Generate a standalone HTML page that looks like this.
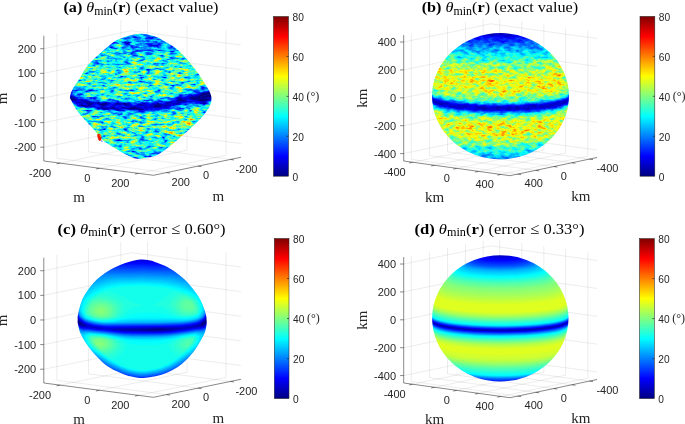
<!DOCTYPE html>
<html><head><meta charset="utf-8"><style>
html,body{margin:0;padding:0;background:#fff;}
svg{display:block;will-change:transform;}
.tk{font-family:"Liberation Sans",sans-serif;font-size:11px;fill:#262626;}
.cb{font-family:"Liberation Sans",sans-serif;font-size:10.2px;fill:#262626;}
.deg{font-family:"Liberation Serif",serif;font-size:12px;fill:#262626;}
.ul{font-family:"Liberation Serif",serif;font-size:15px;fill:#262626;}
.ttl{font-family:"Liberation Serif",serif;font-size:15.6px;fill:#000;}
</style></head><body>
<svg width="685" height="424" viewBox="0 0 685 424">
<defs><linearGradient id="jetv" x1="0" y1="1" x2="0" y2="0"><stop offset="0" stop-color="#000080"/><stop offset="0.125" stop-color="#0000ff"/><stop offset="0.375" stop-color="#00ffff"/><stop offset="0.625" stop-color="#ffff00"/><stop offset="0.875" stop-color="#ff0000"/><stop offset="1" stop-color="#800000"/></linearGradient><mask id="cpa" maskUnits="userSpaceOnUse" x="0" y="0" width="685" height="424"><path d="M70,96.5C70.3,94.4 71.7,90.8 73.2,88C74.7,85.2 76.9,82.9 79,79.5C81.1,76.1 83.2,71.4 86,67.7C88.8,64 92.7,60.3 96,57.1C99.3,53.9 102.7,51 106,48.3C109.3,45.5 113,42.5 116,40.6C119,38.8 121.2,38.2 124,37.2C126.8,36.2 130,35.4 133,34.8C136,34.2 138.8,33.7 142,33.8C145.2,33.9 148.9,34.7 152,35.6C155.1,36.5 157.6,37.5 160.5,39C163.4,40.5 166.5,42.4 169.5,44.3C172.5,46.2 175.1,47.3 178.3,50.2C181.5,53.1 185.6,57.6 188.9,61.5C192.2,65.4 195.5,69.5 198.3,73.5C201.2,77.5 204.1,82.4 206,85.5C207.9,88.6 208.9,90 209.8,92C210.7,94 211.3,95.3 211.4,97.5C211.5,99.7 211.6,102.1 210.3,105C209,107.9 206.5,111.7 203.8,115C201.1,118.3 197.6,121.7 194.1,125C190.6,128.3 186.9,131.7 183.1,135C179.3,138.3 175.7,141.7 171.4,145C167.1,148.3 161.5,152.8 157.1,155C152.7,157.2 148.7,157.3 145.2,157.9C141.7,158.5 139.3,159.2 136,158.6C132.7,158 129.6,156.4 125.5,154.3C121.4,152.2 115.2,148.4 111.4,146C107.6,143.6 105.4,142.7 102.6,140C99.8,137.3 97.2,133.3 94.3,130C91.3,126.7 87.9,123.3 84.9,120C82,116.7 78.9,113.2 76.6,110C74.3,106.8 72.4,102.8 71.3,100.5C70.2,98.2 69.7,98.6 70,96.5Z" fill="#fff"/></mask><filter id="nza" x="66" y="30" width="150" height="133" filterUnits="userSpaceOnUse" color-interpolation-filters="sRGB"><feTurbulence type="fractalNoise" baseFrequency="0.13 0.38" numOctaves="3" seed="3" result="t0"/><feColorMatrix in="t0" type="matrix" values="1 0 0 0 0 1 0 0 0 0 1 0 0 0 0 0 0 0 0 1" result="n0"/><feComposite in="SourceGraphic" in2="n0" operator="arithmetic" k1="1.450" k2="0.275" k3="0.217" k4="-0.109" result="s0"/><feTurbulence type="fractalNoise" baseFrequency="0.035 0.07" numOctaves="2" seed="11" result="t1"/><feColorMatrix in="t1" type="matrix" values="1 0 0 0 0 1 0 0 0 0 1 0 0 0 0 0 0 0 0 1" result="n1"/><feComposite in="s0" in2="n1" operator="arithmetic" k1="0.200" k2="0.900" k3="0.030" k4="-0.015" result="s1"/><feComponentTransfer in="s1"><feFuncR type="table" tableValues="0 0 0 0 0.5 1 1 1 0.5"/><feFuncG type="table" tableValues="0 0 0.5 1 1 1 0.5 0 0"/><feFuncB type="table" tableValues="0.5 1 1 1 0.5 0 0 0 0"/></feComponentTransfer><feComposite in2="SourceAlpha" operator="in"/></filter><mask id="cpb" maskUnits="userSpaceOnUse" x="0" y="0" width="685" height="424"><path d="M432,96.2a68.5,63.1 0 1,0 137,0a68.5,63.1 0 1,0 -137,0Z" fill="#fff"/></mask><filter id="nzb" x="428" y="29" width="145" height="134" filterUnits="userSpaceOnUse" color-interpolation-filters="sRGB"><feTurbulence type="fractalNoise" baseFrequency="0.16 0.3" numOctaves="3" seed="7" result="t0"/><feColorMatrix in="t0" type="matrix" values="1 0 0 0 0 1 0 0 0 0 1 0 0 0 0 0 0 0 0 1" result="n0"/><feComposite in="SourceGraphic" in2="n0" operator="arithmetic" k1="0.720" k2="0.640" k3="0.072" k4="-0.036" result="s0"/><feTurbulence type="fractalNoise" baseFrequency="0.05" numOctaves="2" seed="5" result="t1"/><feColorMatrix in="t1" type="matrix" values="1 0 0 0 0 1 0 0 0 0 1 0 0 0 0 0 0 0 0 1" result="n1"/><feComposite in="s0" in2="n1" operator="arithmetic" k1="0.150" k2="0.925" k3="0.015" k4="-0.007" result="s1"/><feComponentTransfer in="s1"><feFuncR type="table" tableValues="0 0 0 0 0.5 1 1 1 0.5"/><feFuncG type="table" tableValues="0 0 0.5 1 1 1 0.5 0 0"/><feFuncB type="table" tableValues="0.5 1 1 1 0.5 0 0 0 0"/></feComponentTransfer><feComposite in2="SourceAlpha" operator="in"/></filter><mask id="cpc" maskUnits="userSpaceOnUse" x="0" y="0" width="685" height="424"><path d="M77.5,318.6C77.7,316 78.4,312.4 79.1,309.5C79.8,306.6 80.6,303.7 81.6,301.2C82.6,298.7 83.5,296.9 84.9,294.6C86.3,292.3 88,289.7 89.9,287.2C91.8,284.7 94,282.1 96.5,279.8C99,277.5 101.7,275.3 104.7,273.2C107.7,271.1 111.3,269 114.6,267.4C117.9,265.8 121.2,264.5 124.5,263.3C127.8,262.1 131.5,261 134.4,260.4C137.3,259.8 139.6,259.5 142,259.5C144.4,259.5 146.8,259.9 149,260.3C151.2,260.7 152.3,261 154.9,261.9C157.5,262.8 161.5,264.1 164.8,265.7C168.1,267.3 171.7,269.4 174.7,271.5C177.7,273.6 180.4,275.9 182.9,278.1C185.4,280.3 187.3,282.2 189.5,284.7C191.7,287.2 194.2,290.2 196.1,293C198,295.8 199.7,298.4 201.1,301.2C202.5,303.9 203.5,306.9 204.4,309.5C205.3,312.1 205.9,314.7 206.3,316.5C206.7,318.3 206.8,319.1 206.8,320.5C206.8,321.9 206.8,323.1 206.5,324.9C206.2,326.7 206.1,329 205.2,331.5C204.3,334 202.7,337.1 201.2,339.8C199.7,342.6 198.2,345.2 196.3,348C194.4,350.8 192.2,353.7 189.8,356.3C187.4,358.9 185,361.4 182.1,363.7C179.2,366 175.6,368.4 172.2,370.3C168.8,372.2 165.2,373.7 161.5,374.8C157.8,375.9 153.2,376.7 149.9,377.2C146.7,377.7 144.3,377.9 142,377.9C139.7,377.9 138.7,377.8 136.1,377.4C133.5,377 129.5,376.4 126.2,375.3C122.9,374.2 119.6,372.8 116.3,371.1C113,369.5 109.4,367.6 106.4,365.4C103.4,363.2 100.8,360.5 98.2,357.9C95.6,355.3 93,352.4 90.8,349.7C88.6,346.9 86.5,344.1 84.8,341.4C83.1,338.6 81.5,335.9 80.4,333.2C79.3,330.4 78.6,327.3 78.1,324.9C77.6,322.5 77.3,321.2 77.5,318.6Z" fill="#fff"/></mask><mask id="cpd" maskUnits="userSpaceOnUse" x="0" y="0" width="685" height="424"><path d="M432.1,318.3a68.2,63.1 0 1,0 136.4,0a68.2,63.1 0 1,0 -136.4,0Z" fill="#fff"/></mask></defs>
<rect width="685" height="424" fill="#fff"/>
<path d="M43.8,147.22L131.3,129.22M131.3,129.22L240.9,143.52M43.8,122.6L131.3,104.6M131.3,104.6L240.9,118.9M43.8,97.97L131.3,79.97M131.3,79.97L240.9,94.27M43.8,73.35L131.3,55.35M131.3,55.35L240.9,69.65M43.8,48.73L131.3,30.73M131.3,30.73L240.9,45.03M56.92,158.3L56.92,33M56.92,158.3L166.52,172.6M88.42,151.82L88.42,26.52M88.42,151.82L198.02,166.12M120.8,145.16L120.8,19.86M120.8,145.16L230.4,159.46M147.52,145.12L147.52,19.82M60.02,163.12L147.52,145.12M186.98,150.26L186.98,24.96M99.48,168.26L186.98,150.26M225.99,155.36L225.99,30.06M138.49,173.36L225.99,155.36" fill="none" stroke="#262626" stroke-opacity="0.17" stroke-width="0.5"/>
<path d="M43.8,35.7L43.8,161L153.4,175.3L240.9,157.3" fill="none" stroke="#262626" stroke-width="0.55" stroke-linejoin="round"/>
<path d="M43.8,147.22l-3.6,0M43.8,122.6l-3.6,0M43.8,97.97l-3.6,0M43.8,73.35l-3.6,0M43.8,48.73l-3.6,0M60.02,163.12l-3.53,0.73M99.48,168.26l-3.53,0.73M138.49,173.36l-3.53,0.73M166.52,172.6l3.57,0.47M198.02,166.12l3.57,0.47M230.4,159.46l3.57,0.47" fill="none" stroke="#262626" stroke-width="0.55"/>
<text x="36.2" y="151.16" text-anchor="end" class="tk">-200</text>
<text x="36.2" y="126.53" text-anchor="end" class="tk">-100</text>
<text x="36.2" y="101.91" text-anchor="end" class="tk">0</text>
<text x="36.2" y="77.29" text-anchor="end" class="tk">100</text>
<text x="36.2" y="52.67" text-anchor="end" class="tk">200</text>
<text x="51.02" y="176.75" text-anchor="end" class="tk">-200</text>
<text x="90.48" y="181.9" text-anchor="end" class="tk">0</text>
<text x="129.49" y="186.99" text-anchor="end" class="tk">200</text>
<text x="171.52" y="185.84" text-anchor="start" class="tk">200</text>
<text x="203.02" y="179.36" text-anchor="start" class="tk">0</text>
<text x="235.4" y="172.7" text-anchor="start" class="tk">-200</text>
<path d="M403.7,153.57L490.8,135.37M490.8,135.37L597.1,150.07M403.7,125.69L490.8,107.49M490.8,107.49L597.1,122.19M403.7,97.8L490.8,79.6M490.8,79.6L597.1,94.3M403.7,69.91L490.8,51.71M490.8,51.71L597.1,66.41M403.7,42.02L490.8,23.82M490.8,23.82L597.1,38.52M411.28,159.42L411.28,33.52M411.28,159.42L517.58,174.12M429.39,155.63L429.39,29.73M429.39,155.63L535.69,170.33M447.51,151.85L447.51,25.95M447.51,151.85L553.81,166.55M465.54,148.08L465.54,22.18M465.54,148.08L571.84,162.78M483.14,144.4L483.14,18.5M483.14,144.4L589.44,159.1M499.73,144.03L499.73,18.13M412.63,162.23L499.73,144.03M521.73,147.08L521.73,21.18M434.63,165.28L521.73,147.08M543.84,150.14L543.84,24.24M456.74,168.34L543.84,150.14M565.64,153.15L565.64,27.25M478.54,171.35L565.64,153.15M587.85,156.22L587.85,30.32M500.75,174.42L587.85,156.22" fill="none" stroke="#262626" stroke-opacity="0.17" stroke-width="0.5"/>
<path d="M403.7,35.1L403.7,161L510,175.7L597.1,157.5" fill="none" stroke="#262626" stroke-width="0.55" stroke-linejoin="round"/>
<path d="M403.7,153.57l-3.6,0M403.7,125.69l-3.6,0M403.7,97.8l-3.6,0M403.7,69.91l-3.6,0M403.7,42.02l-3.6,0M412.63,162.23l-3.52,0.74M434.63,165.28l-3.52,0.74M456.74,168.34l-3.52,0.74M478.54,171.35l-3.52,0.74M500.75,174.42l-3.52,0.74M517.58,174.12l3.57,0.49M535.69,170.33l3.57,0.49M553.81,166.55l3.57,0.49M571.84,162.78l3.57,0.49M589.44,159.1l3.57,0.49" fill="none" stroke="#262626" stroke-width="0.55"/>
<text x="396.1" y="157.51" text-anchor="end" class="tk">-400</text>
<text x="396.1" y="129.62" text-anchor="end" class="tk">-200</text>
<text x="396.1" y="101.74" text-anchor="end" class="tk">0</text>
<text x="396.1" y="73.85" text-anchor="end" class="tk">200</text>
<text x="396.1" y="45.96" text-anchor="end" class="tk">400</text>
<text x="405.73" y="175.87" text-anchor="end" class="tk">-400</text>
<text x="449.84" y="181.97" text-anchor="end" class="tk">0</text>
<text x="493.85" y="188.06" text-anchor="end" class="tk">400</text>
<text x="524.58" y="187.35" text-anchor="start" class="tk">400</text>
<text x="560.81" y="179.78" text-anchor="start" class="tk">0</text>
<text x="596.44" y="172.34" text-anchor="start" class="tk">-400</text>
<path d="M43.8,369.22L131.3,351.22M131.3,351.22L240.9,365.52M43.8,344.6L131.3,326.6M131.3,326.6L240.9,340.9M43.8,319.97L131.3,301.97M131.3,301.97L240.9,316.27M43.8,295.35L131.3,277.35M131.3,277.35L240.9,291.65M43.8,270.73L131.3,252.73M131.3,252.73L240.9,267.03M56.92,380.3L56.92,255M56.92,380.3L166.52,394.6M88.42,373.82L88.42,248.52M88.42,373.82L198.02,388.12M120.8,367.16L120.8,241.86M120.8,367.16L230.4,381.46M147.52,367.12L147.52,241.82M60.02,385.12L147.52,367.12M186.98,372.26L186.98,246.96M99.48,390.26L186.98,372.26M225.99,377.36L225.99,252.06M138.49,395.36L225.99,377.36" fill="none" stroke="#262626" stroke-opacity="0.17" stroke-width="0.5"/>
<path d="M43.8,257.7L43.8,383L153.4,397.3L240.9,379.3" fill="none" stroke="#262626" stroke-width="0.55" stroke-linejoin="round"/>
<path d="M43.8,369.22l-3.6,0M43.8,344.6l-3.6,0M43.8,319.97l-3.6,0M43.8,295.35l-3.6,0M43.8,270.73l-3.6,0M60.02,385.12l-3.53,0.73M99.48,390.26l-3.53,0.73M138.49,395.36l-3.53,0.73M166.52,394.6l3.57,0.47M198.02,388.12l3.57,0.47M230.4,381.46l3.57,0.47" fill="none" stroke="#262626" stroke-width="0.55"/>
<text x="36.2" y="373.15" text-anchor="end" class="tk">-200</text>
<text x="36.2" y="348.53" text-anchor="end" class="tk">-100</text>
<text x="36.2" y="323.91" text-anchor="end" class="tk">0</text>
<text x="36.2" y="299.29" text-anchor="end" class="tk">100</text>
<text x="36.2" y="274.67" text-anchor="end" class="tk">200</text>
<text x="51.02" y="398.75" text-anchor="end" class="tk">-200</text>
<text x="90.48" y="403.9" text-anchor="end" class="tk">0</text>
<text x="129.49" y="408.99" text-anchor="end" class="tk">200</text>
<text x="171.52" y="407.84" text-anchor="start" class="tk">200</text>
<text x="203.02" y="401.36" text-anchor="start" class="tk">0</text>
<text x="235.4" y="394.7" text-anchor="start" class="tk">-200</text>
<path d="M403.7,375.57L490.8,357.37M490.8,357.37L597.1,372.07M403.7,347.69L490.8,329.49M490.8,329.49L597.1,344.19M403.7,319.8L490.8,301.6M490.8,301.6L597.1,316.3M403.7,291.91L490.8,273.71M490.8,273.71L597.1,288.41M403.7,264.02L490.8,245.82M490.8,245.82L597.1,260.52M411.28,381.42L411.28,255.52M411.28,381.42L517.58,396.12M429.39,377.63L429.39,251.73M429.39,377.63L535.69,392.33M447.51,373.85L447.51,247.95M447.51,373.85L553.81,388.55M465.54,370.08L465.54,244.18M465.54,370.08L571.84,384.78M483.14,366.4L483.14,240.5M483.14,366.4L589.44,381.1M499.73,366.03L499.73,240.13M412.63,384.23L499.73,366.03M521.73,369.08L521.73,243.18M434.63,387.28L521.73,369.08M543.84,372.14L543.84,246.24M456.74,390.34L543.84,372.14M565.64,375.15L565.64,249.25M478.54,393.35L565.64,375.15M587.85,378.22L587.85,252.32M500.75,396.42L587.85,378.22" fill="none" stroke="#262626" stroke-opacity="0.17" stroke-width="0.5"/>
<path d="M403.7,257.1L403.7,383L510,397.7L597.1,379.5" fill="none" stroke="#262626" stroke-width="0.55" stroke-linejoin="round"/>
<path d="M403.7,375.57l-3.6,0M403.7,347.69l-3.6,0M403.7,319.8l-3.6,0M403.7,291.91l-3.6,0M403.7,264.02l-3.6,0M412.63,384.23l-3.52,0.74M434.63,387.28l-3.52,0.74M456.74,390.34l-3.52,0.74M478.54,393.35l-3.52,0.74M500.75,396.42l-3.52,0.74M517.58,396.12l3.57,0.49M535.69,392.33l3.57,0.49M553.81,388.55l3.57,0.49M571.84,384.78l3.57,0.49M589.44,381.1l3.57,0.49" fill="none" stroke="#262626" stroke-width="0.55"/>
<text x="396.1" y="379.51" text-anchor="end" class="tk">-400</text>
<text x="396.1" y="351.62" text-anchor="end" class="tk">-200</text>
<text x="396.1" y="323.74" text-anchor="end" class="tk">0</text>
<text x="396.1" y="295.85" text-anchor="end" class="tk">200</text>
<text x="396.1" y="267.96" text-anchor="end" class="tk">400</text>
<text x="405.73" y="397.87" text-anchor="end" class="tk">-400</text>
<text x="449.84" y="403.97" text-anchor="end" class="tk">0</text>
<text x="493.85" y="410.06" text-anchor="end" class="tk">400</text>
<text x="524.58" y="409.35" text-anchor="start" class="tk">400</text>
<text x="560.81" y="401.78" text-anchor="start" class="tk">0</text>
<text x="596.44" y="394.34" text-anchor="start" class="tk">-400</text>
<text x="79" y="201.9" text-anchor="middle" class="ul">m</text>
<text x="218.4" y="200.5" text-anchor="middle" class="ul">m</text>
<text transform="translate(6.8,98.5) rotate(-90)" text-anchor="middle" class="ul">m</text>
<text x="434.7" y="202.3" text-anchor="middle" class="ul">km</text>
<text x="580.8" y="200.7" text-anchor="middle" class="ul">km</text>
<text transform="translate(367.1,98.1) rotate(-90)" text-anchor="middle" class="ul">km</text>
<text x="79" y="423.9" text-anchor="middle" class="ul">m</text>
<text x="218.4" y="422.5" text-anchor="middle" class="ul">m</text>
<text transform="translate(6.8,320.5) rotate(-90)" text-anchor="middle" class="ul">m</text>
<text x="434.7" y="424.3" text-anchor="middle" class="ul">km</text>
<text x="580.8" y="422.7" text-anchor="middle" class="ul">km</text>
<text transform="translate(367.1,320.1) rotate(-90)" text-anchor="middle" class="ul">km</text>
<rect x="273.5" y="16.5" width="15" height="159.7" fill="url(#jetv)" stroke="#262626" stroke-width="0.55"/>
<text x="292.5" y="181.06" class="cb">0</text>
<text x="292.5" y="141.13" class="cb">20</text>
<text x="292.5" y="101.21" class="cb">40</text>
<text x="292.5" y="61.28" class="cb">60</text>
<text x="292.5" y="21.36" class="cb">80</text>
<path d="M288.5,136.27h-2M288.5,96.35h-2M288.5,56.42h-2" stroke="#262626" stroke-width="0.7"/>
<text x="306.5" y="99.85" class="deg">(°)</text>
<rect x="640" y="16.4" width="14.8" height="159.8" fill="url(#jetv)" stroke="#262626" stroke-width="0.55"/>
<text x="658.8" y="181.06" class="cb">0</text>
<text x="658.8" y="141.11" class="cb">20</text>
<text x="658.8" y="101.16" class="cb">40</text>
<text x="658.8" y="61.21" class="cb">60</text>
<text x="658.8" y="21.26" class="cb">80</text>
<path d="M654.8,136.25h-2M654.8,96.3h-2M654.8,56.35h-2" stroke="#262626" stroke-width="0.7"/>
<text x="672.8" y="99.8" class="deg">(°)</text>
<rect x="274.3" y="238.5" width="14.7" height="160.1" fill="url(#jetv)" stroke="#262626" stroke-width="0.55"/>
<text x="293" y="403.46" class="cb">0</text>
<text x="293" y="363.43" class="cb">20</text>
<text x="293" y="323.41" class="cb">40</text>
<text x="293" y="283.38" class="cb">60</text>
<text x="293" y="243.36" class="cb">80</text>
<path d="M289,358.58h-2M289,318.55h-2M289,278.52h-2" stroke="#262626" stroke-width="0.7"/>
<text x="307" y="322.05" class="deg">(°)</text>
<rect x="639.5" y="238.6" width="14.8" height="160" fill="url(#jetv)" stroke="#262626" stroke-width="0.55"/>
<text x="658.3" y="403.46" class="cb">0</text>
<text x="658.3" y="363.46" class="cb">20</text>
<text x="658.3" y="323.46" class="cb">40</text>
<text x="658.3" y="283.46" class="cb">60</text>
<text x="658.3" y="243.46" class="cb">80</text>
<path d="M654.3,358.6h-2M654.3,318.6h-2M654.3,278.6h-2" stroke="#262626" stroke-width="0.7"/>
<text x="672.3" y="322.1" class="deg">(°)</text>
<g mask="url(#cpa)"><g filter="url(#nza)"><path d="M70,96.5C70.3,94.4 71.7,90.8 73.2,88C74.7,85.2 76.9,82.9 79,79.5C81.1,76.1 83.2,71.4 86,67.7C88.8,64 92.7,60.3 96,57.1C99.3,53.9 102.7,51 106,48.3C109.3,45.5 113,42.5 116,40.6C119,38.8 121.2,38.2 124,37.2C126.8,36.2 130,35.4 133,34.8C136,34.2 138.8,33.7 142,33.8C145.2,33.9 148.9,34.7 152,35.6C155.1,36.5 157.6,37.5 160.5,39C163.4,40.5 166.5,42.4 169.5,44.3C172.5,46.2 175.1,47.3 178.3,50.2C181.5,53.1 185.6,57.6 188.9,61.5C192.2,65.4 195.5,69.5 198.3,73.5C201.2,77.5 204.1,82.4 206,85.5C207.9,88.6 208.9,90 209.8,92C210.7,94 211.3,95.3 211.4,97.5C211.5,99.7 211.6,102.1 210.3,105C209,107.9 206.5,111.7 203.8,115C201.1,118.3 197.6,121.7 194.1,125C190.6,128.3 186.9,131.7 183.1,135C179.3,138.3 175.7,141.7 171.4,145C167.1,148.3 161.5,152.8 157.1,155C152.7,157.2 148.7,157.3 145.2,157.9C141.7,158.5 139.3,159.2 136,158.6C132.7,158 129.6,156.4 125.5,154.3C121.4,152.2 115.2,148.4 111.4,146C107.6,143.6 105.4,142.7 102.6,140C99.8,137.3 97.2,133.3 94.3,130C91.3,126.7 87.9,123.3 84.9,120C82,116.7 78.9,113.2 76.6,110C74.3,106.8 72.4,102.8 71.3,100.5C70.2,98.2 69.7,98.6 70,96.5Z" fill="#020202"/><path d="M214.5,162L66,162L66,30L214.5,30L214.5,162ZM205.2,100L207.5,99.2L209.5,98L210.5,96.9L211.2,95.5L212.1,95L211.7,94.5L211,94.1L209.5,94.7L205.6,94.5L198.8,95.5L193.6,98.5L197,99.6L200,100.2L205.2,100Z" fill="#050505"/><path d="M214.5,162L66,162L66,30L214.5,30L214.5,162ZM202.8,100.5L205.5,100.2L208.1,99.5L210.3,98L211.5,96L213.5,95.4L214,95L210.5,93.3L209.5,93.8L200,95L197.3,95.5L192.2,98.5L192.4,99L198.1,100.5L202.8,100.5Z" fill="#080808"/><path d="M214.5,162L66,162L66,30L214.5,30L214.5,94.6L210.5,92.7L210,92.7L208,93.7L196.3,95.5L194.9,96L189.9,99L196.5,100.6L200,100.8L204,100.6L208.7,99.5L210.5,98.5L211.5,96.8L214.5,96L214.5,162Z" fill="#0b0b0b"/><path d="M214.5,162L66,162L66,30L214.5,30L214.5,93.9L210,92.1L209,93L207.5,93.5L199.5,94.6L193.6,96L187.3,99.5L188,99.8L195,100.9L203.5,100.8L208.5,99.8L210.5,98.7L211.5,97.2L214.5,96.8L214.5,162Z" fill="#0e0e0e"/><path d="M214.5,162L66,162L66,97.2L69.5,97.2L70,97.7L70.1,97.5L69.5,96.8L66,96.8L66,30L214.5,30L214.5,93.2L210,91.9L209,92.8L207.5,93.3L199,94.5L192.6,96L186.5,99L181.1,101L182,101.2L187.5,100.6L194.5,101.2L203.6,101L206.5,100.6L209,99.8L210.5,99L211.5,97.5L214.5,97.5L214.5,162Z" fill="#121212"/><path d="M144,106L131,106L117,105.5L104.5,104.7L93,103.5L84.5,102.1L77.5,100.6L74.5,99.6L72,98.4L70.5,97.1L70,95.9L66,96L66,30L214.5,30L214.5,92.8L210,91.7L209,92.5L207.5,93.1L196,94.9L190.1,96.5L185,98.8L179,100.9L172,102.8L166,104.1L156,105.5L144,106ZM214.5,162L66,162L66,98L69.5,98L70,98.2L71,99.6L72.3,100.5L77.5,102.4L84,103.9L91,105.1L101.5,106.3L113,107.1L126,107.7L139,107.9L151,107.6L160.5,106.7L167.5,105.5L181,102.2L185.5,101.4L200,101.4L204.5,101.1L207.5,100.5L209.5,99.8L211,98.7L211.5,97.7L214.5,97.8L214.5,162Z" fill="#151515"/><path d="M151,105L138.5,105.3L123,105L108.5,104.2L95.5,103L86,101.6L78.4,100L74.5,98.7L72,97.5L70.9,96.5L70,94.9L66,95L66,30L214.5,30L214.5,92.6L210,91.5L208.5,92.5L207.5,92.8L198.5,94.2L192,95.7L187.6,97L178.5,100.2L169.5,102.6L161,104.1L151,105ZM214.5,162L66,162L66,98.8L70,98.8L71.5,100.6L72.5,101.2L78,103.3L84.5,104.8L92.5,106L103,107.2L114.5,108L127.5,108.5L140,108.7L151.5,108.4L161,107.4L168,106.2L180.5,103L185,102.2L190,101.7L201,101.5L205,101.2L209.5,100L211,98.9L211.5,97.9L214.5,98.1L214.5,162Z" fill="#181818"/><path d="M154.5,104L147.5,104.5L125,104.4L112.5,103.8L100,102.8L88,101.3L80.5,99.9L76.5,98.8L73,97.4L71.1,96L70.3,94.5L66,94.5L66,30L214.5,30L214.5,92.4L209.5,91.3L208.9,92L207.5,92.6L199.5,93.8L195,94.7L170,101.8L162,103.4L154.5,104ZM214.5,162L66,162L66,99.5L70.5,99.5L71.5,100.9L73,102L76.5,103.5L80.1,104.5L87.5,106L94.5,107L104,108L119.2,109L140,109.4L153.7,109L162.3,108L168,106.9L182.5,103.2L187.5,102.3L193,101.8L202,101.7L206,101.2L210,99.9L211,99.1L211.5,98.1L214.5,98.3L214.5,162Z" fill="#1b1b1b"/><path d="M150.5,104L140.5,104.3L126.5,104.1L108,103.2L97,102.2L86,100.6L79,99.2L75.5,98.1L72.5,96.7L71,95.5L70.5,94.2L66,94.2L66,30L214.5,30L214.5,92.2L209.5,91L208.5,92L207.5,92.4L195,94.5L169,101.7L160.5,103.2L150.5,104ZM214.5,162L66,162L66,99.8L70.5,99.8L71.3,100.5L71.4,101L72.7,102L76.5,103.7L84,105.6L93.5,107.1L103.5,108.2L116.5,109.1L129.5,109.6L142,109.7L154.5,109.2L163.5,108.1L171,106.6L183.5,103.3L188,102.5L193,102L202,101.9L206,101.4L210,100.1L211,99.3L211.5,98.3L214.5,98.5L214.5,162Z" fill="#1e1e1e"/><path d="M144.5,104L132.5,104L117.5,103.5L105,102.7L93.5,101.5L85,100.2L78.5,98.8L75,97.7L72.5,96.5L71,95.1L70.5,93.9L66,94L66,30L214.5,30L214.5,92L209.5,90.8L208.5,91.7L207,92.3L195,94.3L174.5,100.1L167,101.9L157,103.4L144.5,104ZM214.5,162L66,162L66,100L70.5,100L73,102.3L77.5,104.2L84.5,105.9L93.5,107.3L103.5,108.4L116.5,109.3L129.5,109.8L142,109.9L153.1,109.5L162.4,108.5L169.5,107.1L182.5,103.8L187.5,102.7L192,102.2L201.5,102.1L206,101.6L210,100.3L211,99.5L211.5,98.5L214.5,98.7L214.5,162Z" fill="#212121"/><path d="M152,103.5L139.5,103.9L124.5,103.6L109.5,102.8L96.5,101.7L86.5,100.3L79,98.7L75.5,97.6L73,96.5L71.5,95.4L70.5,93.6L66,93.8L66,30L214.5,30L214.5,91.8L209.5,90.7L208.4,91.5L207,92L195,94.1L169,101.3L161,102.7L152,103.5ZM214.5,162L66,162L66,100.2L70.5,100.2L71,100.4L71.3,101L73,102.5L77.5,104.3L84.5,106L94,107.5L104.5,108.7L116.5,109.5L129.5,110L142,110.1L153.5,109.7L162.5,108.7L169.5,107.3L182.5,104L187.5,102.9L192,102.4L201.5,102.3L206,101.8L210,100.5L211,99.7L211.5,98.7L214.5,98.9L214.5,162Z" fill="#252525"/><path d="M147.5,103.5L134.5,103.6L120,103.2L106.5,102.4L94.5,101.2L85.5,99.9L78.5,98.3L75,97.2L72.6,96L71.4,95L70.5,93.4L66,93.5L66,30L214.5,30L214.5,91.6L209.4,90.5L207,91.8L195,93.9L174.5,99.7L167.5,101.4L158,102.8L147.5,103.5ZM214.5,162L66,162L66,100.5L71,100.5L72,101.9L73,102.6L77.5,104.5L84.5,106.2L94,107.7L104.5,108.9L116.5,109.7L129.5,110.2L142,110.3L153.5,109.9L162.5,108.9L169.5,107.5L182.5,104.2L187.5,103.2L192,102.6L201.5,102.5L206,102L210,100.7L211,100L211.5,98.9L214.5,99.1L214.5,162Z" fill="#282828"/><path d="M153.5,103L141.5,103.4L126,103.2L111,102.5L97.5,101.4L87.5,100L79.5,98.4L75.5,97.2L73,96L71.5,94.8L70.5,93.1L66,93.3L66,30L214.5,30L214.5,91.4L209,90.3L208,91.2L207,91.6L194.5,93.8L169.5,100.7L162,102.1L153.5,103ZM214.5,162L66,162L66,100.7L71,100.7L73,102.8L77.5,104.7L84.5,106.4L94,107.9L104.5,109.1L116.5,109.9L129.5,110.4L142,110.5L153.5,110.1L162.5,109.1L169.5,107.8L182.5,104.4L187.5,103.4L192,102.8L201.5,102.6L206,102.2L210,100.9L211,100.2L211.5,99.1L214.5,99.3L214.5,162Z" fill="#2b2b2b"/><path d="M150,103L137.5,103.2L122.5,102.9L108,102.1L95.5,100.9L86,99.5L79,98L75.5,96.9L73,95.8L71.5,94.5L71,93L70.5,92.8L66,93L66,30L214.5,30L214.5,91.3L209,90L208,90.9L207,91.3L194.5,93.6L168.5,100.7L160,102.2L150,103ZM214.5,162L66,162L66,100.9L71,100.9L72.5,102.6L73.5,103.2L77.5,104.9L84.5,106.6L94,108.1L104.5,109.3L116.5,110.1L129.5,110.6L142,110.7L153.5,110.3L162.5,109.3L169.5,108L182.5,104.6L187.5,103.6L192.5,103L202.5,102.8L206.5,102.3L210,101.1L211,100.4L211.5,99.4L214.5,99.5L214.5,162Z" fill="#2e2e2e"/><path d="M142,103L129,102.9L115.5,102.4L103.5,101.5L92.5,100.3L83,98.7L76,96.9L72.3,95L71.5,94.1L71,92.5L66,92.8L66,30L214.5,30L214.5,91.1L209,89.8L208,90.6L206.5,91.2L195,93.3L174,99.2L166.5,100.9L155.5,102.4L142,103ZM214.5,162L66,162L66,101.1L71,101.1L73.5,103.4L78,105.2L85,106.9L94.5,108.4L105,109.5L117,110.3L129.5,110.8L142,110.9L153.5,110.5L162.5,109.5L169.5,108.2L182.5,104.8L187.5,103.8L192.5,103.2L202.5,103L206.5,102.5L210,101.3L211,100.6L211.5,99.6L214.5,99.7L214.5,162Z" fill="#313131"/><path d="M151.5,102.5L139,102.8L123.5,102.5L109,101.8L96,100.6L84.5,98.8L76.5,96.8L74,95.8L72.5,94.9L71.5,93.6L71,92.1L66,92.5L66,30L214.5,30L214.5,90.9L208.5,89.6L208,90.3L206.5,91L194.5,93.2L169,100.2L160.5,101.7L151.5,102.5ZM214.5,162L66,162L66,101.3L71.5,101.5L72.5,102.8L73.5,103.5L78,105.4L85,107.1L94.5,108.6L105,109.7L117,110.5L129.5,111L142,111.1L153.5,110.7L162.5,109.7L169.5,108.4L182.5,105L187.5,104L192,103.4L202,103.2L206.5,102.7L210,101.5L211,100.8L211.5,99.8L214.5,100L214.5,162Z" fill="#353535"/><path d="M146.5,102.5L133,102.6L118.5,102.1L105,101.2L94,100.1L83.9,98.5L76.2,96.5L74,95.5L72.5,94.5L71.7,93.5L71.3,92L71,91.8L66,92.2L66,30L214.5,30L214.5,90.7L208.5,89.4L208,90L206.5,90.7L194.5,92.9L168.5,100.1L158.5,101.7L146.5,102.5ZM214.5,162L66,162L66,101.6L71.5,101.6L72.5,102.9L73.5,103.7L78,105.6L85,107.3L94.5,108.8L105,109.9L117,110.7L129.5,111.2L142,111.3L153.5,110.9L162.5,109.9L169.5,108.6L182.5,105.2L187.5,104.2L192,103.6L202,103.4L206.5,102.8L210,101.7L211,101L211.5,100L214.5,100.2L214.5,162Z" fill="#383838"/><path d="M152.5,102L139.5,102.4L123,102.1L109,101.3L94.9,100L84.5,98.4L76.5,96.3L74,95.3L72.5,94.2L71.8,93L71.5,91.4L66,91.9L66,30L214.5,30L214.5,90.5L208.5,89.2L207.5,90.1L206.4,90.5L194,92.8L170.2,99.5L162.5,101L152.5,102ZM151,44L151,43.5L149.5,43L147.6,43L146.2,43.5L146.4,44L148,44.4L149.5,44.4L151,44ZM214.5,162L66,162L66,101.8L71.5,101.8L73.5,103.8L78,105.8L85,107.5L94.5,109L105,110.1L117,111L129.5,111.4L142,111.5L153.5,111.1L162.5,110.2L169.5,108.8L182.5,105.4L187.5,104.4L192,103.8L202,103.5L206.5,103L210,101.9L211,101.1L211.5,100.2L214.5,100.4L214.5,162Z" fill="#3b3b3b"/><path d="M148.5,102L135.5,102.2L120.5,101.8L106.5,100.9L94.5,99.7L83.7,98L76.3,96L74.1,95L72.7,94L72,93L71.5,91.1L66,91.6L66,30L214.5,30L214.5,90.3L208.5,89L207.5,89.8L206,90.4L194,92.6L168,99.8L159,101.2L148.5,102ZM153.3,46L155.3,45.5L157,44.6L157.4,44L157.2,43L155.8,42L153.5,41.2L150.5,40.7L147,40.6L144,40.9L141.5,41.5L139.7,42.5L139.2,43.5L139.8,44.5L140.7,45L144.1,46L149,46.4L153.3,46ZM214.5,162L66,162L66,102L71.5,102L74,104.3L78,106L85,107.7L94.5,109.2L105,110.3L117,111.2L129.5,111.6L142,111.8L153.5,111.3L162.5,110.4L169.5,109L182.5,105.6L188,104.5L193,104L203,103.7L206.5,103.2L210,102.1L211,101.3L211.5,100.4L214.5,100.6L214.5,162Z" fill="#3e3e3e"/><path d="M153.5,101.5L141,101.9L125.5,101.7L110,101L96.5,99.7L85,98L77,96L74.6,95L73,93.9L72.3,93L71.8,91L71.5,90.8L66,91.3L66,30L214.5,30L214.5,90.1L208.5,88.8L206,90.1L193.6,92.5L169.5,99.2L162,100.6L153.5,101.5ZM154.5,47L158.5,46L160.2,45L160.9,44L161,43.5L160.5,42.5L158.3,41L155,39.8L151,39L146.5,38.8L142,39.2L138.5,40.1L135.8,41.5L134.9,43L135.2,44L136.2,45L138.4,46L141,46.7L148,47.4L154.5,47ZM214.5,162L66,162L66,102.2L71.5,102.2L72,102.4L73,103.7L74,104.5L78.5,106.3L85.5,108L95,109.5L105.5,110.6L117,111.4L129.5,111.8L142,112L153.5,111.6L162.5,110.6L169.5,109.2L182.5,105.8L188,104.7L193,104.2L203,103.8L206.5,103.4L210,102.3L211,101.5L211.5,100.6L214.5,100.8L214.5,162Z" fill="#414141"/><path d="M149.5,101.5L136.5,101.7L121.5,101.4L107,100.5L94.5,99.3L83.5,97.5L76.5,95.6L74.3,94.5L73.1,93.5L72.4,92.5L72,90.7L71.5,90.4L66,91.1L66,30L214.5,30L214.5,89.9L208,88.5L207,89.5L206,89.9L193.5,92.3L168.5,99.2L159.5,100.7L149.5,101.5ZM154.1,48L158.5,47.2L161.8,46L163.5,44.5L163.8,43.5L163.4,42.5L161,40.5L156,38.3L150,36.9L145,36.3L141,36.7L136,38.2L132.7,40L131.6,41L131,42L131.1,43.5L132.5,45L134.3,46L137.4,47L141,47.7L145.5,48.2L154.1,48ZM214.5,162L66,162L66,102.4L72,102.5L73,103.8L74,104.6L78.5,106.5L85.5,108.2L95,109.7L105.5,110.8L117.5,111.6L130.5,112.1L142.5,112.2L153.5,111.8L162.5,110.8L170,109.3L186.5,105.1L192,104.4L205.5,103.8L208,103.2L210,102.5L211,101.7L211.5,100.8L214.5,101L214.5,162Z" fill="#454545"/><path d="M154,101L141.5,101.5L126,101.3L110.5,100.5L96.5,99.3L84.5,97.5L80,96.4L76.5,95.3L74.1,94L73,92.9L72.4,91.5L72.8,90L72.5,89.4L68.7,90.5L66,90.8L66,34.1L93.5,34.7L118.5,34.5L130.1,35L130.5,35.5L130.4,36L127.5,39.5L126.7,41.5L126.8,42.5L127.2,43.5L128.8,45L132,46.6L137.1,48L143,48.8L149,49.1L154.5,48.8L159.5,48L163.5,46.6L165.7,45L166.1,43.5L165.5,42.1L163.4,40L158.9,36.5L158.9,36L159.6,35.5L161,35L169.9,33.5L177.5,31.4L185.6,30L198.6,30L214.5,32.7L214.5,89.7L208,88.3L207,89.2L205.5,89.8L193.5,92.1L170,98.6L162,100.2L154,101ZM214.5,162L66,162L66,102.6L72,102.6L73,104L74,104.8L78.5,106.7L86,108.5L95.5,109.9L106,111L117.5,111.8L130.5,112.3L142.5,112.4L153.5,112L162.5,111L170,109.5L186.5,105.4L192.5,104.6L205.5,104L209.5,102.9L211,101.9L211.5,101L214.5,101.2L214.5,162Z" fill="#484848"/><path d="M150.5,101L137.5,101.3L122,100.9L107.5,100.1L95,98.9L83.5,97L76.5,95L74.5,93.9L73.1,92.5L72.8,92L72.9,91.5L74.8,90.5L75,90L72.5,88.8L66,90.5L66,35.8L93.5,36.8L114.5,36.7L121.5,37.2L123,37.5L122.4,38L121.8,40L121.9,41.5L122.3,42.5L124.1,44.5L126.6,46L130.6,47.5L136.5,48.8L142.5,49.6L149,49.8L154.5,49.6L159.5,48.9L163.5,47.9L166.4,46.5L167.6,45.5L168.2,44.5L168.5,41.5L167.6,38.5L167.7,37.5L169.5,36L172.5,35L186,32.8L192,32.4L197.5,32.6L203.8,33.5L214.5,34.5L214.5,89.5L208,88.1L206.8,89L205.5,89.5L193,92L169,98.6L160,100.2L150.5,101ZM214.5,162L66,162L66,102.9L72,102.9L74,104.9L78.5,106.8L86,108.7L95.5,110.1L106,111.2L117.5,112L130.5,112.5L142.5,112.6L153.5,112.2L162.5,111.2L170,109.7L186.5,105.6L192.5,104.8L205.5,104.1L209.5,103.1L211,102.1L211.5,101.2L214.5,101.4L214.5,162Z" fill="#4b4b4b"/><path d="M144,101L130.5,101L116.5,100.5L103.5,99.5L92,98.2L84.6,97L79,95.6L75.5,94.2L73.5,92.5L74,91.9L79.5,90.5L83.5,90.5L86.9,90L87.6,89.5L86.9,89L81.5,88.5L76,89.2L72.5,88.3L68.8,89L66,90L66,37.8L92.5,39.4L110,39.3L116,39.7L117.1,40L116.8,41L117,42L118.6,44L122.1,46L126.1,47.5L131.5,48.9L137,49.8L143.5,50.4L149.5,50.6L155,50.3L160,49.7L164,48.8L167.5,47.5L169,46.5L169.9,45.5L170.3,44.5L171.8,42.5L172.6,39.5L173.6,38L176,36.6L179.5,35.6L186.5,34.6L194.5,34.4L202,34.8L214.5,36.2L214.5,89.3L208,87.9L206.3,89L204.6,89.5L200,90.2L193,91.8L174,97.2L167,98.8L156.5,100.4L144,101ZM214.5,162L66,162L66,103.1L72,103.1L74.5,105.4L79,107.2L86,108.9L95.5,110.3L106,111.4L117.5,112.2L130.5,112.7L142.5,112.8L153.5,112.4L162.5,111.4L170,109.9L186.5,105.8L192.5,105L205.5,104.3L208,103.8L210,103L211,102.2L211.5,101.4L214.5,101.6L214.5,162Z" fill="#4e4e4e"/><path d="M151.5,100.5L138,100.8L122,100.5L107,99.6L93.5,98.2L86.5,97.1L81,95.9L76.8,94.5L74.5,93L75.5,92.3L81.5,91.1L86,90.9L89,90.4L90.2,90L90.7,89.5L89.5,88.8L84.1,88L79.5,88L75.5,88.5L73,87.9L66,89.2L66,39.8L76,40.4L93.5,42.5L108,42.4L112.5,42.6L113.5,44.4L115.1,45.5L118.9,47L124.4,48.5L130.5,49.8L137,50.7L143.5,51.3L149.5,51.4L155,51.1L160,50.6L164.5,49.7L168.2,48.5L171,46.9L174,44L177,40L178.2,39L180.5,37.8L184,36.8L189.5,36.1L196,36L202.5,36.5L214.5,38L214.5,89.1L207.5,87.8L206.5,88.6L205.5,88.9L201,89.6L196.5,90.6L169,98.2L160.5,99.7L151.5,100.5ZM214.5,162L66,162L66,103.3L72,103.3L72.5,103.4L73.5,104.8L74.5,105.5L79,107.4L86,109.1L95.5,110.5L106,111.6L117.5,112.4L130.5,112.9L142.5,113L153.5,112.6L162.5,111.6L170,110.1L186.5,106L193,105.1L204.5,104.7L209,103.7L210.5,102.9L211.5,101.6L214.5,101.8L214.5,162Z" fill="#515151"/><path d="M146.5,100.5L132.5,100.6L117,100L103,99.1L91,97.6L81,95.7L77.6,94.5L75.8,93.5L76.4,93L78.3,92.5L83.5,91.5L89.3,91L92.7,90L93.1,89.5L92.7,89L91.5,88.5L87.5,87.8L82,87.5L75,88L73,87.6L66,88.6L66,41.9L76.5,43L94.5,46.2L98.5,46.3L109,45.4L110.5,46.9L112.5,47.7L125.5,50.2L138,51.8L149.5,52.2L155.5,52L160.5,51.4L165,50.6L169,49.4L172.5,47.7L173.8,46.5L176.9,44.5L179,42.5L181.6,40.5L184,39.3L187.1,38.5L192,37.9L197.5,37.9L214.5,40L214.5,88.9L207.5,87.4L206,88.2L198,89.7L176,96.2L168,98.2L158,99.8L146.5,100.5ZM146.5,157L140,157.2L133.5,156.8L130,156.3L126,155.1L66,155.1L66,103.5L72.5,103.5L73.5,104.9L74.5,105.7L79,107.6L86,109.2L95.5,110.7L106,111.8L117.5,112.6L130.5,113.1L142.5,113.2L153.5,112.8L162.5,111.8L169.5,110.4L183,106.9L188,105.9L193.5,105.3L205.5,104.9L209.5,103.8L210.5,103.2L211.5,101.9L214.5,102.1L214.5,152.6L199.5,149.4L194.5,148.9L189.5,149L183,149.8L168,153L159.5,154.2L156.4,155.5L153,156.3L146.5,157Z" fill="#545454"/><path d="M152.5,100L139,100.4L122,100L106.5,99.1L93,97.7L83.4,96L79.7,95L77.6,94L79.9,93L84.3,92L90.5,91.3L94.1,90.5L95.1,90L95.4,89.5L95,89L94,88.5L89,87.5L83,87.1L74.5,87.5L73,87.3L66,88.1L66,44.1L76.4,45.5L88.5,49.6L93,50.7L98,50.7L104.5,49.5L105.2,50.5L107,50.9L118,51L137.5,52.8L149,53.2L160.5,52.4L165,51.6L169.4,50.5L173.2,49L175.2,47.5L179.3,45.5L184.6,42L187,41.1L190,40.4L194,40L199,40.1L214.5,42L214.5,88.6L207,86.9L205.5,87.6L197,89.3L189.6,92L170.5,97.4L162,99.1L152.5,100ZM147,155L138.5,155.1L130.5,154.7L125.5,154L123.5,153.4L121.5,152.5L120.5,152.4L66,152.4L66,103.8L72.5,103.8L74.5,105.8L79,107.7L86.5,109.5L96,111L106.5,112.1L118,112.9L130.5,113.3L142.5,113.4L153.5,113L162.6,112L170.1,110.5L184.5,106.8L190,105.8L195,105.4L201.5,105.8L205.5,105.5L209.5,104.3L211.5,102.5L214.5,102.3L214.5,150.1L199.5,147L194.5,146.6L189,146.7L182,147.6L164,151.1L161.4,152.5L156.5,153.9L147,155Z" fill="#585858"/><path d="M148,100L133.5,100.1L117.5,99.6L103,98.6L90.5,97.1L82.4,95.5L80.9,95L80.6,94.5L80.9,94L81.9,93.5L86,92.4L92.5,91.6L95.5,90.9L97.3,90L97.6,89.5L97.2,89L95,88.1L92.4,87.5L84.5,86.8L73.5,87L66,87.7L66,46.5L70.5,47.2L74.5,48.2L86,52.5L89.5,53.5L94.5,54.2L99,53.9L100.5,54.8L103,55.1L106,54.9L114.5,53.5L119.5,53.2L144.5,54.3L151.5,54.2L158,53.8L165,52.8L171,51.3L174.5,49.9L176.5,48.5L186.5,44.3L192,42.7L196,42.3L200.5,42.4L214.5,44.1L214.5,88.2L206.5,86.3L205,87.1L196.5,88.9L186.9,92.5L169.1,97.5L159.5,99.2L148,100ZM147,153L137,153.1L127.5,152.6L120.8,151.5L117,150L116,149.9L66,149.9L66,104L72.5,104L74,105.6L75.5,106.6L79.5,108.1L86,109.6L95,111.1L104.5,112.1L118,113.1L142,113.6L153.5,113.2L162.5,112.2L170,110.7L184.5,107L190.5,106L195,105.8L201.5,106.4L205.5,106.1L209.5,104.9L210.5,104.2L211,103.4L214.5,102.8L214.5,147.6L204.5,145.5L199.5,144.7L194,144.4L188.5,144.6L181.5,145.5L168,148L166.5,149.1L164.5,150L158.5,151.7L153,152.5L147,153Z" fill="#5b5b5b"/><path d="M151.5,99.5L138.5,99.8L122.5,99.5L105.8,98.5L95,97.3L87.5,96L85,95.1L84.4,94.5L84.6,94L85.5,93.5L88.4,92.5L96,91.5L98,90.9L99.7,90L99.8,89.5L99.4,89L97.3,88L91.5,86.9L83,86.3L73.5,86.6L66,87.3L66,49.3L70.5,50.2L74.5,51.4L88.1,56.5L92,57.3L95.5,57.5L97.5,58.5L100.5,58.8L104,58.4L115.5,56.1L121.5,55.3L127.5,55.2L148.5,55.6L155.5,55.3L162,54.6L171,52.7L175.5,51.1L178.1,49.5L188.5,46.2L194,45.1L201.5,45.1L214.5,46.7L214.5,87.6L206,85.6L205.5,86.1L204.5,86.5L195.5,88.5L182,93.5L171.8,96.5L162,98.5L151.5,99.5ZM147,151L135.5,151.1L124.5,150.4L117.5,149.3L114,148.1L113,147.5L112,147.3L66,147.3L66,104.3L72.5,104.3L73.1,104.5L73.2,105L74,105.8L75.5,106.8L81,108.8L87.5,110.2L98,111.7L116.5,113.3L128.5,113.8L142,113.9L150.5,113.7L161.5,112.6L169.5,111.1L183.2,107.5L188.5,106.4L191.5,106.2L200,106.9L205,106.8L209,105.7L210,105.2L211,104.1L214.5,103.6L214.5,145.1L205.5,143.4L200,142.6L194,142.4L188,142.7L172,145L170.5,146.1L167.5,147.5L160,149.5L154,150.5L147,151Z" fill="#5e5e5e"/><path d="M154,98.5L141.5,99L126,98.8L110.5,98L97.5,96.8L90.5,95.5L89,94.9L88.4,94.5L88.5,94L90,93L99.1,91.5L101,90.8L102.2,90L102.2,89.5L101.9,89L99.5,87.8L93,86.6L83.5,85.9L75.5,86L66,86.9L66,52.2L73.6,54L81.5,57.3L86,58.8L89.5,59.6L93,60L94,60.7L96,61.3L100.5,61.7L106,61.1L116.5,58.6L123.5,57.6L130,57.3L150,57.2L162,56.2L167.5,55.2L173,53.7L177,52.2L179.5,50.7L188,48.5L193,47.7L197,47.5L201,47.6L214.5,49.3L214.5,86.9L206,85L204,85.9L194.5,88.2L181.5,92.8L172,95.6L163,97.5L154,98.5ZM148,148.5L134.5,148.7L121.5,147.9L112.8,146.5L109,145.2L108,144.5L107,144.3L66,144.3L66,104.8L73,104.8L74.5,106.5L76,107.4L80,108.9L86.5,110.4L96,111.9L105.5,112.9L116.5,113.7L139.5,114.4L153,113.9L162,112.9L170,111.3L182.1,108L186.5,107.1L191,107L201,107.6L205,107.4L209,106.3L210.5,104.9L214.5,104.5L214.5,142.2L206.5,141.1L199,140.6L193.5,140.5L187,141L176,142.3L170.5,144.8L162,146.9L155.5,147.9L148,148.5Z" fill="#616161"/><path d="M147.5,98L135.5,98.1L121.5,97.8L108.5,97L98.8,96L93.9,95L92.8,94.5L92.4,94L92.6,93.5L93.5,93.2L99.5,92.3L103.5,91.1L104.6,90.5L105,90L104.7,89L102.9,88L99.4,87L95,86.2L89,85.7L78,85.4L71.5,85.8L66,86.5L66,55.2L71,56.6L82.5,60.5L86.5,61.5L90.5,62.1L93.5,63.5L97,64.1L101,64.3L108,63.6L121,61L127,60.2L151,59.4L162,58.3L167,57.4L173.5,55.7L178,54L181,52.3L192.5,50.1L196.5,49.9L201,50.1L214.5,52L214.5,86.3L205.5,84.3L203.5,85.4L194.5,87.5L179.5,92.6L169.5,95.4L159.5,97.1L147.5,98ZM145.5,145.5L130.5,145.4L116.5,144.4L111,143.6L107,142.8L104.9,142L102.5,140.5L102,140.4L66,140.4L66,105.8L73.5,105.8L76,108.1L80,109.8L87,111.5L96,112.9L105.5,113.9L116.5,114.7L140,115.4L151,115L159.5,114.1L167,112.6L181.5,108.9L186.5,108L190.5,107.7L200.5,108.2L205,108L208.5,107.1L210.5,105.6L214.5,105.3L214.5,138.7L207.5,138.1L201,138.1L179,139.7L178,139.9L176.5,140.9L174.5,141.6L165,143.6L155.5,144.9L145.5,145.5Z" fill="#646464"/><path d="M151.5,97L140,97.3L126,97.1L112.5,96.5L102.4,95.5L98.5,94.8L96.5,94L97.2,93.5L102.5,92.7L106.7,91.5L108.4,90.5L108.5,89.5L108.1,89L106,87.8L102.5,86.8L97.5,85.9L91.5,85.2L77.5,84.7L66,85.6L66,58.8L82.1,63L85,64.2L91,66.1L95,66.6L102.5,66.8L109,66.3L127,64L150,63.1L160.5,62L167,60.7L174,58.7L180,56.3L183,54.3L189.5,53.4L194.5,53.1L199.5,53.3L214.5,55.4L214.5,85.6L205,83.7L203.5,84.4L200.5,84.6L198,85.2L193.9,87L183,90.6L171,94.2L161.5,96L151.5,97ZM154.5,142L145.5,142.4L136,142.5L126.5,142.2L117.5,141.5L110,140.6L104.5,139.5L101.5,138.5L99,136.8L66,136.8L66,106.9L74.5,107L75.5,108.4L76.5,109.1L80.5,110.8L87.5,112.5L97,114L106.5,115L117.5,115.7L140,116.4L149.5,116.1L157.5,115.3L165.5,113.8L179.5,110.2L185,109L191,108.5L204.5,108.8L208,108.2L212,106.5L214.5,106.2L214.5,135.4L204,135.4L181,137.5L178.5,138.8L173,139.9L164,141.2L154.5,142Z" fill="#686868"/><path d="M154,96L143.5,96.4L130.5,96.4L116.5,95.9L106.2,95L103,94.5L104,94L109.5,92.9L113,91.7L114.2,91L114.1,90L113.8,89.5L111.6,88L108,86.8L103,85.7L96.5,84.8L76.5,83.6L66,84.2L66,62.2L70.4,63L77.5,66.7L88,70.2L93,71.1L98.5,71.3L104.5,70.8L112.5,69L117.5,68.5L128,67.8L150,67.2L161.5,66L168.5,64.5L175.5,62.3L182.5,59.2L184.3,58L185,57L186.5,56.8L192,56.5L197.5,56.6L214.5,59.1L214.5,84.6L211,82.7L207,81.5L203,81.1L199,81.5L195.5,82.5L193,83.7L190.4,85.5L188,88L182.3,90L174,92.5L167.5,94.1L161,95.3L154,96ZM166.5,138.5L158,138.9L135.5,138.7L123.5,138.2L112.5,137.3L104,136L98.5,134.4L97,133.5L96,132.5L66,132.4L66,108L75,108L75.2,108.5L77,110.1L81,111.8L88,113.5L97,114.9L116,116.7L138,117.4L149.5,117.1L158.5,116.1L166,114.6L181,110.7L187,109.6L191,109.3L195.5,109.3L201.5,110.4L205.5,110.6L211,109.5L214.5,108.3L214.5,132.2L209.5,132.2L204,132.8L191,134.7L183.5,135.5L181,136.6L177,137.5L166.5,138.5Z" fill="#6b6b6b"/><path d="M153.5,88L140,88.5L128.5,88L106,84.3L83.5,81.7L80.5,80.7L79.7,80L79,79L66,79.6L66,71.8L81.5,74.8L82.5,75.6L84.5,76.4L90,77.7L98,78.6L107,78.7L126,77.8L149,77.3L161.5,76.1L170.5,74.1L180.5,71L189.5,67.5L191,66.6L192.5,65.2L200.5,65.8L214.5,68L214.5,77.6L206.5,76.1L200,75.2L197,76.8L172.5,84.8L163.5,86.9L153.5,88ZM174,136L169.5,135.9L156.5,133.7L150.5,133L123,132L107,130.6L100,129.5L94.5,128.2L91.5,127L89,125.2L66,125.2L66,115.4L80,115.4L80.5,115.5L80.7,116L83,117.6L86.5,119L93,120.5L102,121.9L119,123.4L135.5,123.8L141.5,123.5L146,122.7L151,120.9L157.1,117.5L166,115.5L180.5,111.6L187,110.4L191.5,110.1L199,112.1L203.5,112.9L206.5,112.8L214.5,113.3L214.5,126.1L204.5,130L193,132.5L185.5,133.5L184,134.4L181.5,135.1L174,136Z" fill="#6e6e6e"/><path d="M182,133.5L178.5,133.9L172,133.2L166.5,131.8L158.5,129L160.2,125.5L161.7,123L163.8,120.5L166.7,118L169.8,116L173,114.5L180.5,112.5L183,112.1L186,112.1L192,112.9L202,115.6L204,115.8L207.5,117.4L210,119L210,119.5L203.5,125.5L199.5,128.5L194,130.2L188.5,131.3L185.5,132.7L182,133.5Z" fill="#717171"/><path d="M183.5,131.5L180,131.6L176,131.2L172.5,130.3L169,129L166.9,128L166.6,127.5L167.4,124.5L169.4,121.5L172.5,118.8L176.5,116.7L181.5,115.4L186,115L190.5,115.5L195,116.6L200.5,118.7L200.6,119L199.2,121L198.8,122.5L198,124L195.6,126.5L193.2,128L190.5,128.9L188,130.5L183.5,131.5Z" fill="#747474"/><path d="M183.5,129L179.5,128.9L175.5,128L172.3,126.5L172.6,125L174,122.6L176,120.8L178.5,119.4L182,118.4L185.5,118L189,118.2L192.5,119L195.8,120.5L195.3,122L194.4,123.5L191.5,126.3L188,128.1L183.5,129Z" fill="#787878"/><path d="M183,125.5L180,125.2L178.7,124.5L180.5,122.9L183,121.8L186.5,121.5L189.2,122L188.2,123.5L186.8,124.5L185,125.2L183,125.5Z" fill="#7b7b7b"/></g></g>
<g mask="url(#cpb)"><g filter="url(#nzb)"><path d="M432,96.2a68.5,63.1 0 1,0 137,0a68.5,63.1 0 1,0 -137,0Z" fill="#020202"/><path d="M572,162.5L429,162.5L429,30L572,30L572,162.5Z" fill="#050505"/><path d="M572,162.5L429,162.5L429,30L572,30L572,162.5Z" fill="#080808"/><path d="M572,162.5L429,162.5L429,30L572,30L572,162.5Z" fill="#0b0b0b"/><path d="M572,162.5L429,162.5L429,30L471.3,30L472.6,33L492.5,33.2L494.5,33.5L500.5,33.6L506.5,33.5L508.5,33.2L528.4,33L529.7,30L572,30L572,162.5Z" fill="#0e0e0e"/><path d="M572,162.5L429,162.5L429,30L451.2,30L453.5,33L492.5,33.6L495,34.1L500.5,34.3L506,34.1L508.5,33.6L547.5,33L549.8,30L572,30L572,162.5Z" fill="#121212"/><path d="M511.5,107.5L497,107.6L483,107.3L468,106.5L457.5,105.5L447,104L440,102.4L436.5,101.3L434,100.2L432.5,99L432,97.8L429,97.8L429,30L429.3,30L432.6,33L488.5,33.9L490,34.3L494.5,34.8L500.5,35L506.5,34.8L511,34.3L512.5,33.9L568.4,33L571.7,30L572,30L572,97.8L569,97.8L568.5,99L567.5,99.9L563,101.8L558,103.2L551,104.5L533,106.5L511.5,107.5ZM572,162.5L429,162.5L429,99.3L432,99.3L432.5,100.4L434,101.6L439,103.6L445,105L453,106.4L463.5,107.5L475,108.4L487.5,108.9L500.5,109.1L513.5,108.9L526,108.4L537.5,107.5L548,106.4L556,105L562,103.6L567,101.6L568.5,100.4L569,99.3L572,99.3L572,162.5Z" fill="#151515"/><path d="M506.5,107L481,106.7L465.5,105.7L455.5,104.7L446,103.2L439.5,101.8L434,99.6L432.5,98.4L432,97.3L429,97.3L429,33.3L486,34.4L487,34.8L491.5,35.3L500.5,35.6L509.5,35.3L514,34.8L515,34.4L572,33.3L572,97.3L569,97.3L568.5,98.4L567,99.6L561.5,101.8L555,103.2L549,104.2L541,105.2L529,106.2L506.5,107ZM572,162.5L429,162.5L429,100L432,100L432.5,101L434,102.3L436.5,103.5L439.5,104.5L445.5,105.9L452.3,107L460.5,108L472.6,109L482.4,109.5L500.5,109.8L518.6,109.5L528.4,109L540.5,108L548.7,107L555.5,105.9L561.5,104.5L564.5,103.5L567,102.3L568.5,101L569,100L572,100L572,162.5Z" fill="#181818"/><path d="M516.5,106.5L501.5,106.8L486,106.6L472,105.9L459,104.8L448.5,103.4L440.5,101.7L436.5,100.5L434,99.3L432.5,98.2L432,97L429,97L429,33.6L483.5,34.9L484.5,35.3L490,36L500.5,36.3L511,36L516.5,35.3L517.5,34.9L572,33.6L572,97L569,97L568.5,98.2L567.5,99L563.5,100.8L559,102.1L553,103.3L536.5,105.3L516.5,106.5ZM572,162.5L429,162.5L429,100.4L432,100.4L432.5,101.3L434,102.7L439,104.7L445,106.1L453.5,107.5L464,108.7L475.5,109.5L500.5,110.2L525.5,109.5L537,108.7L547.5,107.5L556,106.1L562,104.7L567,102.7L568.5,101.3L569,100.4L572,100.4L572,162.5Z" fill="#1b1b1b"/><path d="M503,106.5L489.5,106.4L476.5,105.9L464.5,105L454,103.9L445.5,102.6L439,101L434,99.1L432.5,97.9L432,96.7L429,96.7L429,34L481.5,35.5L482.5,35.9L487.5,36.6L500.5,37L513.5,36.6L518.5,35.9L519.5,35.5L572,34L572,96.7L569,96.7L568.5,97.9L567,99.1L562,101L556,102.5L548.5,103.7L538.5,104.9L527.5,105.7L503,106.5ZM572,162.5L429,162.5L429,100.6L432,100.6L432.5,101.6L434,102.9L439,104.9L445,106.3L453.5,107.7L463.5,108.8L475,109.7L487.5,110.2L500.5,110.4L513.5,110.2L526,109.7L537.5,108.8L547.5,107.7L556,106.3L562,104.9L567,102.9L568.5,101.6L569,100.6L572,100.6L572,162.5Z" fill="#1e1e1e"/><path d="M515.5,106L500.5,106.2L485.5,106L471.5,105.3L458.5,104.2L448.5,102.8L440.5,101.2L436.5,99.9L434,98.8L432.5,97.6L432,96.4L429,96.4L429,34.5L478,36L483,37L486.5,37.3L500.5,37.7L514.5,37.3L518,37L523,36L572,34.5L572,96.4L569,96.4L568.5,97.6L567.5,98.5L563.5,100.3L559,101.5L553,102.7L536,104.8L515.5,106ZM572,162.5L429,162.5L429,100.9L432,100.9L433,102.4L434,103.1L436.5,104.3L439.5,105.3L445.5,106.7L453.5,108L463.5,109.1L475,109.9L487.5,110.5L500.5,110.6L513.5,110.5L526,109.9L537.5,109.1L547.5,108L555.5,106.7L561.5,105.3L564.5,104.3L567,103.1L568,102.4L569,100.9L572,100.9L572,162.5Z" fill="#212121"/><path d="M521.5,105.5L506,105.9L490,105.9L475,105.3L461,104.2L450,102.8L441,101L437.5,100L434.5,98.8L432.5,97.4L432,96.2L429,96.2L429,35.1L476.5,36.7L480.5,37.6L484.5,38L500.5,38.4L516.5,38L520.5,37.6L524.5,36.7L572,35.1L572,96.2L569,96.2L568.5,97.4L568,97.8L565.5,99.3L561,100.8L554.5,102.2L539.5,104.2L521.5,105.5ZM572,162.5L429,162.5L429,101.1L432,101.1L433,102.6L434,103.3L436.5,104.5L439.5,105.5L445.5,106.9L453.5,108.2L463.5,109.3L475,110.1L487.5,110.7L500.5,110.9L513.5,110.7L526,110.1L537.5,109.3L547.5,108.2L555.5,106.9L561.5,105.5L564.5,104.5L567,103.3L568,102.6L569,101.1L572,101.1L572,162.5Z" fill="#252525"/><path d="M514.5,105.5L499.5,105.7L483.5,105.4L472,104.8L460,103.8L449,102.4L441.5,100.9L436.5,99.4L434,98.3L432.5,97.1L432,95.9L429,95.9L429,35.7L475,37.3L478,38.1L483,38.7L500.5,39.1L518,38.7L523,38.1L526,37.3L572,35.7L572,95.9L569,95.9L568.5,97.1L567.5,98L563,99.9L557.5,101.4L552,102.4L535.5,104.4L514.5,105.5ZM572,162.5L429,162.5L429,101.3L432,101.3L433,102.8L434,103.5L436.5,104.7L439.5,105.7L445.5,107.1L453.5,108.4L463.5,109.5L475,110.4L487.5,110.9L500.5,111.1L513.5,110.9L526,110.4L537.5,109.5L547.5,108.4L555.5,107.1L561.5,105.7L564.5,104.7L567,103.5L568,102.8L569,101.3L572,101.3L572,162.5Z" fill="#282828"/><path d="M521,105L507.5,105.4L488,105.4L474,104.8L461,103.7L449.5,102.3L441.5,100.7L438,99.7L434.5,98.3L432.5,96.9L432,95.7L429,95.7L429,36.4L473.1,38L477.5,39.1L483.5,39.6L500.5,39.9L517.5,39.6L523.5,39.1L527.9,38L572,36.4L572,95.7L569,95.7L568,97.4L565.5,98.8L561,100.3L554.5,101.8L539.5,103.8L521,105ZM572,162.5L429,162.5L429,101.5L432,101.5L433,103L434,103.7L436.5,104.9L439.5,105.9L445.5,107.3L453.5,108.6L463.5,109.7L475,110.6L487.5,111.1L500.5,111.3L513.5,111.1L526,110.6L537.5,109.7L547.5,108.6L555.5,107.3L561.5,105.9L564.5,104.9L567,103.7L568,103L569,101.5L572,101.5L572,162.5Z" fill="#2b2b2b"/><path d="M517.5,105L503.5,105.3L487,105.2L474.5,104.6L458,103.2L447,101.7L440,100.1L434.5,98.2L432.5,96.7L432,95.5L429,95.5L429,37.1L471.5,38.7L475.5,39.7L482,40.3L500.5,40.6L519,40.3L525.5,39.7L529.5,38.7L572,37.1L572,95.5L569,95.5L568.5,96.7L568,97.2L565.5,98.6L561,100.1L554,101.7L538.5,103.7L517.5,105ZM572,162.5L429,162.5L429,101.8L432,101.8L433,103.2L434,104L439,106L445.3,107.5L453.5,108.8L463.5,110L475,110.8L487.5,111.4L500.5,111.5L513.5,111.4L526,110.8L537.5,110L547.5,108.8L555.7,107.5L562,106L567,104L568,103.2L569,101.8L572,101.8L572,162.5Z" fill="#2e2e2e"/><path d="M513,105L498,105.2L484,104.9L469.5,104.1L458,103.1L447.5,101.6L440.5,100.1L437,99L434,97.7L432.5,96.5L432,95.4L429,95.4L429,37.8L470,39.4L473.5,40.4L480,41L500.5,41.3L521,41L527.5,40.4L531,39.4L572,37.8L572,95.4L569,95.4L568.5,96.5L567.5,97.4L563,99.4L558.5,100.6L552,101.8L543,103.1L534.5,103.9L513,105ZM572,162.5L429,162.5L429,102L432,102L433,103.4L434.5,104.5L440,106.5L446.5,108L453,109L461.5,110L474.2,111L485,111.5L500.5,111.7L516,111.5L526.8,111L539.5,110L548,109L554.5,108L561,106.5L566.5,104.5L568,103.4L569,102L572,102L572,162.5Z" fill="#313131"/><path d="M504,105L490.5,104.9L477.5,104.4L465.5,103.6L454.5,102.5L446,101.2L439.5,99.7L434,97.6L432.5,96.4L432,95.2L429,95.2L429,38.5L468,40.1L472.5,41.2L478.5,41.8L500.5,42.1L522.5,41.8L528.5,41.2L533,40.1L572,38.5L572,95.2L569,95.2L568.5,96.4L567.5,97.3L565.5,98.3L562.5,99.4L556.5,100.9L549,102.1L539.5,103.3L528.5,104.2L504,105ZM572,162.5L429,162.5L429,102.2L432,102.2L433,103.6L434.3,104.5L439.4,106.5L445.8,108L452.5,109.1L461,110.1L473.5,111.1L484,111.6L500.5,111.9L517,111.6L527.5,111.1L540,110.1L548.5,109.1L555.2,108L561.6,106.5L566.7,104.5L568,103.6L569,102.2L572,102.2L572,162.5Z" fill="#353535"/><path d="M518.5,104.5L503.5,104.9L488,104.7L473.5,104.1L460,103L449.5,101.6L441,99.9L437.5,98.9L434.5,97.7L432.5,96.2L432,95.1L429,95.1L429,39.3L467,40.9L470,41.8L476.5,42.5L493,42.8L523,42.6L529.5,42.1L532,41.6L534,40.9L572,39.3L572,95.1L569,95.1L568,96.7L565,98.4L560,99.9L553.5,101.3L538,103.3L518.5,104.5ZM572,162.5L429,162.5L429,102.3L432,102.3L433,103.7L434.5,104.8L439.5,106.7L446,108.2L454.1,109.5L465,110.7L477,111.5L500.5,112.1L524,111.5L536,110.7L546.9,109.5L555,108.2L561.5,106.7L566.5,104.8L568,103.7L569,102.3L572,102.3L572,162.5Z" fill="#383838"/><path d="M514.5,104.5L499.5,104.7L485,104.5L471,103.8L458,102.6L448,101.2L440,99.5L436.5,98.4L434,97.3L432.5,96.1L432,94.9L429,94.9L429,40L465,41.7L468.5,42.7L473.5,43.2L488.5,43.5L525.5,43.3L532,42.8L536,41.7L572,40L572,94.9L569,94.9L568.5,96.1L567.5,96.9L563,98.9L558.5,100.1L552.5,101.3L535.5,103.3L514.5,104.5ZM572,162.5L429,162.5L429,102.5L432,102.5L433,103.9L434.5,105L439.5,106.9L445.5,108.3L453.5,109.6L463.5,110.7L475,111.6L487.5,112.1L500.5,112.3L513.5,112.1L526,111.6L537.5,110.7L547.5,109.6L555.5,108.3L561.5,106.9L566.5,105L568,103.9L569,102.5L572,102.5L572,162.5Z" fill="#3b3b3b"/><path d="M508,104.5L494,104.5L480.5,104.1L467.5,103.3L456,102.2L446.5,100.8L439.5,99.2L434,97.1L432.5,95.9L432,94.8L429,94.8L429,40.9L463.5,42.6L466.5,43.5L469.5,43.9L482,44.3L527.5,44.2L534,43.6L537.5,42.6L572,40.9L572,94.8L569,94.8L568.5,95.9L567.5,96.8L565.5,97.8L562.5,98.9L557,100.3L550.5,101.5L541.5,102.6L531,103.5L508,104.5ZM572,162.5L429,162.5L429,102.7L432,102.7L433,104L434.5,105.1L439.5,107L445.5,108.4L453.5,109.7L463.5,110.9L475,111.7L487.5,112.3L500.5,112.4L513.5,112.3L526,111.7L537.5,110.9L547.5,109.7L555.5,108.4L561.5,107L566.5,105.1L568,104L569,102.7L572,102.7L572,162.5Z" fill="#3e3e3e"/><path d="M520,104L504.5,104.4L489,104.3L474,103.6L460.5,102.6L449.5,101.1L441,99.5L437.5,98.5L434.5,97.2L432.5,95.8L432,94.6L429,94.6L429,41.8L462.5,43.5L466,44.6L472.5,45.1L501.5,45L523,45.2L533.5,44.8L536.5,44.3L538.5,43.5L572,41.8L572,94.6L569,94.6L568,96.3L565,97.9L560.5,99.3L554,100.7L539,102.7L520,104ZM500.5,159L492.5,158.8L484.5,158.1L479.5,157.2L479,156.9L478,156.8L477.5,156.4L476.5,156.4L476,156L474.5,155.7L429,155.7L429,102.9L432,102.9L433,104.2L434.5,105.3L439.5,107.2L445.5,108.6L453.5,109.9L463.5,111L475,111.9L487.5,112.4L500.5,112.6L513.5,112.4L526,111.9L537.5,111L547.5,109.9L555.5,108.6L561.5,107.2L566.5,105.3L568,104.2L569,102.9L572,102.9L572,155.7L526.5,155.7L525,156L524.5,156.4L523.5,156.4L523,156.8L522,156.9L521.5,157.2L516.5,158.1L508.5,158.8L500.5,159Z" fill="#414141"/><path d="M516,104L501,104.3L486,104L472,103.4L459,102.3L448.5,100.8L440.5,99.2L436.5,97.9L434,96.8L432.5,95.6L432,94.5L429,94.5L429,42.8L461,44.3L462.5,45L464.5,45.5L471,46.1L501,45.8L525,46.1L535.5,45.7L538,45.2L540,44.3L572,42.8L572,94.5L569,94.5L568.5,95.6L567.5,96.5L563.5,98.3L559,99.6L553,100.7L536.5,102.8L516,104ZM500.5,158.5L491,158.2L483,157.5L478,156.6L476,155.8L475,155.8L473.5,155L472,154.9L429,154.9L429,103L432,103L433,104.3L434.5,105.4L439.5,107.4L445.5,108.8L453.5,110.1L463.5,111.2L475,112.1L487.5,112.6L500.5,112.8L513.5,112.6L526,112.1L537.5,111.2L547.5,110.1L555.5,108.8L561.5,107.4L566.5,105.4L568,104.3L569,103L572,103L572,154.9L529,154.9L527.5,155L526,155.8L525,155.8L523,156.6L518,157.5L510,158.2L500.5,158.5Z" fill="#454545"/><path d="M510,104L495.5,104.1L481.5,103.7L468.9,103L456,101.8L447.4,100.5L439.5,98.8L434,96.6L432.5,95.4L432,94.3L429,94.3L429,43.7L459.5,45.2L462,46.2L464.5,46.6L474.5,47.1L500,46.6L531.5,47L538,46.4L541.5,45.2L572,43.7L572,94.3L569,94.3L568.5,95.4L567.5,96.3L563,98.3L557.5,99.7L550.5,101L542,102.1L532,103L510,104ZM513.5,157.5L500,158L487,157.5L481.5,156.9L476.5,156L474,155.2L473.5,154.8L472.5,154.8L471,154.1L429,154.1L429,103.2L432,103.2L433,104.5L434.5,105.6L439.5,107.5L445.5,108.9L453.5,110.2L463.5,111.4L475,112.2L487.5,112.8L500.5,112.9L513.5,112.8L526,112.2L537.5,111.4L547.5,110.2L555.5,108.9L561.5,107.5L566.5,105.6L568,104.5L569,103.2L572,103.2L572,154.1L530,154.1L528.5,154.8L527.5,154.8L526,155.6L522.1,156.5L513.5,157.5Z" fill="#484848"/><path d="M521,103.5L504.5,103.9L489.5,103.8L473.5,103.2L460.5,102.1L449,100.6L441,99L436.5,97.6L434,96.5L432.5,95.3L432,94.2L429,94.2L429,44.7L458,46.1L460.5,47.1L463,47.6L472.5,48L500,47.5L532.5,48L539,47.4L543,46.1L572,44.7L572,94.2L569,94.2L568.5,95.3L567.7,96L564.9,97.5L560,99L555,100.1L540.5,102.1L521,103.5ZM514,157L500,157.5L486,157L480.5,156.4L475.5,155.5L469,153.3L429,153.3L429,103.4L432,103.4L432.5,103.7L433,104.6L434.5,105.7L439.5,107.7L445.5,109.1L453.5,110.4L463.5,111.5L475,112.4L487.5,112.9L500.5,113.1L513.5,112.9L526,112.4L537.5,111.5L547.5,110.4L555.5,109.1L561.5,107.7L566.5,105.7L568,104.6L568.5,103.7L569,103.4L572,103.4L572,153.3L532,153.3L525.5,155.5L520.5,156.4L514,157Z" fill="#4b4b4b"/><path d="M517,103.5L500.5,103.8L484,103.5L473.4,103L461,102L449.3,100.5L441.6,99L438,98L434.5,96.6L432.5,95.1L432,94L429,94L429,45.7L456.5,47L457.5,47.1L459.1,48L461.6,48.5L471,49L500,48.3L533.5,48.9L540,48.4L544.5,47L572,45.7L572,94L569,94L568.5,95.1L567.5,96L564.5,97.5L559.5,99L554.5,100L540,102L527.6,103L517,103.5ZM514.5,156.5L500.5,157L486,156.5L480.9,156L474.6,155L471.5,154.1L468,152.6L429,152.6L429,103.5L432,103.5L432.5,103.8L433,104.8L434.5,105.9L439.5,107.8L445.5,109.3L453.5,110.6L463.5,111.7L475,112.6L487.5,113.1L500.5,113.3L513.5,113.1L526,112.6L537.5,111.7L547.5,110.6L555.5,109.3L561.5,107.8L566.5,105.9L568,104.8L568.5,103.8L569,103.5L572,103.5L572,152.6L533,152.6L529.5,154.1L526.4,155L520.1,156L514.5,156.5Z" fill="#4e4e4e"/><path d="M509.5,103.5L483.5,103.3L469,102.5L456.5,101.3L447.5,100L440,98.4L434.5,96.4L432.5,94.9L432,93.8L429,93.8L429,46.6L456,48L458,49L460.5,49.5L470,50L497,49.2L509,49.3L526.5,49.9L535,49.9L541.5,49.3L543.5,48.8L545,48L572,46.6L572,93.8L569,93.8L568.5,94.9L567.5,95.8L563,97.8L557,99.3L551,100.4L542.8,101.5L532,102.5L509.5,103.5ZM513,156L497.5,156.4L482.5,155.6L477,155L472,154L466,151.7L429,151.7L429,103.7L432.5,103.9L433,104.9L434.5,106.1L439.5,108L446,109.5L453.5,110.7L463.5,111.9L475,112.7L487.5,113.3L500.5,113.4L513.5,113.3L526,112.7L537.5,111.9L547.5,110.7L555,109.5L561.5,108L566.5,106.1L568,104.9L568.5,103.9L572,103.7L572,151.7L535,151.7L530.5,153.5L526.7,154.5L520.5,155.4L513,156Z" fill="#515151"/><path d="M519.5,103L504,103.4L488.5,103.2L473.5,102.6L460.1,101.5L449.5,100.1L441,98.4L437.5,97.4L434.5,96.2L432.5,94.7L432,93.6L429,93.6L429,47.6L455,48.9L456,49.6L458,50.2L465,50.9L473,50.9L487.5,50.3L500.5,50.5L513.5,50.3L532.5,50.9L542,50.4L544.5,49.8L546,48.9L572,47.6L572,93.6L569,93.6L568,95.2L565,96.9L560.5,98.3L554,99.7L538.5,101.7L519.5,103ZM511,155.5L495.5,155.7L481,154.9L471.5,153.5L468.5,152.6L465,151L464,150.8L429,150.8L429,103.9L432.5,103.9L433,105.1L434.5,106.2L439.5,108.2L446,109.7L455,111.1L465,112.2L478.5,113.1L500.5,113.6L522.5,113.1L536,112.2L546,111.1L555,109.7L561.5,108.2L566.5,106.2L568,105.1L568.5,103.9L572,103.9L572,150.8L537,150.8L536,151L531.5,153L527.5,153.9L520,154.9L511,155.5Z" fill="#545454"/><path d="M513.5,103L499,103.2L484.5,102.9L470.5,102.2L458,101.1L448,99.7L440.5,98.1L434.5,96L432.5,94.5L432,93.4L429,93.4L429,48.6L453.5,49.6L456,50.8L458.5,51.4L462.5,51.8L467.5,51.9L484,51.3L500.5,51.8L517,51.3L529.5,51.9L537,51.9L543.5,51.2L545.5,50.6L547.5,49.6L572,48.6L572,93.4L569,93.4L568.5,94.5L567.5,95.4L563,97.4L558,98.7L552,99.8L534.5,101.9L513.5,103ZM508,155L492,155L478,154L469,152.5L463,150L429,150L429,104.1L432.5,104.1L433,105.2L434,106.1L436,107.1L439,108.2L445.5,109.8L454.5,111.2L464,112.3L477,113.2L500.5,113.8L524,113.2L537,112.3L546.5,111.2L555.5,109.8L562,108.2L565,107.1L567,106.1L568,105.2L568.5,104.1L572,104.1L572,150L538,150L533.5,152L527.5,153.4L518.5,154.4L508,155Z" fill="#585858"/><path d="M521.5,102.5L506,102.9L490,102.9L475,102.3L461,101.2L450,99.8L441,98L437.5,97L434.5,95.8L432.7,94.5L432,93.2L429,93.2L429,49.5L453,50.4L454.5,51.4L456.4,52L463.5,52.8L469.5,52.9L481,52.4L500.5,53L520,52.4L531.5,52.9L537.5,52.8L544.6,52L546.5,51.4L548,50.4L572,49.5L572,93.2L569,93.2L568,94.8L565,96.5L560.5,97.9L554.5,99.2L539.5,101.2L521.5,102.5ZM516,154L498,154.5L480.5,153.7L474,152.9L468.9,152L465.5,151L463.5,150.2L462.5,149.4L461.5,149.2L429,149.2L429,104.3L432.5,104.3L433,105.4L435,106.9L440.5,108.9L447.5,110.4L454,111.4L463,112.4L476,113.4L488.5,113.9L500.5,114L512.5,113.9L525,113.4L538,112.4L547,111.4L553.5,110.4L560.5,108.9L566,106.9L568,105.4L568.5,104.3L572,104.3L572,149.2L539.5,149.2L538.5,149.4L537.5,150.2L535.5,151L531,152.2L524.5,153.3L516,154Z" fill="#5b5b5b"/><path d="M516.5,102.5L501.5,102.8L486.5,102.6L472,101.9L459,100.8L448.5,99.3L440.5,97.7L434.5,95.6L432.9,94.5L432,93L429,93L429,50.3L452,51.2L453.5,52.2L455.5,52.8L462.5,53.7L470.5,53.8L478.5,53.4L489.5,54.1L500.5,54.3L511.5,54.1L522.5,53.4L530.5,53.8L538.5,53.7L545.5,52.8L547.5,52.2L549,51.2L572,50.3L572,93L569,93L568.5,94L567.5,95L563.5,96.8L559,98.1L553,99.3L536.5,101.3L516.5,102.5ZM513.5,153.5L496,153.8L487,153.5L478.5,152.9L471.7,152L466.7,151L463.7,150L461,148.5L460,148.3L429,148.3L429,104.5L432.5,104.5L433,105.6L434.5,106.8L437,108L440,108.9L446,110.3L453.5,111.5L463.5,112.7L475,113.5L487.5,114.1L500.5,114.2L513.5,114.1L526,113.5L537.5,112.7L547.5,111.5L555,110.3L561,108.9L564,108L566.5,106.8L568,105.6L568.5,104.5L572,104.5L572,148.3L541,148.3L540,148.5L539,149.2L536,150.5L532.1,151.5L522.5,152.9L513.5,153.5Z" fill="#5e5e5e"/><path d="M508.5,102.5L494.5,102.5L480.5,102.1L467.5,101.4L456,100.2L447,98.9L440,97.3L436.5,96.2L434,95.1L432.5,93.8L432,92.8L429,92.8L429,51.2L451,52L452.6,53L454.5,53.6L461.5,54.5L468,54.7L476.5,54.4L488,55.2L500.5,55.4L513,55.2L524.5,54.4L533,54.7L539.5,54.5L546.5,53.6L548.4,53L550,52L572,51.2L572,92.8L569,92.8L568.5,93.8L567,95.1L562.5,96.9L557,98.3L550.5,99.5L541.5,100.6L531.5,101.5L508.5,102.5ZM516.5,152.5L500.5,153L484.5,152.5L475,151.7L467.5,150.6L463,149.4L460.5,148.2L459.5,147.4L458.5,147.2L429,147.2L429,104.8L432.5,104.8L433,105.8L434.5,107.1L437,108.2L440,109.2L446,110.6L454,111.9L464,113L475.5,113.8L488,114.3L500.5,114.5L513,114.3L525.5,113.8L537,113L547,111.9L555,110.6L561,109.2L564,108.2L566.5,107.1L568,105.8L568.5,104.8L572,104.8L572,147.2L542.5,147.2L541.5,147.4L540.5,148.2L538,149.4L533.5,150.6L526,151.7L516.5,152.5Z" fill="#616161"/><path d="M518.5,102L503.5,102.4L488,102.2L473.5,101.6L460,100.5L449.5,99.1L441,97.4L437.5,96.4L434.5,95.1L433,94.1L432,92.6L429,92.6L429,52L450.5,52.9L451.5,53.7L453.5,54.5L460.5,55.4L466.5,55.6L474.5,55.4L487.5,56.2L500.5,56.5L513.5,56.2L526.5,55.4L534.5,55.6L540.5,55.4L547.5,54.5L549.5,53.7L550.5,52.9L572,52L572,92.6L569,92.6L568,94.1L565,95.8L560,97.4L553.5,98.8L538,100.8L518.5,102ZM510,152L491.5,152L475,150.9L468.5,150L463.5,149L460.5,148L457.5,146.2L429,146.2L429,105.1L432.5,105.1L433,106L434.5,107.3L437,108.5L440,109.4L446,110.8L454,112.1L464,113.2L475.5,114.1L488,114.6L500.5,114.8L513,114.6L525.5,114.1L537,113.2L547,112.1L555,110.8L561,109.4L564,108.5L566.5,107.3L568,106L568.5,105.1L572,105.1L572,146.2L543.5,146.2L542,147.2L539.1,148.5L533,150L522.5,151.3L510,152Z" fill="#646464"/><path d="M512.5,102L498,102.2L483.5,101.9L470,101.1L457.5,100L447.5,98.6L440,96.9L436.5,95.8L434,94.6L432.5,93.4L432,92.4L429,92.4L429,52.9L449.5,53.7L451,54.7L452.5,55.3L459.5,56.2L473,56.3L486.5,57.2L500.5,57.5L514.5,57.2L528,56.3L541.5,56.2L548.5,55.3L550,54.7L551.5,53.7L572,52.9L572,92.4L569,92.4L568.5,93.4L567.5,94.3L563,96.3L558,97.7L552,98.8L543.5,100L534,100.9L512.5,102ZM514.5,151L498,151.3L481.5,150.7L471.5,149.7L464.1,148.5L460,147.3L456,145.1L429,145.1L429,105.3L432.5,105.3L433.5,106.8L434.5,107.5L437,108.7L440,109.7L446,111.1L454,112.4L464,113.5L475.5,114.3L488,114.8L500.5,115L513,114.8L525.5,114.3L537,113.5L547,112.4L555,111.1L561,109.7L564,108.7L566.5,107.5L567.5,106.8L568.5,105.3L572,105.3L572,145.1L545,145.1L540.6,147.5L535,148.9L526,150.1L514.5,151Z" fill="#686868"/><path d="M521,101.5L505.5,101.9L490,101.8L475,101.2L461,100.2L450,98.8L441,97L437.5,96L434.5,94.7L433,93.7L432,92.2L429,92.2L429,53.7L449,54.5L450,55.5L452,56.2L459,57.1L471.5,57.2L485.5,58.2L500.5,58.5L515.5,58.2L529.5,57.2L542,57.1L549,56.2L551,55.5L552,54.5L572,53.7L572,92.2L569,92.2L568,93.7L565,95.4L560.5,96.9L554.5,98.2L539.5,100.2L521,101.5ZM517.5,150L499.5,150.5L481.5,149.9L471,148.9L463,147.6L458.5,146.3L457,145.6L455.5,144.4L454.5,144.1L429,144.1L429,105.6L432.5,105.6L433.5,107L434.5,107.7L437,108.9L440,109.9L446,111.3L454,112.6L464,113.7L475.5,114.6L488,115.1L500.5,115.2L513,115.1L525.5,114.6L537,113.7L547,112.6L555,111.3L561,109.9L564,108.9L566.5,107.7L567.5,107L568.5,105.6L572,105.6L572,144.1L546.5,144.1L545.5,144.4L544,145.6L542,146.5L537,147.8L528.5,149.1L517.5,150Z" fill="#6b6b6b"/><path d="M515.5,101.5L500.5,101.7L485.5,101.5L470,100.7L458.5,99.7L448,98.2L440.5,96.7L434.5,94.5L433,93.5L432,91.9L429,91.9L429,54.6L448,55.3L449.5,56.4L451,57L458,58L470,58.1L484.5,59.2L500.5,59.6L516.5,59.2L531,58.1L543,58L550,57L551.5,56.4L553,55.3L572,54.6L572,91.9L569,91.9L568,93.5L567,94.2L562.8,96L553,98.2L537,100.2L515.5,101.5ZM510,149.5L490,149.5L472,148.2L465,147.2L459.5,146L456.5,145L453.5,143.1L429,143.1L429,105.8L432.5,105.8L433.5,107.2L435,108.3L440,110.2L446,111.6L454,112.9L464,114L475.5,114.8L488,115.3L500.5,115.5L513,115.3L525.5,114.8L537,114L547,112.9L555,111.6L561,110.2L566,108.3L567.5,107.2L568.5,105.8L572,105.8L572,143.1L547.5,143.1L543.2,145.5L536,147.2L524.5,148.7L510,149.5Z" fill="#6e6e6e"/><path d="M506.5,101.5L494.2,101.5L478.5,101L464,100L454.5,99L445.2,97.5L439,96L434,94L432.5,92.6L432,91.6L429,91.6L429,55.5L447,56.2L448.5,57.2L450.5,57.9L457.5,58.9L469,59L484,60.2L500.5,60.6L517,60.2L532,59L543.5,58.9L550.5,57.9L552.5,57.2L554,56.2L572,55.5L572,91.6L569,91.6L568.5,92.6L567,94L562.1,96L555.8,97.5L550,98.5L542,99.5L531,100.5L506.5,101.5ZM513,148.5L495,148.7L478,147.9L468,146.9L460.1,145.5L455.5,144L452.5,142L429,142L429,106.1L432.5,106.1L433.5,107.4L435,108.5L440.5,110.6L447.5,112.1L454,113.1L463,114.1L476,115.1L488.5,115.6L500.5,115.8L512.5,115.6L525,115.1L538,114.1L547,113.1L553.5,112.1L560.5,110.6L566,108.5L567.5,107.4L568.5,106.1L572,106.1L572,142L548.5,142L546.5,143.5L544.5,144.4L538,146.1L527,147.6L513,148.5Z" fill="#717171"/><path d="M522,100.5L506.5,101L490.5,100.9L475.5,100.3L461.5,99.3L450.5,97.9L441.5,96.2L437.5,95L434.5,93.7L433,92.7L432,91.2L429,91.2L429,56.3L446.5,57L447.7,58L449.5,58.7L456.5,59.8L467.5,60L486,61.4L500.5,61.7L515,61.4L533.5,60L544.5,59.8L551.5,58.7L553.3,58L554.5,57L572,56.3L572,91.2L569,91.2L567.5,93.1L565,94.4L560.5,95.9L554.5,97.2L540,99.2L522,100.5ZM515.5,147.5L496.5,147.8L478,147.1L467.5,146L459.5,144.6L454.5,143.1L451.5,141L429,140.9L429,106.4L432.5,106.4L433.5,107.7L435,108.8L440,110.7L446.5,112.2L453,113.3L461.5,114.3L474,115.3L486,115.8L500.5,116L515,115.8L527,115.3L539.5,114.3L548,113.3L554.5,112.2L561,110.7L566,108.8L567.5,107.7L568.5,106.4L572,106.4L572,140.9L549.5,141L547.5,142.5L546,143.3L539.5,145L529,146.5L515.5,147.5Z" fill="#747474"/><path d="M519,100L504,100.4L488.5,100.2L473.5,99.6L460,98.5L449.5,97.1L441,95.4L437,94.2L434.5,93.1L433,92L432,90.5L429,90.5L429,57.2L445.5,58L447,59L449.5,59.8L456,60.7L466.5,60.9L485,62.4L500.5,62.7L516,62.4L534.5,60.9L545,60.7L551.5,59.8L554,59L555.5,58L572,57.2L572,90.5L569,90.5L567.5,92.4L565,93.8L560.5,95.3L554,96.7L538.5,98.7L519,100ZM518,146.5L497.5,147L477.5,146.2L467,145.1L458.5,143.6L453.5,142.1L450.5,140L450,139.9L429,139.9L429,106.8L433,106.9L433.5,108L435,109.2L440.5,111.2L446.5,112.6L454,113.8L464.5,115L475.5,115.8L488,116.3L500.5,116.5L513,116.3L525.5,115.8L536.5,115L547,113.8L554.5,112.6L560.5,111.2L566,109.2L567.5,108L568,106.9L572,106.8L572,139.9L551,139.9L550.5,140L548.5,141.6L547,142.3L541,144L531,145.5L518,146.5Z" fill="#787878"/><path d="M515.5,99.5L500.5,99.8L485.5,99.5L471.5,98.8L458.5,97.7L448.5,96.3L440.5,94.6L437,93.5L434.5,92.4L433,91.3L432,89.9L429,89.9L429,58.4L444.5,59.2L446,60.1L447.5,60.7L453,61.5L465,61.8L484,63.4L500.5,63.8L517,63.4L536,61.8L548,61.5L553.5,60.7L555,60.1L556.5,59.2L572,58.4L572,89.9L569,89.9L568,91.3L567,92.1L563,93.9L558.5,95.1L552.5,96.3L536,98.3L515.5,99.5ZM507.5,146L490,145.9L473.5,145L464,143.8L456.5,142.4L452,140.9L449.5,139L449,138.8L429,138.8L429,107.3L433,107.3L433.5,108.4L435,109.6L440.5,111.7L446.5,113.1L454,114.3L464,115.4L475.5,116.3L488,116.8L500.5,116.9L513,116.8L525.5,116.3L537,115.4L547,114.3L554.5,113.1L560.5,111.7L566,109.6L567.5,108.4L568,107.3L572,107.3L572,138.8L552,138.8L551.5,139L549,140.9L547.5,141.5L543.5,142.6L538.5,143.6L524.5,145.2L507.5,146Z" fill="#7b7b7b"/><path d="M511,99L496.5,99.1L482.5,98.8L469,98L457,96.9L447.5,95.5L440.5,94L437,92.9L434.5,91.7L433,90.6L432,89.3L429,89.3L429,59.6L444,60.3L445,61.2L446.5,61.8L452.5,62.8L464,62.8L480,64.2L500.5,64.8L521,64.2L537,62.8L548.5,62.8L554.5,61.8L556,61.2L557,60.3L572,59.6L572,89.3L569,89.3L567,91.4L562.5,93.4L557.5,94.7L551,95.9L542.5,97.1L533,97.9L511,99ZM511.5,145L492,145.1L473.5,144.1L463.5,142.9L456,141.5L451,139.9L448,137.8L429,137.8L429,107.8L433,107.8L433.5,108.7L435,110L437.5,111.2L440.5,112.1L446.5,113.5L454.5,114.8L464.5,115.9L476,116.7L500.5,117.4L525,116.7L536.5,115.9L546.5,114.8L554.5,113.5L560.5,112.1L563.5,111.2L566,110L567.5,108.7L568,107.8L572,107.8L572,137.8L553,137.8L550,139.9L548.5,140.5L540.5,142.5L527.5,144.1L511.5,145Z" fill="#7e7e7e"/><path d="M522,98L509,98.4L496,98.5L483,98.2L470.5,97.5L459,96.5L449.5,95.2L442,93.7L436.5,92L433.5,90.3L432.5,88.7L429,88.6L429,60.8L443,61.5L444.3,62.5L446,63.1L452,64.1L457,64.2L463,64L480.5,65.6L500.5,66.2L520.5,65.6L538,64L544,64.2L549,64.1L555,63.1L556.7,62.5L558,61.5L572,60.8L572,88.6L568.5,88.7L567.5,90.3L565,91.8L560.5,93.3L554.5,94.7L540,96.7L522,98ZM514.5,144L493.5,144.2L473.5,143.2L463,142L455,140.5L450.5,139.1L447,136.8L429,136.8L429,108.3L433,108.3L434,109.7L435.5,110.7L441,112.7L447,114.1L454.5,115.3L464.5,116.4L476,117.2L500.5,117.9L525,117.2L536.5,116.4L546.5,115.3L554,114.1L560,112.7L565.5,110.7L567,109.7L568,108.3L572,108.3L572,136.8L554,136.8L551.5,138.5L549.5,139.5L542,141.4L529.5,143L514.5,144Z" fill="#818181"/><path d="M519,97.5L494,97.8L481.8,97.5L469.5,96.8L459,95.9L449.5,94.6L442.5,93.2L437,91.6L434,90L433,89.1L432.5,88L429,88L429,62L442,62.6L443.5,63.7L445,64.3L451.5,65.3L461.5,65.4L479.5,67L500.5,67.6L521.5,67L539.5,65.4L549.5,65.3L556,64.3L557.5,63.7L559,62.6L572,62L572,88L568.5,88L567.5,89.6L564.5,91.3L560,92.8L553.5,94.2L538,96.3L519,97.5ZM517,143L495,143.4L474,142.4L463,141.2L454.5,139.6L449.5,138L446,135.8L429,135.8L429,108.7L433,108.7L434,110.1L435.5,111.1L441,113.2L447,114.5L454.5,115.7L464.5,116.8L476,117.7L500.5,118.3L525,117.7L536.5,116.8L546.5,115.7L554,114.5L560,113.2L565.5,111.1L567,110.1L568,108.7L572,108.7L572,135.8L555,135.8L552.5,137.5L550.5,138.4L543.5,140.3L531.5,142L517,143Z" fill="#848484"/><path d="M511,97L488,97L466,95.8L456.5,94.8L448.5,93.7L442,92.3L437,90.7L434,89.1L432.5,87.1L429,87.2L429,63.3L441.5,63.9L442.5,64.8L444.5,65.6L451,66.6L460.5,66.7L470.5,67.9L482,68.6L500.5,69.1L519,68.6L530.5,67.9L540.5,66.7L550,66.6L556.5,65.6L558.5,64.8L559.5,63.9L572,63.3L572,87.2L568.5,87.1L567,89.1L564,90.7L558.5,92.4L551.5,93.8L543,95L533,95.9L511,97ZM519.5,142L508,142.4L496.5,142.5L485,142.2L474,141.5L462.5,140.3L454,138.7L448.5,137L445.5,134.7L429,134.7L429,109.2L433.5,109.4L434,110.4L435.5,111.6L441,113.7L447.5,115.1L454,116.2L463,117.2L476,118.2L488.5,118.7L500.5,118.8L512.5,118.7L525,118.2L538,117.2L547,116.2L553.5,115.1L560,113.7L565.5,111.6L567,110.4L567.5,109.4L572,109.2L572,134.7L555.5,134.7L553.5,136.4L552,137.2L545,139.2L533.5,140.9L519.5,142Z" fill="#878787"/><path d="M513.5,96L490,96.1L468,95L458,94L449.5,92.9L443,91.6L438,90.1L434.5,88.4L433.5,87.6L432.5,86.2L429,86.2L429,64.8L440.5,65.4L441.5,66.3L443,66.9L449,67.8L459.5,68.1L469.5,69.3L480.5,70L500.5,70.5L520.5,70L531.5,69.3L541.5,68.1L552,67.8L558,66.9L559.5,66.3L560.5,65.4L572,64.8L572,86.2L568.5,86.2L567,88L563.5,89.9L558.5,91.4L551.5,92.9L534.5,94.9L513.5,96ZM509.5,141.5L488.5,141.4L469.5,140.2L459.5,139L452,137.5L447.5,135.9L444.5,133.7L429,133.7L429,110.1L433.5,110.1L434,111L435,112L439.5,114L446,115.6L455,117.1L465,118.2L476,119L500.5,119.6L525,119L536,118.2L546,117.1L555,115.6L561.5,114L566,112L567,111L567.5,110.1L572,110.1L572,133.7L556.5,133.7L554,135.6L551.5,136.7L547.5,137.8L542,138.9L527.5,140.6L509.5,141.5Z" fill="#8b8b8b"/><path d="M515.5,95L492.5,95.2L470,94.2L460,93.3L451,92.2L444.5,90.9L439,89.4L434.5,87.3L433.5,86.4L433,85.2L429,85.2L429,66.4L439.5,67L440.5,67.8L442,68.5L448,69.5L453,69.7L458,69.4L465,70.3L476.5,71.3L488,71.8L500.5,72L513,71.8L524.5,71.3L536,70.3L543,69.4L548,69.7L553,69.5L559,68.5L560.5,67.8L561.5,67L572,66.4L572,85.2L568,85.2L567.5,86.4L566.9,87L563.5,88.9L558.5,90.5L551.5,91.9L535,93.9L515.5,95ZM513,140.5L490.5,140.6L470,139.4L459.5,138.2L451.5,136.6L446.5,134.8L444,132.7L429,132.7L429,111.1L433.5,111.1L435.5,113.2L439.5,115L446,116.6L455,118.1L465,119.2L476,120L500.5,120.7L525,120L536,119.2L546,118.1L555,116.6L561.5,115L565.5,113.2L567.5,111.1L572,111.1L572,132.7L557,132.7L555,134.5L553,135.5L549,136.7L544,137.7L530,139.5L513,140.5Z" fill="#8e8e8e"/><path d="M517.5,94L495,94.3L473,93.5L454,91.6L447,90.5L441,89.1L435.5,86.9L434,85.8L433,84.3L429,84.3L429,68.1L438.5,68.5L440,69.7L441.5,70.3L447.5,71.3L457,71.3L467.5,72.6L480,73.5L500.5,74L521,73.5L533.5,72.6L544,71.3L553.5,71.3L559.5,70.3L561,69.7L562.5,68.5L572,68.1L572,84.3L568,84.3L566.5,86.2L563.5,87.9L558.5,89.5L551.5,91L536,92.9L517.5,94ZM512.5,139.5L500.5,139.7L488.4,139.5L469,138.3L458.3,137L450.8,135.5L446,133.8L443,131.6L429,131.6L429,112.2L434,112.2L435,113.7L436,114.4L440,116.1L446.5,117.7L455.5,119.2L465.5,120.3L476.5,121.1L500.5,121.7L524.5,121.1L535.5,120.3L545.5,119.2L554.5,117.7L561,116.1L565,114.4L566,113.7L567,112.2L572,112.2L572,131.6L558,131.6L555.6,133.5L553.5,134.5L549,135.8L544,136.8L530.1,138.5L512.5,139.5Z" fill="#919191"/><path d="M519,93L497,93.4L475.5,92.7L456.5,91L449.5,90L443,88.6L439.2,87.5L435.8,86L434,84.5L433.5,83.3L433,83.1L429,83.2L429,69.7L437.5,70.1L438,70.2L439,71.2L441,72L447,73L455.5,73.2L466.5,74.5L478.5,75.4L500.5,76L522.5,75.4L534.5,74.5L545.5,73.2L554,73L560,72L562,71.2L563,70.2L563.5,70.1L572,69.7L572,83.2L568,83.1L567.5,83.3L567,84.5L566,85.5L563.1,87L558,88.6L551.6,90L537,91.8L519,93ZM510.5,138L488,137.9L477,137.4L467,136.6L457,135.3L449,133.6L444.5,132L442,129.8L429,129.8L429,113.3L434.5,113.4L435,114.4L436,115.3L440.5,117.2L447,118.8L456,120.3L465.5,121.3L476.5,122.1L500.5,122.8L524.5,122.1L535.5,121.3L545,120.3L554,118.8L560.5,117.2L565,115.3L566,114.4L566.5,113.4L572,113.3L572,129.8L559,129.8L557,131.7L553.5,133.2L547.5,134.7L540,135.9L526.5,137.2L510.5,138Z" fill="#949494"/><path d="M515.5,91.5L497,91.7L479,91.2L462,90L449,88.2L442.5,86.5L438,84.8L435,82.8L434,80.8L429,81L429,72.4L436.5,73.4L438,73.9L441,74L448,74.9L454.5,75.1L470.5,76.9L485,77.7L500.5,78L516,77.7L530.5,76.9L546.5,75.1L553,74.9L560,74L563,73.9L564.5,73.4L572,72.4L572,81L567,80.8L566.5,82.2L565,83.6L562.5,85L559.5,86.2L551.5,88.3L543.5,89.5L530.5,90.7L515.5,91.5ZM507.5,136.5L485,136.3L465,134.9L455.5,133.6L448,132L443,130.1L441,128.1L429,128.1L429,114.4L434.5,114.4L436,116.2L440.5,118.3L446,119.7L454.5,121.2L463,122.2L476,123.2L488.5,123.7L500.5,123.8L512.5,123.7L525,123.2L538,122.2L546.5,121.2L555,119.7L560.5,118.3L565,116.2L566.5,114.4L572,114.4L572,128.1L560,128.1L558,130.1L554.5,131.6L548.5,133L540.5,134.3L525,135.8L507.5,136.5Z" fill="#979797"/><path d="M512.5,89.5L497.5,89.7L482.5,89.3L468.5,88.5L456,87.2L450,86.3L442,84L437.5,81.9L436,80.8L435,79.5L439.5,79.9L444.5,79.6L449,78.7L453.5,77L458,77.8L467.5,78.9L485.5,79.9L518,79.8L533.5,78.9L543,77.8L547.5,77L552,78.7L557,79.7L562,79.9L566,79.4L565.5,80.3L564.5,81.2L561.5,83L556.5,84.8L550.5,86.4L533.5,88.4L512.5,89.5ZM431,78.5L429,78.6L429,78.3L431,78.5ZM572,78.6L569.9,78.5L572,78.3L572,78.6Z" fill="#9b9b9b"/></g></g>
<g mask="url(#cpc)"><path d="M77.5,318.6C77.7,316 78.4,312.4 79.1,309.5C79.8,306.6 80.6,303.7 81.6,301.2C82.6,298.7 83.5,296.9 84.9,294.6C86.3,292.3 88,289.7 89.9,287.2C91.8,284.7 94,282.1 96.5,279.8C99,277.5 101.7,275.3 104.7,273.2C107.7,271.1 111.3,269 114.6,267.4C117.9,265.8 121.2,264.5 124.5,263.3C127.8,262.1 131.5,261 134.4,260.4C137.3,259.8 139.6,259.5 142,259.5C144.4,259.5 146.8,259.9 149,260.3C151.2,260.7 152.3,261 154.9,261.9C157.5,262.8 161.5,264.1 164.8,265.7C168.1,267.3 171.7,269.4 174.7,271.5C177.7,273.6 180.4,275.9 182.9,278.1C185.4,280.3 187.3,282.2 189.5,284.7C191.7,287.2 194.2,290.2 196.1,293C198,295.8 199.7,298.4 201.1,301.2C202.5,303.9 203.5,306.9 204.4,309.5C205.3,312.1 205.9,314.7 206.3,316.5C206.7,318.3 206.8,319.1 206.8,320.5C206.8,321.9 206.8,323.1 206.5,324.9C206.2,326.7 206.1,329 205.2,331.5C204.3,334 202.7,337.1 201.2,339.8C199.7,342.6 198.2,345.2 196.3,348C194.4,350.8 192.2,353.7 189.8,356.3C187.4,358.9 185,361.4 182.1,363.7C179.2,366 175.6,368.4 172.2,370.3C168.8,372.2 165.2,373.7 161.5,374.8C157.8,375.9 153.2,376.7 149.9,377.2C146.7,377.7 144.3,377.9 142,377.9C139.7,377.9 138.7,377.8 136.1,377.4C133.5,377 129.5,376.4 126.2,375.3C122.9,374.2 119.6,372.8 116.3,371.1C113,369.5 109.4,367.6 106.4,365.4C103.4,363.2 100.8,360.5 98.2,357.9C95.6,355.3 93,352.4 90.8,349.7C88.6,346.9 86.5,344.1 84.8,341.4C83.1,338.6 81.5,335.9 80.4,333.2C79.3,330.4 78.6,327.3 78.1,324.9C77.6,322.5 77.3,321.2 77.5,318.6Z" fill="#000086"/><path d="M210,381L74,381L74,320.8L77,320.4L78,322.7L79,323.7L81,324.5L82.7,324.5L80.5,322.8L78.8,321L78,319.6L77.5,317.3L76,316.8L74,316.7L74,256L210,256L210,316.6L208,316.7L206.5,317.3L206,319.7L205.2,321L203.5,322.8L201.2,324.5L201.5,324.8L203,324.7L205.5,323.7L206.5,322.4L207,320.4L208.5,320.9L210,320.9L210,381ZM162.2,330L166.8,329.5L164,329.1L159,328.9L148,329.5L150,330L153.5,330.2L162.2,330Z" fill="#000093"/><path d="M210,381L74,381L74,321.2L77,320.8L77.8,322L78,323.1L79,324.1L81.5,325L83.9,325L81,322.9L79,320.9L78,319.2L77.5,316.9L76,316.4L74,316.3L74,256L210,256L210,316.3L208,316.4L206.5,316.8L206,319.2L205,320.8L203,322.8L199.9,325L200.5,325.4L202,325.2L205,324.4L206,323.6L206.5,322.8L207,320.8L210,321.2L210,381ZM159.6,330.5L167.5,329.8L171.2,329L157.5,328.6L138.8,329.5L142.7,330L151.5,330.4L159.6,330.5Z" fill="#00009f"/><path d="M210,381L74,381L74,321.5L77,321.1L77.7,322L78,323.5L79.5,324.9L82,325.5L85,325.5L81.5,322.9L79.4,321L78.1,319L77.5,316.5L74,316L74,256L210,256L210,316L206.5,316.4L205.8,319L204.5,321L202,323.2L198.4,325.5L199,325.8L201,325.7L204,325.3L206,324L206.5,323.1L207,321.2L210,321.5L210,381ZM164.4,330.5L176.1,329L174,328.7L158.5,328.3L142,329L120.7,329.5L128.5,330L154,330.9L164.4,330.5Z" fill="#0000ac"/><path d="M210,381L74,381L74,321.8L77,321.4L77.7,322L78,323.7L78.5,324.4L80.5,325.6L84,326L85.5,325.9L85.9,325.5L82,322.9L79.5,320.7L78.3,319L77.5,316.2L74,315.7L74,256L129.6,256L131,256.3L142,256L154.5,256.5L155,256L210,256L210,315.7L206.5,316.1L205.5,319.2L203,322L198,325.3L193.8,326.5L195,326.7L198,326.1L201,326.2L203.5,325.8L205,325.1L206,324.3L206.5,323.5L207,321.5L210,321.8L210,381ZM162.2,331L182.5,328.5L180.5,328.2L157.5,328L141.5,328.7L121.5,329L117.4,329.5L130,330.5L154.5,331.2L162.2,331Z" fill="#0000b9"/><path d="M210,381L74,381L74,322.1L77.5,321.8L78,324L78.5,324.7L79.5,325.5L81,326.1L84,326.4L87.5,326.2L87.9,326L87,325.7L84,323.9L80,320.9L78.5,319L77.5,315.9L74,315.5L74,256L126.1,256L126.4,257L127.5,257.4L142.5,257.1L157.5,257.7L158.1,257.5L158.5,256L210,256L210,315.4L206.5,315.8L205.9,318L205.1,319.5L202,322.4L198,324.9L196.5,325.4L190.5,326.8L184,327.6L175.5,327.9L156.5,327.7L113.2,329L114.6,329.5L118.5,330L128,330.8L154,331.5L163,331.3L174.3,330L197.5,326.6L202.5,326.4L204.5,325.7L206,324.6L206.5,323.7L207,321.8L210,322.1L210,381ZM99.9,328L98,327.8L96.8,328L99,328.2L99.9,328Z" fill="#0000c6"/><path d="M210,381L74,381L74,322.4L77.5,322L78,324.2L78.5,325L80,326.1L82,326.7L84,326.9L87,326.6L98,328.5L103.5,328.7L105.3,328.5L91.5,326.5L86.5,325.1L82.5,322.5L79.5,320L78.4,318.5L77.5,315.6L74,315.2L74,256L123.1,256L123.7,258L124.5,258.3L142.5,258.2L158,258.8L160.8,258.5L161.5,256L210,256L210,315.1L206.5,315.5L205.2,319L202.5,321.6L198.5,324.3L197,324.8L190.5,326.4L184,327.2L175.5,327.5L157,327.4L124.5,328.1L108.2,329L120,330.6L128.5,331.2L154,331.8L164.2,331.5L174.5,330.3L197.5,327L201,327L202.5,326.7L204.5,326L206,324.9L206.5,324L207,322.1L210,322.4L210,381Z" fill="#0000d2"/><path d="M116.5,328L110,328.3L106,328.2L93,326.4L88,325.3L86.5,324.8L84.5,323.5L80,320.2L78.5,318.3L77.5,315.3L74,314.9L74,256L120.2,256L121.3,259L122,259.3L129.5,259.6L142.5,259.3L157.5,259.9L163,259.6L164.4,256L210,256L210,314.9L206.5,315.2L205.2,318.5L202.9,321L199,323.6L197.5,324.3L191,325.8L184,326.7L176.5,327.1L157,327.1L116.5,328ZM210,381L74,381L74,322.7L76,322.6L77.5,322.2L78,324.5L79,325.7L80.5,326.6L83,327.2L87,327.1L96.5,328.7L107.5,329.3L125,331.4L154.5,332.1L168,331.5L197.5,327.4L201.5,327.2L204,326.6L205.5,325.7L206.5,324.3L207,322.4L210,322.8L210,381Z" fill="#0000df"/><path d="M118.5,327.5L110.5,327.9L106,327.8L93.5,326.2L89,325.2L86.5,324.4L80.5,320.4L78.5,317.9L77.5,315L74,314.6L74,256L117.5,256L118.9,260L119.5,260.3L129,260.7L143,260.4L157.5,261L165,260.8L165.5,260.5L167.1,256L210,256L210,314.6L206.3,315L206,315.2L205.3,318L203,320.6L200,322.6L197.5,323.9L191,325.4L184,326.3L174.5,326.7L118.5,327.5ZM210,381L74,381L74,323L76,322.9L77.5,322.6L77.9,324.5L78.5,325.5L79.5,326.4L81.5,327.2L84.5,327.6L87.5,327.5L96,329L107,329.6L119.5,331.3L126,331.8L154,332.3L162.5,332.1L170.8,331.5L197.5,327.7L201.5,327.5L204,326.8L205.5,326L206.5,324.5L207,322.7L210,323.1L210,381Z" fill="#0000ec"/><path d="M110,327.5L105,327.3L94.5,326L90.5,325.2L86.5,324L82.5,321.6L80,319.6L78.5,317.5L78,315.5L77.5,314.7L74,314.3L74,256L114.9,256L116.8,261L117.5,261.3L128,261.8L143,261.5L157,262.2L167.5,261.8L169.7,256L210,256L210,314.3L207.5,314.4L206,314.8L205.6,317L205,318.1L203.9,319.5L202,321L198.5,323.2L195,324.2L189,325.4L181.5,326.1L171,326.5L123,327L110,327.5ZM210,381L74,381L74,323.3L76,323.3L77.5,322.9L77.9,324.5L78.5,325.7L79.5,326.6L81.5,327.5L84.5,327.9L87.5,327.9L96,329.3L107,329.9L118.3,331.5L125.5,332.1L153.5,332.6L162.5,332.4L171,331.8L197.5,328.1L201.5,327.8L204,327.1L205.5,326.3L206.5,324.8L207,323L210,323.4L210,381Z" fill="#0000f9"/><path d="M113,327L106,327L97,326L92,325.2L87,323.8L83,321.6L80,319.2L78.5,317.1L77.8,314.5L74,314L74,256L112.2,256L113.7,259L114.7,262L115.5,262.3L126.5,262.9L142.5,262.6L158.5,263.3L169.5,263L170.9,259L172.4,256L210,256L210,314L207.5,314.1L206,314.5L205.5,316.8L205,317.8L204,319L202,320.7L198.5,322.8L195.5,323.7L188.5,325.1L182,325.8L171,326.2L113,327ZM210,381L74,381L74,323.7L76,323.6L77.5,323.2L78.5,326L79.5,326.9L81.5,327.8L84,328.2L87.5,328.3L94.8,329.5L106.5,330.2L116.5,331.6L125.5,332.4L153,332.8L162.5,332.6L171,332L187.3,330L197.5,328.4L201.5,328.1L204,327.4L205.5,326.5L206.5,325L207,323.3L210,323.7L210,381Z" fill="#0006ff"/><path d="M119.5,326.5L110,326.8L105,326.6L94.5,325.4L89.5,324.3L86,323.1L81,319.9L79.5,318.4L78.6,317L78,314.3L76.5,313.9L74,313.7L74,256L109.6,256L111.1,259L112.7,263L113.5,263.3L125.5,264L142.5,263.8L158,264.4L171,264.2L171.5,264L173.5,259L175,256L210,256L210,313.7L206,314.2L205,317.4L202.5,320L198.5,322.5L196.5,323.2L190,324.6L183,325.4L169.5,325.9L119.5,326.5ZM210,381L160.5,381L159.5,377.5L159,377.3L157,377.4L146.5,378.8L140.5,379L132.5,378.1L126.5,376.9L125.3,377L124.1,381L74,381L74,324L76,323.9L77.5,323.6L77.9,325L79,326.8L81.5,328L84,328.5L87.5,328.6L96.5,330L106.5,330.6L117.5,332L125.5,332.7L152,333.1L162,332.9L171,332.3L189,330L197.5,328.7L201.5,328.4L204,327.7L205.5,326.8L206,326.3L207,323.7L210,324L210,381Z" fill="#0013ff"/><path d="M144,326L108.5,326.4L103,326.1L94.5,325.1L88.5,323.7L85,322.3L81.6,320L79.5,318L78.5,316.3L78,314L76.5,313.6L74,313.4L74,256L106.8,256L108.5,259L110.7,264L111.5,264.4L126.5,265.1L142.5,264.9L157,265.5L173,265.4L173.4,265L176,259.2L177.8,256L210,256L210,313.5L206,313.9L205.4,316L204.5,317.7L202.5,319.7L199.8,321.5L197.5,322.6L192,323.9L185.5,324.8L177.5,325.4L144,326ZM210,381L169.7,381L167,374.8L165.5,374.9L159.4,376.5L153.4,377.5L146.5,378.4L140.5,378.6L137,378.3L128,376.8L118.5,374L118,374L114.9,381L74,381L74,324.3L76,324.3L77.5,323.9L78.5,326.5L79.5,327.5L81,328.2L83.5,328.7L87.5,328.9L95.5,330.1L105.5,330.8L124,332.9L133.5,333.2L151,333.3L161.5,333.2L170.5,332.6L187.6,330.5L197.5,329L201.5,328.7L204,328L205.5,327.1L206,326.6L207,324L210,324.4L210,381Z" fill="#0020ff"/><path d="M116,326L108,326.1L102,325.8L94.5,324.8L88.5,323.4L85,322L80.5,318.8L78.8,316.5L78,313.7L76.5,313.3L74,313.2L74,256L104,256L106,259.3L109,265.5L109.5,265.6L128,266.3L142.5,266L155.5,266.6L174.5,266.7L175.1,266.5L178.5,259.5L180.6,256L210,256L210,313.2L206,313.6L204.8,317L203.5,318.5L202,319.8L198.5,321.9L195.5,322.8L189.5,324L182.5,324.8L166.5,325.4L116,326ZM210,381L177.8,381L172.5,372L165,374.6L159,376.1L148,377.8L141,378.2L136.5,377.8L127,376.1L122.5,374.8L114,371.5L113,371.3L112.5,371.4L106.8,381L74,381L74,324.7L77.5,324.2L77.7,325L78.2,325.5L78.5,326.7L79.5,327.8L81,328.5L83.5,329L87.5,329.2L95,330.3L106,331.1L124,333.2L133.5,333.5L150,333.6L161.5,333.5L170.5,332.9L187.5,330.8L197,329.3L201.5,329L204,328.3L205.5,327.4L206,326.8L207,324.4L210,324.7L210,381Z" fill="#002dff"/><path d="M124,325.5L105.5,325.8L97.5,325L91,323.8L86,322.3L81.5,319.3L79,316.6L78,313.4L76.5,313L74,312.9L74,256L101,256L103,259L107,266.5L107.5,266.8L129,267.4L142.5,267.1L155,267.7L165,267.6L176.5,268L177,267.5L181.5,259.2L183.6,256L210,256L210,312.9L206,313.3L204.8,316.5L202.5,319.1L198.5,321.6L196.5,322.3L190.5,323.6L183.5,324.4L163.5,325.2L124,325.5ZM210,381L185.6,381L177.4,369.5L177,369.4L168,373.1L160.5,375.3L148.5,377.3L141,377.7L133,376.8L126,375.4L120.3,373.5L108.5,368.8L108,368.8L106.3,371L99,381L74,381L74,325L77.5,324.6L78.2,325.5L78.5,326.9L79.5,328L81,328.8L83.5,329.3L88,329.5L95,330.5L106,331.4L124,333.4L133,333.8L148.5,333.9L160.5,333.8L170,333.2L180.5,332L197,329.6L201.5,329.3L204,328.7L205.5,327.7L207,324.7L210,325L210,381Z" fill="#0039ff"/><path d="M112.5,325.5L105.5,325.5L98.5,324.9L92.5,323.9L87,322.3L83.5,320.5L80.4,318L79,316.2L78,313.1L74,312.6L74,256L97.9,256L100,259L105,267.6L105.5,268L116,268L129.5,268.5L142.5,268.2L154.5,268.8L166,268.8L178,269.4L178.7,269L184.5,259.2L186.7,256L210,256L210,312.6L206,313.1L205.5,313.5L205.1,315.5L204.5,316.7L203.4,318L201.5,319.5L198.5,321.3L194.5,322.5L188.5,323.6L181.5,324.2L162,324.9L112.5,325.5ZM210,381L193.7,381L181.1,366.5L171,371.4L162,374.5L157,375.6L149,376.8L141,377.3L132,376.2L125,374.6L117.5,371.9L110.5,368.9L105.5,366.5L104.5,366.2L99.1,371.5L90.9,381L74,381L74,325.3L77.5,324.9L78.1,325.5L78.5,327L79.5,328.3L81,329.1L83.5,329.6L88,329.8L94,330.6L105.5,331.6L124,333.7L133,334.1L147.5,334.2L159.5,334.1L169,333.6L179,332.5L197,329.9L201.5,329.6L203.5,329.1L205,328.4L206,327.3L206.3,326L207,325L210,325.4L210,381Z" fill="#0046ff"/><path d="M119,325L109,325.3L103,325.1L95.5,324.2L89.5,322.8L86,321.7L81.2,318.5L79,315.9L78,312.8L74,312.3L74,256L94.5,256L96.8,259L100.8,265.5L103.5,269.4L115,269.2L130.5,269.6L142.5,269.3L154.5,269.9L168.5,270L180,270.8L180.5,270.5L187.8,259L190.1,256L210,256L210,312.4L207,312.5L205.5,312.9L205.1,315L204.7,316L203.5,317.5L202,318.8L198.5,321L196,321.8L189.5,323.1L182.5,323.9L160.5,324.6L119,325ZM210,381L202.4,381L192,370.5L184.5,364L173,370L168.2,372L163.5,373.6L159,374.7L153,375.8L146.5,376.6L141,376.9L138,376.7L131,375.6L124,373.8L110.8,368.5L102,363.9L98.4,366L93.9,369.5L82.2,381L74,381L74,325.6L78,325.4L78.4,327L79.5,328.6L81,329.4L83.5,329.9L88,330L124,334L132.5,334.4L146,334.5L159.5,334.4L169,333.9L179,332.7L197,330.2L201.5,329.9L203.5,329.5L205,328.7L206,327.6L206.4,326L207,325.4L210,325.7L210,381Z" fill="#0053ff"/><path d="M150.5,324.5L125.5,324.6L108,325L102,324.7L96,324L91,322.9L86,321.4L82.5,319.2L80,317L79,315.5L78,312.5L74,312L74,256L90.8,256L93.3,259L97.5,265.5L101.5,270.9L113,270.3L130,270.8L143,270.5L154,271L170,271.3L182,272.5L187.4,265L191.3,259L193.8,256L210,256L210,312.1L207,312.2L205.5,312.6L205,314.9L204.5,315.9L202,318.5L198.5,320.7L193,322.2L187,323.1L179.5,323.8L150.5,324.5ZM74,379.7L74,326L76.5,325.9L78,325.5L78.3,327L79.5,328.9L81,329.7L83.5,330.2L88,330.3L94.5,331.1L104.5,332L124,334.3L132.5,334.7L145.5,334.8L159,334.7L168.5,334.2L177,333.3L196.5,330.5L201,330.3L203.5,329.8L205,329L206,327.8L206.5,325.9L207,325.7L210,326L210,379.1L197,368L192.8,365L187,361.5L181,365.2L175,368.5L170,370.8L165,372.6L160,374L155,375L147,376.1L141.5,376.4L138,376.2L131,375.1L123.5,373.2L109.8,367.5L99.5,361.8L93.5,364.5L88.5,367.5L83.3,371.5L74,379.7Z" fill="#0060ff"/><path d="M116.5,324.5L107.5,324.7L101.5,324.4L95,323.5L89,322.1L85.5,320.8L81,317.7L79,315.1L78.5,313L78,312.2L74,311.7L74,256L86.7,256L89.3,259L94.3,266L99.5,272.6L105,271.9L112,271.5L130.5,271.9L142.5,271.6L154,272.1L170.5,272.5L176,273L183.5,274.2L184.1,274L186.1,271.5L195.3,259L197.9,256L210,256L210,311.7L205.5,312.3L204.5,315.5L203.4,317L201.5,318.6L198.5,320.4L195,321.5L189,322.6L182,323.3L160,324.1L116.5,324.5ZM148.5,375.5L143.5,375.9L139,375.9L130.5,374.6L125.5,373.4L119.1,371L109.5,366.8L105.3,364.5L98,359.9L90.3,362L85.1,364L80.5,366.6L74,371.2L74,326.5L76.5,326.4L78,325.8L78.2,327L79.5,329.1L81,330L83.5,330.5L88,330.6L104,332.2L124,334.6L132,335L144.5,335.1L158.5,335L168.5,334.5L177,333.6L196.5,330.8L201,330.6L203.5,330.1L205,329.3L206,328.1L206.5,326L208,326.5L210,326.6L210,370.8L204,366.5L199.8,364L194.5,361.5L189.5,359.4L189,359.4L178,366.3L173,368.9L168.5,370.8L160,373.6L148.5,375.5Z" fill="#006cff"/><path d="M127,324L105,324.4L98,323.8L92,322.6L86,320.8L84,319.6L81.5,317.8L79.8,316L79,314.7L78.3,312L76.5,311.4L74,311L74,256L82,256L84.9,259L91.4,267.5L97,274.2L97.5,274.4L104.5,273.3L111.5,272.7L130.5,273L142.5,272.7L171.5,273.7L178,274.6L185.5,276.2L186,276L190.3,271L195.6,264.5L199.5,259.3L202.6,256L210,256L210,311.2L207,311.6L205.5,312L204.5,315.2L203.5,316.5L202,317.9L198.5,320.1L196,320.9L190,322.2L183.5,322.9L160.5,323.8L127,324ZM143.5,375.5L139,375.5L132.5,374.5L127.5,373.5L123,372L115,368.7L108.5,365.7L96,358.1L82.1,360.5L78,361.9L74,363.9L74,327.2L76.5,327.1L78,326.3L78.2,327.5L79.5,329.4L81,330.3L83.5,330.9L88.5,330.9L103.5,332.3L124.5,335L132.5,335.3L144.5,335.4L158.5,335.3L168.5,334.8L176.5,333.9L196.5,331.1L201,330.9L203.5,330.4L205,329.6L206,328.4L206.5,326.4L208,327.2L210,327.3L210,363.5L206.5,361.8L203,360.5L191,357.4L183.3,362.5L177.5,365.9L172,368.8L167,370.9L162,372.6L157.5,373.7L148.5,375.1L143.5,375.5Z" fill="#0079ff"/><path d="M114.5,324L106.5,324.1L100,323.7L93.5,322.7L87.5,321.1L86,320.5L84,319.4L80.5,316.5L79,314.3L78.5,311.7L77,310.7L74,310.3L74,256L76.6,256L79.7,259L86.1,267L95,276.6L103,274.8L110.5,274L118,273.8L131,274.1L142.5,273.8L172,275L179,276.1L187.5,278.3L188.2,278L195.4,270.5L201,264L204.9,259L208,256L210,256L210,310.4L207,310.9L205.5,311.6L204.6,314.5L204,315.5L201,318.3L198.5,319.8L194,321.1L188,322.2L181.5,322.8L159.5,323.5L114.5,324ZM144.5,375L139.5,375.1L133.5,374.2L128,373.1L123,371.5L114.5,368L108.5,365.1L94.5,356.5L80,356.8L74,357.8L74,327.9L77,327.7L78,327.1L79.5,329.9L81,330.6L83.5,331.2L88.5,331.2L102.6,332.5L124.5,335.3L132.5,335.7L144.5,335.7L162,335.5L174,334.6L196.5,331.4L202,331.1L204.5,330.4L205.5,329.7L206.5,327.1L208,327.9L210,328L210,357.6L205,356.6L192.5,355.5L179.5,364.1L173.4,367.5L168,370L163,371.8L158.4,373L150,374.4L144.5,375Z" fill="#0086ff"/><path d="M122,323.5L109.5,323.9L103,323.7L96,322.9L89.5,321.4L85.5,320L81,316.7L79.9,315.5L79.1,314L78.5,311L77.5,310.2L74,309.5L74,259.8L77.4,264L83,270L90.5,277.5L92.5,279.1L102,276.4L109.5,275.3L116.5,275L131,275.2L142.5,274.9L153,275.5L164.5,275.7L172.5,276.3L179.5,277.5L189.5,280.3L192.8,278.5L196.1,275.5L204,267.5L210,260.6L210,309.7L206.5,310.3L205.5,311L204.1,315L203,316.4L201,318L198.5,319.5L194.5,320.7L188.5,321.8L182,322.5L158.5,323.3L122,323.5ZM145.5,374.5L138.5,374.5L131,373.3L126.5,372.3L119.5,369.6L109.5,365.1L93.5,355.1L86.5,354.4L77.5,352.9L74,352.6L74,328.6L77,328.4L78,327.8L78.5,327.9L78.9,329.5L80,330.8L83.5,331.5L88.5,331.5L102.5,332.7L124.5,335.6L132.5,336L144.5,336.1L161.5,335.8L173,335L196,331.7L200,331.7L203.5,331.2L204.5,331L205.5,330.2L206.5,327.8L208,328.5L210,328.6L210,352.6L199.5,353.4L194.5,353.5L180.3,363L174.2,366.5L169,369L164,370.9L159,372.4L152.5,373.6L145.5,374.5Z" fill="#0093ff"/><path d="M113,323.5L105,323.5L98.5,323L92,321.8L86,320L82.5,317.7L80.2,315.5L79.3,313.5L78.5,310.1L77,309.1L74,308.7L74,268.8L84.4,278.5L90.5,281.7L95.5,279.8L100.5,278.2L104.5,277.3L109,276.7L117,276.2L131.5,276.4L142.5,276L153,276.6L164,276.8L172.5,277.6L178,278.6L185.5,280.5L191.5,282.6L200,278.5L210,269.4L210,308.9L206.5,309.5L205,310.5L204.5,313.2L203.4,315.5L201.5,317.3L198.5,319.3L194.5,320.4L190,321.3L179,322.3L158.5,323L126.5,323.1L113,323.5ZM146,374L141,374.3L137.8,374L129.5,372.6L124,370.9L115,367.1L108.6,364L92,353.4L84.5,351.7L74,347.8L74,329.3L77,329.1L78.5,328.3L78.8,329.5L79.3,330L79.5,330.9L80.5,331.6L81.5,331.8L88.5,331.8L101.5,332.9L118.5,335.3L125,335.9L144.5,336.4L161,336.2L172,335.4L196,332L203.5,331.9L205,331.3L205.5,330.7L205.8,329.5L206.5,328.6L207.5,329.2L210,329.3L210,348L201.9,350.5L196,351.4L179.5,362.8L173,366.5L167,369.3L158.5,372L146,374Z" fill="#009fff"/><path d="M119.5,323L105.5,323.3L96,322.4L91,321.3L86,319.7L81.4,316.5L80.5,315.2L79.5,313L78.9,309.5L77.5,308.4L74,307.9L74,279L88,284.8L94,281.9L100.5,279.8L105.5,278.5L111,277.8L118.5,277.4L131.5,277.5L142,277.1L162.5,277.9L171,278.6L177.5,279.8L187.5,282.6L193.5,285.1L210,279.1L210,308.2L206,308.9L205,309.7L204,313.4L202.5,316L200.8,317.5L198.5,319L194.5,320.1L190,321L179,322.1L157.5,322.7L119.5,323ZM147,373.5L141.5,373.8L137.5,373.5L129,372L123,370.1L109.7,364L90.5,351.7L86,350.2L82.6,348.5L79.4,346.5L74,342.3L74,331.5L77.5,329.9L78.5,329.1L79.2,330L79.3,331L80,331.9L81.5,332.4L89,332.1L100,333L119,335.6L125.5,336.3L144.5,336.7L157,336.6L166.5,336.2L175,335.3L196,332.3L203.5,332.6L205,331.9L205.7,331L205.9,329.5L206.5,329.3L207.3,330L207.5,330.6L210,331.5L210,342.7L206.8,345L202.4,347.5L197.5,349.2L191.5,354L182.1,360.5L175.6,364.5L170,367.5L165,369.6L159.5,371.3L154.5,372.4L147,373.5Z" fill="#00acff"/><path d="M111.5,323L102.5,322.9L94.5,321.8L90,320.7L86,319.4L82.4,317L81.2,315.5L80,313.1L79,308.6L78,307.8L74,305.8L74,285.7L85.5,288.8L90.4,285.5L94.4,283.5L102,280.9L107,279.7L112,279L117.5,278.6L132,278.6L142,278.3L163.5,279.2L173,280.3L178.5,281.5L187,283.9L190.5,285.3L195.5,287.8L210,285.5L210,307.3L206,308.1L204.5,309.2L204,312.2L202.5,315.2L201.1,317L198,318.9L194,320L189.5,320.8L178.5,321.8L111.5,323ZM147.5,373L139.5,373.3L132.5,372.3L128,371.3L124,370L118.5,367.6L111.8,364.5L107,361.8L94,353.5L88.5,349.4L84.5,347.2L80.9,344L78.7,341L76,336L75.9,335.5L78.5,333.6L78.7,330L79,330L79.3,331.5L80,332.4L81.5,333.1L83,333L85,332.5L89,332.3L103.5,333.6L118,335.8L125,336.6L132.5,336.9L145,337L160,336.9L168.5,336.3L196,332.6L203,333.3L204,333.1L205,332.4L206,331L206,330L206,334L208.4,335.5L208.4,336L206.5,339.5L203.3,343.5L199.5,346.1L196,349.6L191.5,353.2L178.7,362L173,365.4L168.5,367.6L163.8,369.5L159,371L147.5,373Z" fill="#00b9ff"/><path d="M117.5,322.5L106.5,322.8L98.5,322.2L90,320.5L86,319.1L84.5,318.2L82.9,317L80.4,313L79.7,311L79.2,308L78.8,307.5L78.5,304.3L77.7,303.5L77.2,301.5L76.5,300L75.5,298.9L74,298.1L74,294.2L83,293.5L88,289L92.5,286.2L98.5,283.5L106.5,281.2L111.5,280.3L117.5,279.8L132.5,279.7L141,279.4L162,280.3L172,281.4L181,283.5L186.5,285.2L192,287.5L197.5,290.7L203,291.1L210,292.2L210,303.9L204.5,308.3L203.6,312L202.3,314.5L199.9,317.5L197.5,318.8L193.5,319.8L189,320.6L178.5,321.5L134.5,321.8L117.5,322.5ZM148,372.5L143.5,372.9L139.5,372.9L129,371.1L121,368.2L109.1,362.5L93.5,352.5L90.1,350L87.4,347.5L84.1,344L82.7,342L80,335.5L79.8,333.5L80.3,333.5L80.5,334.5L81,333.7L83,333.7L86,332.9L89,332.6L103.5,333.9L123.5,336.8L131,337.4L138,337.6L154.5,337.5L164.5,337.1L173.5,336.1L195.5,333L198,333L201.5,333.9L203.5,333.9L203.9,335.5L204.5,334.7L204.8,335L204.1,337L202.1,341L199.8,344.5L197.3,347.5L191.5,352.4L180.5,360.2L171.6,365.5L164.5,368.7L157.5,370.9L148,372.5Z" fill="#00c6ff"/><path d="M109.5,322.5L103,322.4L97,321.8L91.5,320.6L86,318.8L84,317.5L82.1,315L80.5,312.1L79.8,309.5L79.9,304L80.2,302.5L82.2,297L82.7,296L84,294.6L88.5,290.6L93.5,287.5L99,284.9L105.5,282.9L111,281.7L117,281.1L141,280.5L159.5,281.3L167.5,282L179,284.4L186.5,286.7L193.5,289.7L199,293.5L203,294.8L205.5,296L206.1,299.5L205.9,303L204.8,305L204.6,307L203.9,308L203.7,310.5L203.1,312L201.5,314.8L199.1,317.5L198.5,318L195.7,319L190.5,320.1L182.5,321L166,320.7L133.5,321L109.5,322.5ZM142,372.5L138.5,372.3L131,371.1L127,370L123,368.6L110.5,362.7L96.6,354L90.4,349.5L87.8,347L85.6,344.5L83.7,341.5L81.9,338L82.1,334.5L87,333.2L89.5,333L104,334.2L127,337.7L141.5,338.2L156.5,338.1L165.5,337.6L195.5,333.2L197.5,333.5L202.4,335L202.3,338.5L202,339.5L199.7,343.5L196.8,347L194,349.7L190.4,352.5L176.5,362L168.5,366.5L160.5,369.6L156.5,370.6L151,371.6L146,372.3L142,372.5Z" fill="#00d2ff"/><path d="M115,322L105.5,322.2L98.5,321.7L91,320.2L86.5,318.8L85.1,318L81.8,313.5L80.5,310.8L80.2,309.5L81,303.7L82.4,300L84.2,296.5L89.5,291.8L95.8,288L102.5,285.2L110.5,283.2L120,282.1L141,281.6L158.5,282.4L167.5,283.3L176.5,285.1L184,287.2L191,289.9L196,292.7L200,296L202.1,299.5L203.5,303.5L203.5,309.5L202.9,311.5L201.5,313.9L198,317.7L192.5,319.3L188,320L183,320.3L165.5,319.9L131.5,320.3L123.5,320.8L115,322ZM144,372L138,371.8L131.5,370.7L127.5,369.7L119,366.3L108.7,361L94.5,352L89,347.5L86.1,344L83.7,340L83.3,337.5L83.3,335L87.5,333.5L89.5,333.2L105,334.6L126.5,338.2L133,338.7L141.5,338.9L156.5,338.8L166,338.2L171.5,337.5L181.8,335.5L195.5,333.6L201.2,335.5L200.9,339L200.6,340.5L198.4,344L196,346.9L190.1,352L177,361.1L169,365.7L161.5,368.8L154,370.7L144,372Z" fill="#00dfff"/><path d="M114,321.6L107,322L99,321.5L91.5,320.1L87.9,319L85.8,318L82.7,314L81.3,311.5L81,310.5L81.5,305.3L82.8,301.5L84.6,298L89,294L94,290.6L100,287.7L106.5,285.5L113.5,284.1L119.5,283.4L143.5,282.8L158.5,283.6L166.5,284.4L177,286.5L185.5,289L192.5,292L198,295.6L200.5,299L202.4,303.5L202.9,307.5L202.9,310L201.5,313L198,317L192.5,318.7L188,319.3L183.5,319.6L165,319.2L131.5,319.5L123,320.1L114,321.6ZM145,371.5L138.5,371.5L132,370.4L128,369.4L120.5,366.5L109.7,361L95.4,352L89.8,347.5L86.8,344L84.8,340.5L84.3,338L84.3,335.5L89.5,333.5L105.6,335L114.8,336.5L121,338L126.5,338.9L133,339.3L141.5,339.5L156.5,339.4L166,338.8L172.5,337.9L183.8,335.5L195,334L199.5,335.6L200,336L199.9,339L199.4,341L197.5,344L195.5,346.5L189.7,351.5L176.1,361L168.5,365.4L161.5,368.3L154.5,370.1L145,371.5Z" fill="#00ecff"/><path d="M110.5,321.5L105.5,321.7L99.5,321.3L93.5,320.3L88.9,319L86,317.5L83.3,314L81.9,311.5L81.9,308.5L82,307L82.8,304.5L85,299.5L86.9,297.5L90,294.9L95,291.7L100.5,289L106.2,287L112.5,285.6L122.5,284.4L142.5,283.8L161.5,285.1L167.5,285.8L173.5,287L180,288.6L186.5,290.7L191,292.6L195,294.8L198,297L199,298.4L200.9,302L202,305.4L202.2,308L201.9,311L200,314.1L197.5,316.6L191.5,318.2L183.5,318.9L164.5,318.4L131,318.7L122.5,319.4L110.5,321.5ZM145.5,371L139,371.1L133,370.1L128.5,369.1L121,366.2L110.5,360.9L96,351.8L90.6,347.5L88,344.5L85.8,341L85.3,338.5L85.2,336L89.2,334L91,333.9L100.5,334.6L107,335.5L112.8,336.5L121,338.6L126.5,339.5L134,340L145.5,340.1L158.5,339.9L167,339.3L173,338.4L186,335.6L194.5,334.6L198.7,336L199,336.5L198.9,337.5L198.5,341L197,343.5L195,346L189.5,350.9L176.6,360L169.1,364.5L162,367.6L155.5,369.5L145.5,371Z" fill="#00f9ff"/><path d="M109.5,321L106,321.4L98.9,321L93.3,320L88.2,318L86,316.7L83,312.5L82.7,311L82.8,308L84,304L86.1,300L88.5,297.6L91.5,295.4L96.5,292.4L102.5,289.7L108.5,287.8L114.5,286.5L123.5,285.6L143,285L161.5,286.2L167,287L173,288.2L186,291.8L190.5,293.6L194.1,295.5L197,297.6L198.2,299L200.2,302.5L201.2,306L201.3,308.5L201,311.5L200.5,312.5L199,314.4L197.5,315.9L191,317.6L187,318.1L182,318.2L166.2,317.5L158,316.7L139,316.8L122.5,318.7L109.5,321ZM146,370.5L139,370.6L129,368.8L122,366.1L111.5,360.9L96.5,351.5L91.4,347.5L88.7,344.5L86.8,341.5L86.3,339L86.1,336.5L86.4,336L90,334.3L99.5,334.8L108.5,336L119.5,338.9L124.5,339.8L130.7,340.5L136.5,341.5L146.5,341.8L154,341.7L159.5,341.3L172.5,339.1L185.5,336.2L192,335.3L194.5,335.1L197.9,336.5L197.8,339L197.3,341.5L195.8,344L194,346.1L188.5,350.8L175,360.4L168,364.5L161,367.5L155,369.1L146,370.5Z" fill="#06fff9"/><path d="M108.5,320.6L103,321L97.6,320.5L93,319.3L88.5,317.5L86.1,316L83.9,313L83.6,311L83.7,308L85.1,304L87.1,300.5L89.5,298.3L93,295.8L98.5,292.8L104.5,290.4L110.5,288.6L116.5,287.4L124,286.7L143,286.1L161,287.3L166.5,288.1L174,289.8L186.5,293.2L190.5,294.7L194,296.7L197,299L198.1,300.5L199.5,303.5L200.4,307L200.4,309.5L199.8,312.5L197.7,315L194.5,316.2L190,317.2L184,317.6L176.5,317.3L174,317L166,314.5L158,313.1L152,312.7L142.5,312.8L137.5,313.2L131.5,314.4L128,315.5L123.8,317.5L122,318L108.5,320.6ZM146.5,370.1L138,370.1L129.8,368.5L122.9,366L112,360.6L97,351.2L92,347.3L89.5,344.5L87.6,341.5L87.1,339L87,336.5L90.5,334.8L97,334.9L106.5,336L124,340.5L127.5,342.7L131.5,344.2L137,345L145.5,345.3L155.5,345.1L162,344.3L166.5,342.8L171.2,340L187,336.5L194,335.7L196.3,336.5L196.9,337L196.7,339.5L196.2,342L193.1,346L187.9,350.5L174.5,360L167.8,364L160.9,367L155.5,368.5L146.5,370.1Z" fill="#13ffec"/><path d="M108,320L104,320.4L100,320.2L96,319.6L92.5,318.5L86.5,315.7L84.5,313L84.4,311.5L84.6,308.5L85.5,305.6L87.4,302L89,300.1L92.5,297.4L97,294.9L103,292.3L107,291.2L113.5,292.6L119.5,294.8L124.5,297.2L133.5,302.5L137,304L141.5,305.1L146.5,305.4L152.5,304.9L155,304.3L157,303.5L160,301.5L169.2,294L173.5,291.4L175,291.3L186.5,294.3L190.5,295.9L193.5,297.5L196.1,299.5L197.2,301L198.7,304L199.4,307L199.5,309.5L198.9,312.5L198.3,313.5L197.4,314.5L194.5,315.6L191,316.4L187,316.8L183,316.9L178.5,316.5L171.2,313.5L164.5,308.6L162,307.3L159.5,306.5L155.5,305.9L148.5,305.5L141.5,305.7L136.5,306.2L133,307L130,308.5L128,310.2L124.7,314L119.8,317.5L108,320ZM112,359.6L110.5,359.1L98.4,351.5L95,349.1L92.5,347L90.3,344.5L88.6,342L87.9,338.5L87.9,337L88.2,336.5L90.5,335.3L96.5,335.2L101,335.5L108,336.8L120.4,340.5L123.5,343.7L126.3,346L125.3,348.5L124.2,350.5L121.2,354L117,357.2L112,359.6ZM178.5,356.5L175.5,355L172.1,352L169.6,348.5L168.5,345.5L171,343.6L175,340L176.2,339.5L184.5,337.5L190,336.6L194,336.2L195.8,337L195.7,339.5L195.2,342L193.1,345L188.8,349L178.5,356.5Z" fill="#20ffdf"/><path d="M189,316L186,316.3L182.6,316L179,314.8L175.5,313.2L172.1,310L168.4,305L170.1,301.5L172.4,298.5L175.5,295.8L179,293.8L180.5,293.9L185.5,295.1L191.5,297.5L195.2,300L197.4,303.5L198.3,306L198.6,308.5L198.3,311L197.6,313.5L197,314L194.5,314.9L189,316ZM107,319.5L101,319.7L95,318.7L91.5,317.5L88.4,316L86.5,314.9L85.5,313.5L85.3,310.5L85.6,308L87,304.6L89,301.5L91,299.7L94,297.7L97.5,295.9L100.5,294.7L103.5,294.8L107.5,295.4L111,296.4L114.5,297.8L117.5,299.4L120,301.1L122.6,303.5L124.2,305.5L122.6,310.5L121.2,313.5L117.4,317L116.8,317.5L115,318L107,319.5ZM109.5,356.5L108.5,356.8L107.5,356.5L97.8,350.5L93.3,347L91,344.5L89.4,342L88.9,339.5L88.8,337L91,335.8L97,335.7L101.5,336L108.8,337.5L117,340L117.8,340.5L121.3,345.5L121.4,346L120.7,347.5L119,350.1L116.5,352.6L113.5,354.7L109.5,356.5ZM182,353.2L181.5,353.3L180,352.5L176.7,350L174.4,347L173.7,345.5L173.8,345L178.7,339.5L187.5,337.5L193.5,336.8L194.3,337L194.8,337.5L194.6,340.5L194,342.5L193,344L189,348L182,353.2Z" fill="#2dffd2"/><path d="M191,315L186.5,315.2L182,314.2L178.2,312.5L175.7,310L173.9,307L173,304.5L174.9,301L177.9,298L180.2,296.5L182.5,295.5L186.5,296.5L190,297.9L193,299.6L195,301.4L196.5,303.9L197.3,306.5L197.6,309L197.1,312L196.6,313L195.7,313.5L193.5,314.4L191,315ZM106.5,319L101,319.2L96,318.4L90.7,316.5L86.5,314L86.3,313.5L86.1,311L86.5,308.3L88,304.8L90.3,301.5L93.5,299.2L97,297.4L100,297.1L103.5,297.3L108,298.2L112,299.7L115.5,301.7L118.8,304.5L119.5,305.5L119.6,309L118.9,312L118,314L114.2,317.5L106.5,319ZM107.5,354.6L106.5,354.9L105.5,354.6L98,350L93.6,346.5L90.4,342.5L89.7,339.5L89.8,337L91.5,336.3L97,336.2L101.5,336.5L107.5,337.7L115.1,340L116.8,342.5L118.2,345.5L117.9,346.5L116.3,349L113.6,351.5L111,353.2L107.5,354.6ZM184.5,350.7L184,351L181.9,350L180,348.6L178.5,347L177.3,345L178.5,343L180.7,340.5L182.8,339L189.5,337.7L193,337.3L193.8,337.5L193.6,340.5L192.8,343L189.7,346.5L184.5,350.7Z" fill="#39ffc6"/><path d="M191,313.5L187.5,313.7L183.5,313L181.1,312L178.9,310L177.3,307.5L176.3,304.5L177.7,302L179.6,300L182.5,298.1L185,297.3L190,299L192.5,300.5L193.7,301.5L195.1,303.5L196.1,306L196.6,309L196.3,311L196,311.6L194.5,312.4L191,313.5ZM105.5,318.5L100.5,318.5L96,317.8L91.5,316.2L87.6,314L87.1,313L87,312L87,310L87.4,308.5L89,304.9L91.5,301.7L94,300L95,299.6L99,299.1L103.5,299.3L107,300L110.5,301.3L113.4,303L115.8,305L116.5,307L116.8,309.5L116.5,312L115.6,314L113.1,316.5L111.5,317.5L105.5,318.5ZM106,353.1L104.5,353.3L102,351.9L97,348.7L93.5,345.6L91.5,343L90.9,341.5L90.4,338L90.4,337.5L90.9,337L91.5,336.8L96.5,336.7L102,337.1L107,338.1L113.1,340L115,343.5L115.7,345.5L115.5,346L113.7,348.5L111.5,350.5L109,351.9L106,353.1ZM186,348.6L185.2,348.5L183.5,347.6L181.5,345.9L180.8,344.5L181.5,343.2L183.4,341L186,339.4L189,338.5L192.5,338.5L192.7,339L192.6,340.5L191.8,343L189.2,346L186,348.6Z" fill="#46ffb9"/><path d="M190.5,312.1L188,312.2L185.5,311.9L183,310.6L181,308.7L179.8,306.5L179.5,304L180.5,302.5L182.1,301L184.5,299.6L187,298.9L191.5,301L193.5,303L194.5,304.7L195.1,306.5L195.4,310L193,311.4L190.5,312.1ZM104,318L100,317.9L96.5,317.3L92.6,316L89.8,314.5L88.3,312L87.9,310L89.4,306L92,302.6L94,301.7L97,301L100,300.8L103,300.9L106,301.5L108.5,302.4L110.7,303.5L112.8,305L113.9,307L114.4,309L114.4,311.5L113.8,313.5L112,315.5L110.1,317L108,317.6L104,318ZM105,351.6L103.5,351.9L102.5,351.6L97.7,348.5L94.5,345.8L92,342.5L91.4,340L91.3,337.5L96,337.2L101.5,337.5L106.6,338.5L111.1,340L112.6,342.5L113.4,345.5L111.9,347.5L110,349.2L107.5,350.7L105,351.6ZM188,346.1L187.5,346.1L186,345.5L184.7,344.5L184.6,344L185.9,342.5L187.5,341.5L189,341L191,340.8L191.3,341.5L190.7,343L188,346.1Z" fill="#53ffac"/><path d="M190,310.1L187,309.9L184.5,308.5L183.6,307.5L182.9,306L182.8,304.5L183.1,303.5L185,302L188,301L189.5,301.1L191.1,302L193.1,304.5L193.8,306L194.1,307.5L192.5,309.2L190,310.1ZM107,317.1L103,317.4L99,317.2L95,316.2L92.2,315L90.6,313L89.6,310.5L90,308.5L90.7,307L92,305.3L94,303.7L95.5,302.9L98,302.4L101,302.3L104,302.7L106.5,303.3L109.1,304.5L110.7,306L111.8,308L112.3,310L112.2,312L111.6,313.5L110.5,314.8L108.5,316.3L107,317.1ZM102,350.5L100.5,349.8L97.3,347.5L93.7,344L93,343L92.4,341L92.1,339L92.4,338L96.5,337.7L102,338.1L108.2,339.5L109.4,340.5L110.3,342L111.1,344L111.2,345L110.7,346L109,347.8L107,349.1L104.5,350L102,350.5Z" fill="#60ff9f"/><path d="M104.5,316.6L101.5,316.8L98.6,316.5L96.4,316L95.1,315.5L94,314.7L92.5,313L91.6,311L92,309L93.2,307L94.5,305.8L96,304.9L98,304.1L100,303.8L102.5,303.9L104.5,304.3L106,304.9L107.6,306L109,307.5L109.8,309L110.1,310.5L109.9,312.5L109.4,313.5L107.8,315L106.2,316L104.5,316.6ZM101.5,349L100.5,349L99.5,348.5L96.9,346.5L95,344.6L93.6,342.5L93,339.5L95,338.4L99,338.3L103,338.8L106.1,339.5L107.2,340.5L108.7,343L109,345L108.7,345.5L107.1,347L105.5,347.9L101.5,349Z" fill="#6cff93"/><path d="M102.5,315.6L100,315.6L98,315.2L96,314.1L94.8,313L93.9,311.5L93.9,310.5L94.5,309L95.8,307.5L98.5,306.1L101.5,305.8L104.3,306.5L106.5,308L107.2,309L107.7,310.5L107.7,312L107.4,313L105.5,314.5L102.5,315.6ZM103,347L100.5,347.4L99,347.3L98.5,347.1L95,343.5L94.3,342L94.2,341L96.5,339.6L99,339L101.5,339.2L104.4,340.5L106.1,342.5L106.6,344L106.5,345L105,346.2L103,347Z" fill="#79ff86"/><path d="M102.5,313.5L100,313.6L98,312.9L97,312L96.9,311.5L97.3,310L98.3,309L100,308.4L102,308.5L103.3,309L104.3,310L104.7,311.5L104,312.9L102.5,313.5ZM102,345.1L100,345.4L98,345L96.5,344.2L96,343.3L96.6,342.5L98,341.6L99.5,341.4L101,341.5L102.5,342.4L103.2,343.5L103.3,344.5L102,345.1Z" fill="#86ff79"/></g>
<g mask="url(#cpd)"><path d="M432.1,318.3a68.2,63.1 0 1,0 136.4,0a68.2,63.1 0 1,0 -136.4,0Z" fill="#000086"/><path d="M571.5,384.5L429,384.5L429,252L571.5,252L571.5,384.5Z" fill="#000093"/><path d="M571.5,384.5L429,384.5L429,252L571.5,252L571.5,384.5Z" fill="#00009f"/><path d="M571.5,384.5L429,384.5L429,321.1L432,321L429,320.9L429,252L571.5,252L571.5,320.9L568.5,321L571.5,321.1L571.5,384.5Z" fill="#0000ac"/><path d="M571.5,384.5L429,384.5L429,321.4L432,321.4L432.1,321L432,320.7L429,320.7L429,255L571.5,255L571.5,320.7L568.5,320.7L568.4,321L568.5,321.4L571.5,321.4L571.5,384.5ZM520.5,330.5L539,329.2L554,327.3L559.5,326.1L564,324.8L567,323.3L568.1,322L568,321.8L566.5,323L564,324.2L559,325.6L551.5,327.1L544,328.1L526,329.6L514,330.1L500.5,330.3L486.5,330.1L474.5,329.6L456.5,328.1L449.5,327.1L441.5,325.6L436.5,324.1L433.5,322.7L432.5,321.7L432.3,322L433.5,323.3L435,324.1L441,326.1L450,327.8L461.5,329.2L475,330.2L490,330.8L510,330.8L520.5,330.5Z" fill="#0000b9"/><path d="M508,330L494,330L480.5,329.7L467.5,328.9L456,327.8L447,326.5L440,325L436.5,323.9L434,322.7L432.5,321.5L432,320.5L429,320.5L429,255.2L493.5,255.2L495.5,255.6L500.5,255.8L505,255.6L507,255.2L571.5,255.2L571.5,320.5L568.5,320.5L568.3,321.5L567,322.5L565,323.5L562,324.6L556.5,325.9L550,327.1L541,328.2L531,329L508,330ZM571.5,384.5L429,384.5L429,321.6L432,321.6L433,323.1L434,323.8L436.5,324.9L439.5,325.9L445.5,327.3L453.5,328.5L463.5,329.6L475,330.5L487.5,331L500.5,331.1L513.5,331L526,330.4L537.5,329.6L547.5,328.5L555.5,327.2L561.5,325.8L566.5,323.8L568,322.6L568.5,321.6L571.5,321.6L571.5,384.5Z" fill="#0000c6"/><path d="M518.5,329.5L503.5,329.8L488,329.7L473.5,329.1L460,328L449.5,326.7L441,325L437.4,324L434.5,322.8L433,321.8L432,320.3L429,320.3L429,255.5L493.5,255.5L494,255.8L496,256.1L500.5,256.3L505,256.1L506.5,255.8L507,255.5L571.5,255.5L571.5,320.3L568.5,320.3L567.5,321.9L564.5,323.5L560,324.9L553.5,326.3L538,328.3L518.5,329.5ZM571.5,384.5L429,384.5L429,321.8L432,321.8L433,323.3L434,324L436.5,325.1L439.5,326.1L445.5,327.5L453.5,328.7L463.5,329.8L475,330.7L487.5,331.2L500.5,331.3L513.5,331.2L526,330.6L537.5,329.8L547.5,328.7L555.5,327.4L561.5,326L566.5,324L568,322.8L568.5,321.8L571.5,321.8L571.5,384.5Z" fill="#0000d2"/><path d="M512,329.5L497.5,329.6L483,329.3L469.5,328.6L457.5,327.5L447.5,326.1L440,324.6L436.5,323.5L434,322.3L432.5,321.1L432,320.1L429,320.1L429,255.8L489,255.8L496,256.8L500.5,256.9L505,256.7L507,256.2L511.5,255.8L571.5,255.8L571.5,320.1L568.5,320.1L568,321.2L567,322.1L562.5,324L557.5,325.3L551.5,326.4L543,327.5L533.5,328.4L512,329.5ZM571.5,384.5L429,384.5L429,322L432,322L433,323.5L434,324.2L436.5,325.3L439.5,326.3L445.5,327.7L453.5,328.9L463.5,330L475,330.9L487.5,331.4L500.5,331.5L513.5,331.4L526,330.8L537.5,330L547.5,328.9L555.5,327.6L561.5,326.2L566.5,324.2L568,323L568.5,322L571.5,322L571.5,384.5Z" fill="#0000df"/><path d="M520.5,329L505,329.4L489.5,329.3L474.5,328.7L461,327.7L450,326.3L441,324.6L437.2,323.5L434.5,322.4L433,321.4L432,319.9L429,319.9L429,256.3L486.5,256.3L492.5,257.6L500.5,258L508,257.6L514.5,256.3L571.5,256.3L571.5,319.9L568.5,319.9L567.5,321.5L564.5,323.1L560,324.5L554,325.8L539,327.8L520.5,329ZM571.5,384.5L429,384.5L429,322.2L432,322.2L433,323.6L434,324.4L436.5,325.5L439.5,326.5L445.5,327.9L453.5,329.1L463.5,330.2L475,331.1L487.5,331.6L500.5,331.8L513.5,331.6L526,331L537.5,330.2L547.5,329.1L555.5,327.8L561.5,326.4L566.5,324.4L568,323.2L568.5,322.2L571.5,322.2L571.5,384.5Z" fill="#0000ec"/><path d="M515.5,329L501,329.2L486,329L472,328.4L459,327.3L448.5,325.9L440.5,324.3L434.5,322.2L433,321.2L432,319.7L429,319.7L429,257L484,257L485,257.6L489,258.5L494,259L500.5,259.2L506.5,259L511.8,258.5L515.5,257.6L516.5,257L571.5,257L571.5,319.7L568.5,319.7L568,320.8L567,321.7L563,323.4L558.5,324.7L552.5,325.8L536,327.8L515.5,329ZM571.5,384.5L429,384.5L429,322.4L432,322.4L433,323.8L434,324.6L436.5,325.7L439.5,326.7L445.5,328.1L453.5,329.3L463.5,330.4L475,331.3L487.5,331.8L500.5,332L513.5,331.8L526,331.3L537.5,330.4L547.5,329.3L555.5,328L561.5,326.6L566.5,324.6L568,323.4L568.5,322.4L571.5,322.4L571.5,384.5Z" fill="#0000f9"/><path d="M506,329L492.5,329L479,328.6L466.5,327.8L455,326.6L446.5,325.4L439.5,323.8L436.5,322.9L434,321.7L432.5,320.5L432,319.5L429,319.5L429,257.7L480,257.7L482,258.2L483.5,259L486.1,259.5L491.5,260.1L500.5,260.4L509,260.1L514.5,259.5L517,259L520.5,257.7L571.5,257.7L571.5,319.5L568.5,319.5L568,320.6L567,321.5L565,322.5L562,323.6L556.5,324.9L549.5,326.1L540,327.3L529.5,328.1L506,329ZM571.5,384.5L429,384.5L429,322.6L432,322.6L433,324L434,324.8L436.5,325.9L439.5,326.9L445.5,328.3L453.5,329.6L463.5,330.7L475,331.5L487.5,332L500.5,332.2L513.5,332L526,331.5L537.5,330.6L547.5,329.5L555.5,328.2L561.5,326.8L566.5,324.8L568,323.6L568.5,322.6L571.5,322.6L571.5,384.5Z" fill="#0006ff"/><path d="M518,328.5L503,328.8L487.5,328.7L473,328L459.5,326.9L449,325.6L441,324L437.5,323L434.5,321.8L433,320.8L432,319.3L429,319.3L429,258.4L478.5,258.4L479,258.8L481.5,259.7L485.5,260.5L492.5,261.1L500.5,261.3L508.5,261.1L515,260.5L519,259.8L522.5,258.4L571.5,258.4L571.5,319.3L568.5,319.3L567.5,320.9L564.5,322.5L559.5,324L553,325.3L537.5,327.3L518,328.5ZM571.5,384.5L429,384.5L429,322.8L432,322.8L433,324.2L434.5,325.3L439.5,327.1L445.5,328.5L453.5,329.8L463.5,330.9L475,331.7L487.5,332.2L500.5,332.4L513.5,332.2L526,331.7L537.5,330.8L547.5,329.7L555.5,328.4L561.5,327L566.5,325L567.5,324.3L568.5,322.8L571.5,322.8L571.5,384.5Z" fill="#0013ff"/><path d="M511,328.5L496.5,328.6L482.5,328.3L469,327.6L457,326.5L447.5,325.1L440,323.5L436.5,322.4L434,321.3L432.5,320.1L432,319.1L429,319.1L429,259L476.5,259L478,259.9L479.5,260.5L484,261.3L491.5,262L500.5,262.3L509,262L516.5,261.3L521,260.5L522.5,260L524,259L571.5,259L571.5,319.1L568.5,319.1L568,320.2L567,321.1L562.5,323L557.5,324.3L551,325.5L533,327.5L511,328.5ZM510.5,381.5L490,381.5L489.5,381L486,381L485.5,380.5L483,380.5L482.5,380L481,380L480.5,379.5L479.5,379.5L479,379L429,379L429,323.1L432,323.1L433,324.4L434.5,325.5L439.5,327.3L445.5,328.7L453.5,330L463.5,331.1L475,331.9L487.5,332.4L500.5,332.6L513.5,332.4L526,331.9L537.5,331L547.5,329.9L555.5,328.6L561.5,327.2L566.5,325.2L567.5,324.5L568.5,323.1L571.5,323.1L571.5,379L521.5,379L521,379.5L520,379.5L519.5,380L518,380L517.5,380.5L515.5,380.5L515,381L511,381L510.5,381.5Z" fill="#0020ff"/><path d="M520,328L504.5,328.4L489,328.3L474,327.7L460.5,326.6L449.5,325.2L441,323.6L437.5,322.6L434.5,321.4L433,320.4L432,318.9L429,318.9L429,259.7L474,259.7L475.5,260.1L476.5,260.8L478,261.3L483,262.2L491,263L500.5,263.2L510,262.9L518,262.2L523,261.2L526.5,259.7L571.5,259.7L571.5,318.9L568.5,318.9L568,320L567.5,320.5L565,321.9L560.5,323.4L554,324.8L539,326.7L520,328ZM511.5,380.5L500.5,380.9L489.5,380.5L481.5,379.6L474.5,377.7L429,377.7L429,323.3L432,323.3L433,324.6L434.5,325.7L439.5,327.5L445.5,328.9L453.5,330.2L463.5,331.3L475,332.1L487.5,332.6L500.5,332.8L513.5,332.6L526,332.1L537.5,331.2L547.5,330.1L555.5,328.8L561.5,327.4L566.5,325.4L567.5,324.7L568.5,323.3L571.5,323.3L571.5,377.7L526,377.7L519,379.6L511.5,380.5Z" fill="#002dff"/><path d="M514.5,328L499.5,328.2L485,328L471,327.3L458.5,326.2L448.5,324.9L440.5,323.3L434.5,321.2L433,320.2L432,318.7L429,318.7L429,260.4L472.5,260.4L476,262L481.5,263.1L490,263.8L500.5,264.1L510.5,263.9L519,263.1L524.6,262L528,260.4L571.5,260.4L571.5,318.7L568.5,318.7L568,319.8L567,320.7L563,322.4L558,323.8L552,324.9L535,326.9L514.5,328ZM512.5,380L500,380.4L488,380L480,379L475,377.8L473.5,377L472,376.9L429,376.9L429,323.5L432,323.5L433,324.8L434.5,325.9L439.5,327.7L445.5,329.1L453.5,330.4L464,331.5L475,332.3L487.5,332.8L500.5,333L513.5,332.8L526,332.3L537.5,331.4L547.5,330.3L555.5,329L561.5,327.6L566.5,325.6L567.5,324.9L568.5,323.5L571.5,323.5L571.5,376.9L528.5,376.9L527.5,377L527,377.4L526,377.4L525.5,377.8L524.5,377.8L524,378.2L523,378.2L522.5,378.6L520.6,379L512.5,380Z" fill="#0039ff"/><path d="M502.5,328L489,327.9L476,327.4L463,326.5L453.5,325.4L446.5,324.3L439.5,322.8L436.5,321.8L434,320.7L432.5,319.5L432,318.5L429,318.5L429,261.1L470.5,261.1L471.5,261.2L472.5,262L474.5,262.8L480.5,264L489.5,264.8L500.5,265.1L511,264.8L520,264L526,262.8L528,262.1L529,261.2L530,261.1L571.5,261.1L571.5,318.5L568.5,318.5L568,319.6L566.5,320.8L561,322.8L554.5,324.3L547.5,325.4L538,326.4L526,327.3L502.5,328ZM513,379.5L500,380L487,379.5L478.5,378.4L475,377.6L473.5,376.9L472.5,376.8L471,376.2L429,376.2L429,323.7L432,323.7L433,325L434.5,326.1L440,328.1L447,329.6L454,330.7L463.5,331.7L476.5,332.6L500.5,333.2L524.5,332.6L537,331.7L547,330.6L553.5,329.6L560.5,328.1L566,326.1L567.5,325.1L568.5,323.7L571.5,323.7L571.5,376.2L529.5,376.2L527,377.2L522,378.5L513,379.5Z" fill="#0046ff"/><path d="M517,327.5L502.5,327.8L487.5,327.6L470.5,326.9L458.5,325.8L447.5,324.3L440,322.7L434.5,320.8L433,319.8L432,318.3L429,318.3L429,261.7L469.5,261.7L471.4,263L472.8,263.5L480.8,265L486.1,265.5L500.5,266L514.5,265.5L520,265L527.8,263.5L531.5,261.7L571.5,261.7L571.5,318.3L568.5,318.3L567.5,319.9L565,321.3L560.5,322.8L553,324.3L537,326.3L517,327.5ZM514,379L508,379.4L498.5,379.5L490.5,379.3L484,378.9L476.5,377.8L472.5,376.7L470,375.5L429,375.5L429,323.9L432,323.9L433,325.2L434.5,326.3L440,328.3L446.5,329.7L453.5,330.8L462.5,331.8L475.5,332.8L488,333.3L500.5,333.4L513,333.3L525.5,332.7L538,331.8L547.5,330.7L554,329.7L561,328.2L566,326.3L567.5,325.3L568.5,323.9L571.5,323.9L571.5,375.5L530.5,375.5L528,376.7L524,377.8L514,379Z" fill="#0053ff"/><path d="M511,327.5L496.5,327.6L482,327.3L470,326.6L458,325.6L448,324.2L440.5,322.7L434.5,320.6L433,319.6L432,318.1L429,318.1L429,262.2L468,262.2L472,264.1L478.5,265.4L488.5,266.3L500.5,266.6L512,266.3L522,265.4L528.5,264.1L532.5,262.2L571.5,262.2L571.5,318.1L568.5,318.1L568,319.2L567,320.1L565,321.1L562,322.1L556,323.6L550,324.6L541.5,325.7L531,326.6L511,327.5ZM509.5,379L496,379.2L484,378.5L477.5,377.7L474,377L471.5,376.2L469,375L429,375L429,324.1L432,324.1L433,325.4L434.5,326.5L439.5,328.4L446,329.9L452.5,330.9L461.5,331.9L474,332.9L486.5,333.4L500.5,333.6L514.5,333.4L526.5,332.9L539,332L548,330.9L554.5,329.9L561,328.4L564,327.4L566.5,326.3L567.5,325.5L568.5,324.1L571.5,324.1L571.5,375L532,375L531.5,375.4L530.5,375.4L528,376.6L523.5,377.7L516.5,378.6L509.5,379Z" fill="#0060ff"/><path d="M520.5,327L505,327.4L489,327.3L474,326.7L460,325.6L449.5,324.3L441,322.6L437.5,321.6L434.5,320.4L433,319.4L432,317.9L429,317.9L429,262.7L467,262.7L471,264.6L478,265.9L488.5,266.9L500.5,267.2L512.5,266.9L523,265.9L529.5,264.6L533.5,262.7L571.5,262.7L571.5,317.9L568.5,317.9L568,319L567.5,319.5L564.5,321.1L560,322.5L554,323.8L539,325.8L520.5,327ZM513.5,378.5L499,378.9L484.5,378.3L474.7,377L471.5,376.1L468,374.6L429,374.6L429,324.4L432,324.4L433,325.6L434.5,326.7L439.5,328.6L445.5,330L453.5,331.3L463.5,332.4L475,333.2L487.5,333.7L500.5,333.9L525.5,333.2L537,332.4L547,331.3L555,330L561,328.6L566,326.8L567.5,325.7L568.5,324.4L571.5,324.4L571.5,374.6L533,374.6L531.5,375.3L530.5,375.4L529,376.2L525.9,377L520.5,377.9L513.5,378.5Z" fill="#006cff"/><path d="M516,327L501,327.3L486,327.1L472,326.4L459,325.3L448.5,323.9L440.5,322.3L434.5,320.2L433,319.3L432,317.7L429,317.7L429,263.2L466,263.2L470.5,265.2L477.5,266.5L488,267.5L500.5,267.8L513,267.4L523.5,266.5L530.5,265.1L534.5,263.2L571.5,263.2L571.5,317.7L568.5,317.7L568,318.9L567,319.7L563,321.5L558.5,322.7L552.5,323.9L536,325.9L516,327ZM508,378.5L494,378.6L481.5,377.8L473.3,376.5L467,374.2L429,374.2L429,324.6L432,324.6L433,325.8L434.5,326.9L439.5,328.8L445.5,330.2L453.5,331.5L463.5,332.6L475,333.4L487.5,334L500.5,334.1L525.5,333.4L537,332.6L547,331.5L555,330.3L561,328.9L566,327L567.5,325.9L568.5,324.6L571.5,324.6L571.5,374.2L534,374.2L531.5,375.2L530.5,375.3L529,376.1L524.9,377L517,378L508,378.5Z" fill="#0079ff"/><path d="M509,327L495,327.1L481,326.7L468,325.9L456.5,324.9L447.5,323.6L440,322L436.5,320.9L434,319.8L432.5,318.6L432,317.5L429,317.5L429,263.6L465.5,263.6L466.5,264L467.7,265L469.5,265.7L476.5,267L487.5,268.1L500.5,268.4L513,268.1L524,267.1L531,265.7L532.9,265L534.5,263.9L535.5,263.6L571.5,263.6L571.5,317.5L568.5,317.5L568,318.7L567,319.5L562.5,321.5L557,322.8L550.5,324L541.5,325.1L531.5,326L509,327ZM512.5,378L497,378.3L482.5,377.6L476.5,376.9L471.9,376L467.5,374.4L467,374L466,373.8L429,373.8L429,324.9L432,324.9L432.5,325.1L433.5,326.5L434.5,327.2L439.5,329.1L445.5,330.5L453.5,331.7L463.5,332.9L475,333.7L487.5,334.2L500.5,334.4L525.5,333.7L537,332.9L547,331.8L555,330.5L561,329.1L566,327.2L567.5,326.2L568.5,324.9L571.5,324.9L571.5,373.8L534.5,373.8L531.5,375.1L526.5,376.5L520,377.4L512.5,378Z" fill="#0086ff"/><path d="M520,326.5L504.5,326.9L489,326.8L474,326.2L460.5,325.1L449.5,323.7L441,322.1L437.3,321L434.5,319.9L433,318.9L432,317.4L429,317.4L429,264.1L464.5,264.1L465.5,264.3L466.5,265.3L468.5,266.1L476,267.6L487.5,268.7L500.5,269L514,268.6L525,267.6L532,266.2L533.8,265.5L536,264.1L571.5,264.1L571.5,317.4L568.5,317.4L567.5,319L565,320.4L560.5,321.8L554,323.2L539,325.2L520,326.5ZM506,378L492,377.9L479.5,377L470.6,375.5L466,373.5L465,373.4L429,373.4L429,325.1L432.5,325.3L433,326.3L434.5,327.4L439.5,329.3L445.5,330.7L453.5,332L463.5,333.1L475,333.9L487.5,334.4L500.5,334.6L525.5,333.9L537,333.1L547,332L555,330.7L561,329.4L566,327.5L567.5,326.4L568.5,325.1L571.5,325.1L571.5,373.4L534.5,373.5L533.5,374.2L530,375.5L525.2,376.5L516.5,377.5L506,378Z" fill="#0093ff"/><path d="M515,326.5L500,326.7L485.5,326.5L471.5,325.8L458.5,324.7L448.5,323.4L440.5,321.8L434.5,319.7L433,318.7L432,317.2L429,317.2L429,264.6L463.5,264.6L464.5,264.8L466,266L468,266.7L475.5,268.2L487,269.2L500.5,269.6L514,269.2L525.5,268.1L533,266.6L535,265.8L536,264.8L537,264.6L571.5,264.6L571.5,317.2L568.5,317.2L568,318.3L567,319.2L563,320.9L558.5,322.2L552.5,323.3L535.5,325.4L515,326.5ZM511.5,377.5L496,377.7L481,376.9L471.3,375.5L469.5,375L465,373L429,373L429,325.4L432.5,325.4L433,326.5L434.5,327.6L439.5,329.6L445.5,331L453.5,332.2L463.5,333.3L475,334.2L487.5,334.7L500.5,334.9L525.5,334.2L537,333.3L547,332.2L555,331L561,329.6L566,327.7L567.5,326.6L568,325.7L568.5,325.4L571.5,325.4L571.5,373L535.5,373L532.5,374.5L527,376L520,376.9L511.5,377.5Z" fill="#009fff"/><path d="M507,326.5L493,326.5L479.5,326.1L467,325.3L455.5,324.2L446.5,322.9L439.5,321.3L436.5,320.4L434,319.2L432.5,318L432,317L429,317L429,265.1L462.5,265.1L463.5,265.2L464.5,266.1L467,267.2L475,268.8L487,269.8L500.5,270.2L514.5,269.8L526,268.7L533.5,267.2L535.5,266.5L537,265.2L538,265.1L571.5,265.1L571.5,317L568.5,317L568,318.1L567,319L565,320L562,321.1L556.5,322.4L549.5,323.6L540.5,324.7L530,325.6L507,326.5ZM515.5,377L499,377.5L482.5,376.8L471.5,375.3L468.5,374.5L464,372.7L429,372.7L429,325.6L432.5,325.6L433,326.7L434.5,327.9L439.5,329.8L445.5,331.2L453.5,332.5L463.5,333.6L475,334.4L487.5,334.9L500.5,335.1L525.5,334.4L537,333.6L547,332.5L555,331.2L561,329.8L566,327.9L567,327.3L568,325.8L568.5,325.6L571.5,325.6L571.5,372.7L536.5,372.7L532.3,374.5L528.5,375.5L522.5,376.4L515.5,377Z" fill="#00acff"/><path d="M519,326L504,326.4L488.5,326.2L473.5,325.6L460,324.5L449.5,323.2L441,321.5L437.4,320.5L434.5,319.3L433,318.4L432,316.8L429,316.8L429,265.6L462,265.6L463,266L464,266.9L466,267.7L473.5,269.3L484,270.3L500.5,270.9L516.5,270.3L527,269.3L534.5,267.8L536.5,266.9L538.5,265.6L571.5,265.6L571.5,316.8L568.5,316.8L567.5,318.4L564.5,320L560,321.4L553.5,322.8L538,324.8L519,326ZM510.5,377L494.5,377.1L480,376.3L470.5,374.9L467.5,374.1L464,372.5L463,372.3L429,372.3L429,325.9L432.5,325.9L433,326.9L434.5,328.1L440,330.2L446,331.5L454,332.8L464,333.9L475.5,334.7L500.5,335.3L525.5,334.7L537,333.8L547,332.7L555,331.5L561,330.1L566,328.2L567.5,327L568,325.9L571.5,325.9L571.5,372.3L537.5,372.3L536.5,372.5L532,374.4L527.5,375.4L520,376.4L510.5,377Z" fill="#00b9ff"/><path d="M513.5,326L499,326.2L484.5,325.9L470.5,325.2L458,324.1L448,322.8L440.5,321.2L434.5,319.1L433,318.2L432,316.6L429,316.6L429,266.4L461,266.4L462.5,267.6L464.6,268.5L468,269.4L473,270.2L485.5,271.4L500.5,271.8L515,271.4L527.5,270.3L532.5,269.4L536,268.5L538,267.6L539.5,266.4L571.5,266.4L571.5,316.6L568.5,316.6L568,317.8L567,318.6L562.5,320.6L558,321.7L552,322.9L534.5,324.9L513.5,326ZM514.5,376.5L497.5,376.9L481,376.1L474.5,375.4L469.5,374.5L467.5,374L462.5,371.9L429,371.9L429,326.1L432.5,326.1L433,327.1L434.5,328.3L437,329.5L440,330.4L446,331.8L454,333L464,334.1L475.5,334.9L500.5,335.6L525.5,334.9L537,334.1L547,333L555,331.7L561,330.3L566,328.4L567.5,327.2L568,326.1L571.5,326.1L571.5,371.9L538,371.9L533,374L529.5,374.8L523,375.8L514.5,376.5Z" fill="#00c6ff"/><path d="M504,326L490.5,325.9L477.5,325.5L465.5,324.7L454.5,323.5L446,322.2L439.5,320.8L436.5,319.8L434,318.7L432.5,317.5L432,316.5L429,316.5L429,267.2L459.5,267.2L460.5,267.7L461.5,268.6L464,269.6L472.5,271.3L485.5,272.4L500.5,272.8L515.5,272.4L528.5,271.2L537,269.5L539,268.7L541,267.2L571.5,267.2L571.5,316.5L568.5,316.5L568,317.6L567,318.4L565,319.5L562,320.5L556,322L548.5,323.2L539,324.3L528,325.2L504,326ZM508.5,376.5L492,376.5L477.5,375.5L468,373.9L463.5,372.2L462.5,371.5L429,371.5L429,326.4L432.5,326.4L433,327.3L434.5,328.6L437,329.7L440,330.6L446,332L454,333.3L464,334.3L475.5,335.2L500.5,335.8L525.5,335.1L537,334.3L547,333.2L555,331.9L561,330.5L566,328.6L567.5,327.4L568,326.4L571.5,326.4L571.5,371.5L538,371.5L537,372.3L534,373.5L528.5,374.8L519.5,375.9L508.5,376.5Z" fill="#00d2ff"/><path d="M518,325.5L503,325.8L488,325.7L473.5,325.1L460,324L449.5,322.7L441,321L437.5,320L434.5,318.8L433,317.8L432,316.3L429,316.3L429,268.1L458,268.1L459,268.2L460.3,269.5L462.9,270.5L471.5,272.2L485,273.4L500.5,273.8L516,273.4L529.5,272.2L538,270.4L540.5,269.4L541.5,268.2L542.5,268.1L571.5,268.1L571.5,316.3L568.5,316.3L567.5,317.9L564.5,319.5L559.5,321L553,322.3L537.5,324.3L518,325.5ZM513.5,376L496,376.3L479.5,375.5L468.5,373.9L465.5,373L463.5,372.1L462.5,371.4L461.5,371.1L429,371.1L429,326.6L432.5,326.6L433.5,328.1L434.5,328.8L437,329.9L440,330.9L446,332.2L454,333.5L464,334.6L475.5,335.4L500.5,336.1L525.5,335.4L537,334.6L547,333.5L554.5,332.3L560.5,330.9L566,328.8L567.5,327.6L568,326.6L571.5,326.6L571.5,371.1L539,371.1L538,371.4L537,372.2L535,373L530,374.3L522.5,375.3L513.5,376Z" fill="#00dfff"/><path d="M512.5,325.5L497.5,325.6L483,325.3L469.5,324.6L457.5,323.5L448,322.2L440.5,320.7L434.5,318.6L433,317.6L432,316.1L429,316.1L429,268.9L457.5,268.9L459,270.3L461.5,271.3L465.5,272.3L470.5,273.2L484.5,274.4L500.5,274.9L517,274.4L530.5,273.1L535.5,272.2L539.5,271.2L541.5,270.4L543,268.9L571.5,268.9L571.5,316.1L568.5,316.1L568,317.2L567,318.1L562.5,320L557.5,321.3L551,322.5L532.8,324.5L512.5,325.5ZM506,376L490,375.9L476,374.8L467,373.3L464.5,372.5L462.5,371.3L461,370.8L429,370.8L429,326.9L432.5,326.9L433.5,328.3L434.5,329L437,330.2L440,331.1L446,332.5L454,333.7L464,334.8L475.5,335.7L500.5,336.3L525.5,335.6L537,334.8L547,333.7L554.5,332.5L560.5,331.2L563.5,330.2L566,329.1L567.5,327.8L568,326.9L571.5,326.9L571.5,370.8L540,370.8L538,371.3L537,372.1L534.6,373L528,374.4L518,375.5L506,376Z" fill="#00ecff"/><path d="M521.5,325L501.5,325.5L483.5,325.2L471.5,324.6L460,323.6L448.5,322.1L441,320.6L434.7,318.5L433,317.4L432,315.9L429,315.9L429,269.8L456,269.8L458,271.2L460.5,272.3L464.5,273.3L470,274.2L484,275.4L500.5,275.9L517,275.4L531,274.1L540,272.3L542.5,271.3L544.5,269.8L571.5,269.8L571.5,315.9L568.5,315.9L567.5,317.5L564.8,319L560.2,320.5L555,321.6L540.5,323.6L521.5,325ZM512.5,375.5L494.5,375.7L477.5,374.7L471.7,374L466.6,373L463.7,372L461,370.5L429,370.4L429,327.1L432.5,327.1L433.5,328.5L435,329.5L437.5,330.6L441,331.6L448,333.1L455,334.1L465,335.2L479,336.1L500.5,336.6L522,336.1L536,335.1L545.5,334.1L552.5,333.1L559.5,331.7L565.5,329.6L567,328.6L568,327.1L571.5,327.1L571.5,370.4L540.5,370.4L538,371.2L537,372L535.7,372.5L531,373.6L523,374.7L512.5,375.5Z" fill="#00f9ff"/><path d="M517,325L483.5,325L473,324.5L460.5,323.5L448.9,322L441.3,320.5L435,318.5L433,317.1L432,315.6L429,315.6L429,270.6L455,270.6L457,272.2L459.5,273.2L463.5,274.2L469,275.1L483.5,276.4L500.5,276.9L517.5,276.4L532,275.1L537.5,274.1L541.5,273.1L543.9,272L545.5,270.6L571.5,270.6L571.5,315.6L568.5,315.6L567.5,317.2L565.5,318.5L561.2,320L554.6,321.5L540,323.5L527.5,324.5L517,325ZM516.5,375L500.5,375.5L484,375L473.5,374L467.5,373L464,372L461,370.3L460,370L429,370L429,327.4L432.5,327.4L433.5,328.8L435,329.8L440.5,331.8L447,333.2L454,334.3L463,335.3L476.5,336.3L500.5,336.9L524.5,336.3L537.5,335.3L547,334.3L553.5,333.3L560,331.9L565.5,329.9L567,328.9L568,327.4L571.5,327.4L571.5,370L540.5,370L536.6,372L533,373L527.1,374L516.5,375Z" fill="#06fff9"/><path d="M509,324.5L495,324.6L481,324.2L468,323.4L456.5,322.4L447.1,321L440,319.5L434.5,317.5L433,316.5L432,315L429,315L429,271.5L454.5,271.5L455.5,272.8L458,274L462,275L468,276L483,277.4L500.5,277.9L518,277.4L532.5,276.1L538.5,275L542.5,274L544.8,273L546.5,271.5L571.5,271.5L571.5,315L568.5,315L568,316.1L567,317L565,318L562.3,319L557,320.3L550.5,321.5L541.5,322.6L531.5,323.5L509,324.5ZM515.5,374L499.5,374.4L483.5,373.9L474,373.1L466.5,371.9L462.5,370.9L458,368.7L429,368.7L429,327.9L432.5,327.9L433.5,329.2L435,330.2L440.5,332.3L446.5,333.6L454,334.8L464,335.9L475.5,336.7L500.5,337.3L525,336.7L536.5,335.9L546.5,334.8L554.5,333.5L560.5,332.2L565.5,330.3L567,329.3L568,327.9L571.5,327.9L571.5,368.7L542.5,368.7L538.5,370.8L533.8,372L525.5,373.2L515.5,374Z" fill="#13ffec"/><path d="M518.5,323.5L503.5,323.9L488,323.7L473.5,323.1L460,322L449.5,320.7L441,319L437,317.8L434.5,316.8L433,315.8L432,314.3L429,314.3L429,272.4L453,272.4L455,274L457.4,275L461.5,276L467.5,277.1L482.5,278.4L500.5,278.9L518.5,278.4L533.5,277L539.3,276L543.5,274.9L546,273.8L547.5,272.4L571.5,272.4L571.5,314.3L568.5,314.3L567.5,315.9L564.5,317.5L559.5,319L553,320.4L537.5,322.3L518.5,323.5ZM514,373L498,373.3L482,372.8L472,371.8L464.5,370.6L460,369.4L457.5,367.9L456,367.3L429,367.3L429,328.5L432.5,328.5L433,328.7L434,330.1L435,330.7L440.5,332.8L446.5,334.1L454,335.3L464,336.4L475.5,337.2L500.5,337.9L525.5,337.2L536.5,336.4L546.5,335.3L554,334.1L560,332.8L565.5,330.8L567,329.7L568,328.5L571.5,328.5L571.5,367.3L544.5,367.3L540.5,369.4L534.5,371L525.5,372.2L514,373Z" fill="#20ffdf"/><path d="M512,323L497.5,323.1L483,322.8L469.5,322.1L457.5,321L448,319.7L440.5,318.2L437,317.1L434.5,316L433,315L432,313.6L429,313.6L429,273.3L452,273.3L454,274.9L456.5,275.9L461,277.1L467,278.1L482.5,279.5L500.5,279.9L518.5,279.4L534,278L539.5,277.1L544,276L547,274.7L548.5,273.3L571.5,273.3L571.5,313.6L568.5,313.6L567.6,315L566.5,315.8L562.4,317.5L557.5,318.8L551,320L533.5,321.9L512,323ZM512.5,372L496,372.2L480,371.6L470.5,370.7L463,369.4L458,368L454.5,366L429,366L429,329L433,329L433.5,330.1L435,331.2L440.5,333.3L446.5,334.7L454.5,335.9L464.5,337L476,337.8L500.5,338.4L525.5,337.7L536.5,337L546.5,335.9L554,334.7L560,333.3L565.5,331.3L566.5,330.6L567.5,329.3L568,329L571.5,329L571.5,366L546,366L545,366.4L543.5,367.5L541.5,368.4L535.5,369.8L525,371.2L512.5,372Z" fill="#2dffd2"/><path d="M520.5,322L505,322.4L489.5,322.3L474.5,321.7L461,320.7L450,319.3L441.5,317.7L435,315.6L433,314.2L432,312.9L429,312.9L429,274.1L451,274.1L453,275.8L455.5,276.8L460,278L466,279L482,280.5L500.5,281L519,280.4L534.5,279L540.5,278L545,276.9L547.5,275.8L549.5,274.1L571.5,274.1L571.5,312.9L568.5,312.9L567,314.7L564.5,316L560,317.5L553.5,318.8L538.5,320.8L520.5,322ZM510.5,371L494,371.1L478,370.4L468.5,369.4L461,368.1L457,367L453,364.7L429,364.7L429,329.6L433,329.6L434,331L435.5,332L441,334L447,335.3L454.5,336.4L464.5,337.5L476,338.3L500.5,339L525.5,338.3L536.5,337.5L546.5,336.4L554,335.2L560,333.9L565.5,331.8L567,330.6L567.5,329.6L571.5,329.6L571.5,364.7L547.5,364.7L545.5,366L543.5,367L536,368.8L524.5,370.2L510.5,371Z" fill="#39ffc6"/><path d="M514.5,321.5L499.5,321.7L485,321.5L471,320.8L458.5,319.7L448.5,318.4L441,316.8L435,314.8L433.5,313.9L432,312.2L429,312.2L429,275L450,275L450.5,275.1L452,276.6L455,277.9L459.5,279L465.5,280L481.5,281.5L500.5,282L519,281.5L535,280L541.1,279L546,277.7L548.5,276.7L549.4,276L550,275.1L550.5,275L571.5,275L571.5,312.2L568.5,312.2L567.5,313.6L566.5,314.3L562.5,316L558,317.2L552,318.4L535,320.4L514.5,321.5ZM507.5,370L487.5,369.8L469.5,368.5L462.5,367.5L457.5,366.3L454,365L452,363.5L451.5,363.4L429,363.4L429,330.1L433,330.1L434,331.5L435.5,332.5L441,334.5L447,335.8L454.5,337L464.5,338.1L476,338.9L500.5,339.5L525.5,338.8L536.5,338L546.5,336.9L554,335.7L560,334.4L563,333.4L565.5,332.3L566.5,331.6L567.5,330.1L571.5,330.1L571.5,363.4L549,363.4L548.5,363.5L546.5,365L544.5,365.9L540.5,367L536,367.8L523,369.3L507.5,370Z" fill="#46ffb9"/><path d="M522,320.5L507,321L490,320.9L474.5,320.3L461.5,319.3L449.5,317.8L441.5,316.3L437.5,315.1L434.5,313.8L433,312.7L432.5,311.6L429,311.5L429,275.9L449.5,275.9L451,277.5L454,278.8L458,279.8L463.5,280.8L478.5,282.3L488.5,282.8L500.5,283L512,282.8L522,282.4L537,280.8L543,279.7L547,278.7L550,277.2L551,275.9L571.5,275.9L571.5,311.5L568.5,311.5L567,313.2L564,314.8L559.5,316.1L554,317.3L539.5,319.3L522,320.5ZM518.5,368.5L498,369L478,368.3L467.5,367.3L458.5,365.8L453.5,364.2L450.5,362.2L429,362.2L429,330.7L433,330.7L434,331.9L435.5,333L441,335L447,336.4L454.5,337.5L464.5,338.6L476,339.4L500.5,340.1L525,339.4L536,338.6L546,337.5L553.5,336.4L559.5,335.1L565,333.1L566.5,332L567.5,330.7L571.5,330.7L571.5,362.2L550,362.2L546.5,364.4L540,366.2L529.5,367.7L518.5,368.5Z" fill="#53ffac"/><path d="M519,320L504,320.4L488.5,320.2L474,319.6L460.5,318.6L450,317.2L441.5,315.6L438,314.6L435,313.4L433,312L432.5,310.9L429,310.9L429,277.2L448,277.2L450,278.9L453,280.1L457.5,281.3L464,282.3L481,283.9L500.5,284.4L520.5,283.8L537,282.3L543.5,281.2L548,280L550.5,278.9L552.5,277.2L571.5,277.2L571.5,310.9L568.5,310.9L568,311.1L567,312.5L564,314.1L559.5,315.5L553,316.8L537.5,318.8L519,320ZM509.5,368L491,368L474,367.1L464.5,366L457,364.6L452,363L449.5,361.1L429,361.1L429,331.3L433.5,331.4L434.5,332.9L436,333.8L442,335.8L449,337.3L455.5,338.2L475,339.9L487,340.4L500.5,340.6L514,340.4L525.5,339.9L545,338.2L553.5,336.9L559,335.7L564.5,333.8L566,332.9L567.5,331.3L571.5,331.3L571.5,361.1L551,361.1L548.5,363L547,363.6L543.5,364.7L538.5,365.6L525.5,367.2L509.5,368Z" fill="#60ff9f"/><path d="M515.5,319.5L501,319.7L486,319.5L472,318.9L459.5,317.8L449.5,316.5L441.5,315L438,314L435,312.8L433.5,311.8L432.5,310.3L429,310.3L429,278.4L447,278.4L448.6,280L451.5,281.3L456.5,282.6L463,283.7L480,285.3L500.5,285.8L520.5,285.3L537.5,283.7L544,282.6L549,281.3L552,280L553.5,278.4L571.5,278.4L571.5,310.3L568,310.3L567,311.9L564,313.5L559,315L552,316.4L535.5,318.4L515.5,319.5ZM513.5,367L493.5,367.2L474.5,366.3L464.5,365.2L456.5,363.8L451.5,362.2L448.5,360.1L429,360.1L429,331.9L433.5,331.9L434.5,333.4L435.5,334.1L439.5,335.7L446,337.3L455,338.8L465,339.8L476,340.6L500.5,341.2L525,340.6L536,339.8L546,338.7L555,337.2L561.5,335.6L565.5,333.8L566.5,332.9L567,332L571.5,331.9L571.5,360.1L552,360.1L549.5,362L548.5,362.5L545,363.6L540.5,364.5L528.5,366.1L513.5,367Z" fill="#6cff93"/><path d="M511,319L496.5,319.1L482.5,318.8L469.5,318.1L457.5,317L448.5,315.7L441,314.2L435,312.1L433.5,311.1L432.5,309.7L429,309.7L429,279.7L446,279.7L448,281.6L452,283.1L459,284.6L468,285.8L483.5,286.9L500.5,287.3L517.5,286.9L533,285.7L542,284.5L548.5,283.1L552.5,281.6L553.5,281L554.5,279.7L571.5,279.7L571.5,309.7L568,309.7L567.5,310.6L566.5,311.6L563.5,313L558,314.6L550.5,316L532.5,318L511,319ZM516.5,366L495,366.3L474.5,365.4L464,364.3L455.5,362.8L450.5,361.2L447.5,359.1L429,359.1L429,332.6L433.5,332.6L435.5,334.6L439.5,336.3L446,337.9L455,339.4L465,340.5L476,341.2L500.5,341.9L524.5,341.2L535.5,340.5L545.5,339.4L554.5,338L561,336.4L565,334.7L566,333.9L567,332.6L571.5,332.6L571.5,359.1L553,359.1L550.5,361L549.5,361.5L546.5,362.4L542,363.4L530.5,365L516.5,366Z" fill="#79ff86"/><path d="M521.5,318L508.5,318.4L495.5,318.5L482.5,318.2L470.5,317.5L459,316.5L449.5,315.3L442,313.8L436.5,312.1L434,310.8L432.5,309.1L429,309.1L429,281L445,281L446.5,282.6L450.5,284.3L457,285.8L467.5,287.2L482,288.3L500.5,288.8L518.5,288.3L533,287.3L543.5,285.8L550,284.4L554,282.7L554.9,282L555.5,281L571.5,281L571.5,309.1L568,309.1L566.5,310.9L564,312.2L559.5,313.6L553.5,314.9L539,316.8L521.5,318ZM519,365L496.5,365.5L475,364.6L464,363.5L455,361.9L450,360.4L446.5,358.1L429,358.1L429,333.2L433.5,333.2L434,333.4L434.5,334.3L436,335.5L440,337.1L446.5,338.6L455.5,340.1L465.5,341.1L476.5,341.9L500.5,342.5L524.5,341.9L535.5,341.1L545.5,340L554.5,338.6L561,336.9L565,335.2L567,333.2L571.5,333.2L571.5,358.1L554,358.1L550.5,360.4L543.5,362.4L532.5,364L519,365Z" fill="#86ff79"/><path d="M519,317.5L494,317.8L470,316.9L459.5,315.9L450,314.7L442.5,313.3L437,311.7L434,310.1L432.5,308.4L429,308.4L429,283.1L443,283.1L443.5,283.2L444.5,284.4L445.5,285.1L449.5,286.6L456,288L465,289.3L481.5,290.6L500.5,291L519,290.6L535.5,289.3L544.5,288.1L551,286.6L555,285.1L556.5,284L557,283.2L557.5,283.1L571.5,283.1L571.5,308.4L568,308.4L566.5,310.2L563.5,311.7L559,313.1L552.5,314.4L537.5,316.3L519,317.5ZM510,364.5L490,364.5L471,363.4L461,362.2L453.5,360.8L448.5,359.1L446.2,357.5L446,357.1L429,357.1L429,333.9L434,333.9L435,335.3L436,336L440,337.7L446.5,339.2L455.5,340.7L465.5,341.7L476.5,342.5L500.5,343.1L524.5,342.5L535.5,341.7L545.5,340.6L554.5,339.2L561,337.5L565,335.8L566,334.9L566.5,333.9L571.5,333.9L571.5,357.1L555,357.1L552.5,358.9L550,360L546,361.1L541,362L527,363.6L510,364.5Z" fill="#93ff6c"/><path d="M515.5,317L491.5,317.2L468.5,316.1L458.5,315.2L450,314.1L442.5,312.6L437.5,311.2L434.1,309.5L433.5,308.9L433,307.8L429,307.8L429,285.2L442,285.2L443,286.5L444,287.2L448,288.8L454.5,290.2L463.5,291.5L481,292.9L500.5,293.3L520,292.9L537,291.5L546,290.2L552.5,288.8L556.5,287.3L557.6,286.5L558.5,285.4L559,285.2L571.5,285.2L571.5,307.8L568,307.8L566,309.8L563,311.2L558,312.7L551.1,314L533.8,316L515.5,317ZM514,363.5L492,363.7L471.5,362.6L461,361.4L453,359.9L448,358.3L445,356.1L429,356.1L429,334.5L434,334.5L436,336.5L440,338.2L446.5,339.9L455.5,341.3L465.5,342.4L476.5,343.1L500.5,343.7L524.5,343.1L535.5,342.3L545,341.3L554,339.9L560.5,338.3L564.5,336.6L565.5,335.9L566.5,334.5L571.5,334.5L571.5,356.1L555.5,356.1L553.5,357.8L551.5,358.8L548,359.8L543,360.9L530,362.5L514,363.5Z" fill="#9fff60"/><path d="M521,316L497,316.5L473,315.7L462.5,314.8L453,313.7L445,312.4L439,310.9L434.6,309L433.5,308L433,307.1L429,307.1L429,287.4L440.5,287.4L442.5,289.3L446.5,290.9L453.5,292.5L462.5,293.8L480.5,295.2L500.5,295.7L520.5,295.2L538.5,293.7L547.5,292.4L554,290.9L558,289.3L559.1,288.5L560,287.4L571.5,287.4L571.5,307.1L567.5,307.1L566.5,308.6L563.5,310.2L559,311.6L553,312.9L538.5,314.8L521,316ZM517,362.5L494,362.8L482.5,362.5L472,361.8L461,360.6L452.5,359L447,357.2L444.6,355.5L444.5,355.1L429,355.1L429,335.2L434,335.2L434.5,335.4L435.5,336.7L436.5,337.4L440.5,339L447,340.6L456,342L465.5,343L476.5,343.8L500.5,344.4L524.5,343.7L535.5,342.9L545,341.9L554,340.5L560.5,338.9L564.5,337.1L565.5,336.3L566,335.4L566.5,335.2L571.5,335.2L571.5,355.1L556.5,355.1L554,357L552.5,357.7L549,358.8L544.5,359.8L532.5,361.4L517,362.5Z" fill="#acff53"/><path d="M508.5,315.5L487,315.4L467,314.3L450.5,312.5L444,311.3L439,310L435,308.3L434,307.5L433,306.2L429,306.2L429,289.5L439.5,289.5L440,290.5L441,291.3L445,293L451.2,294.5L461.2,296L479.8,297.5L500.5,298L520.8,297.5L539.4,296L549.4,294.5L555.5,293L559.5,291.4L560.5,290.6L561,289.5L571.5,289.5L571.5,306.2L567.5,306.2L566,308L562.5,309.7L557,311.2L549,312.6L530.5,314.6L508.5,315.5ZM520,361.5L498,362L480.7,361.5L472.9,361L459.3,359.5L451.5,358L446.9,356.5L445,355.4L444.8,355L443.5,354.1L429,354.1L429,335.9L434.5,335.9L435.5,337.3L437,338.3L441,339.8L447.5,341.3L457,342.8L474.5,344.3L486,344.9L500.5,345L514.5,344.9L526,344.3L543.5,342.8L553.5,341.3L559.5,339.8L562.5,338.8L564.5,337.7L565.8,336.5L566,335.9L571.5,335.9L571.5,354.1L557,354.1L555.5,355.5L553.7,356.5L551,357.5L547,358.5L533.2,360.5L520,361.5Z" fill="#b9ff46"/><path d="M513,314.5L491.5,314.6L471,313.7L453.5,312L446.5,310.9L441,309.6L435.5,307.6L434,306.4L433.5,305.3L429,305.3L429,291.4L438.5,291.4L439,292.3L440,293.2L444.4,295L451,296.6L460,297.9L479,299.5L500.5,300L522,299.4L540.5,297.9L549.5,296.6L556,295.1L560.1,293.5L562.5,291.4L571.5,291.4L571.5,305.3L567.5,305.3L565.5,307.3L562.5,308.7L557,310.3L550,311.6L533,313.5L513,314.5ZM516.5,360L504.5,360.3L492.5,360.3L480.5,359.8L469.5,359.1L459,357.9L450.5,356.3L445,354.5L442,352.3L429,352.3L429,337.1L435,337.1L436,338.5L437,339.3L441,340.9L447.5,342.5L456.5,343.9L466,344.9L477,345.6L500.5,346.2L524,345.6L535,344.8L544.5,343.8L553,342.5L559.5,340.9L563.5,339.3L564.5,338.6L565.5,337.3L566,337.1L571.5,337.1L571.5,352.3L558.5,352.3L558,352.4L556.5,354L554.5,355L551,356.1L546,357.2L533,358.9L516.5,360Z" fill="#c6ff39"/><path d="M516.5,313.5L495.5,313.8L475,313.1L457,311.5L443.5,309.3L439.5,308.3L436.5,307.1L434.5,305.9L433.5,304.5L429,304.5L429,293.2L437.5,293.2L438.4,294.5L439.5,295.3L443.5,296.9L450,298.5L459,299.8L478.5,301.5L500.5,302L522.5,301.4L541.5,299.8L550.5,298.5L557,296.9L561.5,295.1L562.5,294.2L563,293.3L571.5,293.2L571.5,304.5L567,304.5L566.5,305.4L565.5,306.3L562.5,307.8L557.5,309.2L551,310.5L535.5,312.4L516.5,313.5ZM512,358.5L488.5,358.5L477.5,358L467,357.2L456.5,355.9L448.5,354.3L443.5,352.5L441,350.5L429,350.5L429,338.5L435.5,338.5L436.5,339.9L437.5,340.6L441.5,342.2L448,343.8L457,345.2L466.5,346.2L477,346.9L500.5,347.5L524,346.9L534.5,346.1L544,345.1L553,343.7L559.5,342.1L563.5,340.3L564.5,339.5L565,338.5L571.5,338.5L571.5,350.5L559.5,350.5L557.5,352.3L554,353.8L548.5,355.1L541,356.4L527.5,357.7L512,358.5Z" fill="#d2ff2d"/><path d="M519,312.5L499,312.9L479,312.4L461,311.1L446.5,309L441.5,307.9L437.5,306.6L435,305.2L434,303.7L429,303.6L429,295.1L436.5,295.1L438.5,297.1L442.5,298.8L449,300.3L458,301.7L467.5,302.7L478,303.4L500.5,304L523,303.4L542.5,301.7L551.5,300.4L558,298.8L562,297.2L563,296.5L564,295.1L571.5,295.1L571.5,303.6L567,303.6L565,305.6L561.5,307.2L554.5,309L544.5,310.5L532.5,311.7L519,312.5ZM520.5,354.5L502.5,355L484.5,354.7L468,353.7L454,352L447.5,350.7L443,349.4L440.5,348.2L439,346.5L429,346.5L429,339.8L435.5,339.8L436,339.9L437,341.2L438,341.9L442,343.5L448.5,345.1L457.5,346.5L467,347.4L477.5,348.2L500.5,348.7L523.5,348.1L534,347.4L543.5,346.4L552,345.1L558.5,343.5L562.5,342L563.5,341.3L564.5,339.9L565,339.8L571.5,339.8L571.5,346.5L561.5,346.5L561.3,347L560,348.2L557.5,349.4L552.5,350.9L546,352.1L534.5,353.5L520.5,354.5Z" fill="#dfff20"/></g>
<path transform="translate(0.8,0)" d="M96.6,134.2C97.6,133.2 99.2,133.6 100.2,135.2C101,136.8 100.9,139.4 100,140.6C99,141.4 97.6,140.6 97.2,138.6C96.8,137 96.2,135.2 96.6,134.2Z" fill="#ee1a00"/>
<path transform="translate(0.8,0)" d="M98.6,134.4C99.6,134.6 100.4,135.8 100.3,137C99.6,137.4 98.8,136.2 98.6,134.4Z" fill="#ff9a00"/>
<path d="M100.8,140.2C101.8,140.4 102.8,141 102.8,141.8C101.8,142 101,141.2 100.8,140.2Z" fill="#3050ff" opacity="0.8"/>
<text x="63.5" y="12.4" class="ttl" textLength="155" lengthAdjust="spacingAndGlyphs"><tspan font-weight="bold">(a)</tspan> <tspan font-style="italic">θ</tspan><tspan font-size="11.5" dy="2.6">min</tspan><tspan dy="-2.6">(</tspan><tspan font-weight="bold">r</tspan>) (exact value)</text>
<text x="421.7" y="12.4" class="ttl" textLength="156.5" lengthAdjust="spacingAndGlyphs"><tspan font-weight="bold">(b)</tspan> <tspan font-style="italic">θ</tspan><tspan font-size="11.5" dy="2.6">min</tspan><tspan dy="-2.6">(</tspan><tspan font-weight="bold">r</tspan>) (exact value)</text>
<text x="57.6" y="233.6" class="ttl" textLength="168" lengthAdjust="spacingAndGlyphs"><tspan font-weight="bold">(c)</tspan> <tspan font-style="italic">θ</tspan><tspan font-size="11.5" dy="2.6">min</tspan><tspan dy="-2.6">(</tspan><tspan font-weight="bold">r</tspan>) (error ≤ 0.60°)</text>
<text x="414.5" y="233.6" class="ttl" textLength="170" lengthAdjust="spacingAndGlyphs"><tspan font-weight="bold">(d)</tspan> <tspan font-style="italic">θ</tspan><tspan font-size="11.5" dy="2.6">min</tspan><tspan dy="-2.6">(</tspan><tspan font-weight="bold">r</tspan>) (error ≤ 0.33°)</text>
</svg>
</body></html>
